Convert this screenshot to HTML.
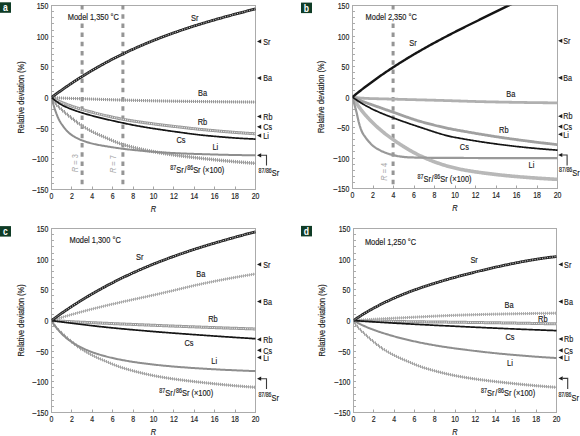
<!DOCTYPE html>
<html><head><meta charset="utf-8"><style>
html,body{margin:0;padding:0;background:#fff;overflow:hidden;width:580px;height:436px;}
svg{display:block;font-family:"Liberation Sans",sans-serif;}
</style></head><body>
<svg width="580" height="436" viewBox="0 0 580 436">
<defs><clipPath id="clipa"><rect x="51.5" y="5.5" width="206.0" height="184.0"/></clipPath><clipPath id="clipb"><rect x="352.5" y="5.5" width="207.0" height="183.0"/></clipPath><clipPath id="clipc"><rect x="51.5" y="228.5" width="206.0" height="184.0"/></clipPath><clipPath id="clipd"><rect x="353.5" y="228.5" width="205.0" height="184.0"/></clipPath></defs><rect x="51.5" y="5.5" width="204.00" height="184.00" fill="none" stroke="#ababab" stroke-width="1"/><line x1="51.5" y1="183.50" x2="54.0" y2="183.50" stroke="#ababab" stroke-width="1"/><line x1="51.5" y1="177.50" x2="54.0" y2="177.50" stroke="#ababab" stroke-width="1"/><line x1="51.5" y1="171.50" x2="54.0" y2="171.50" stroke="#ababab" stroke-width="1"/><line x1="51.5" y1="164.50" x2="54.0" y2="164.50" stroke="#ababab" stroke-width="1"/><line x1="51.5" y1="158.50" x2="54.0" y2="158.50" stroke="#ababab" stroke-width="1"/><line x1="51.5" y1="152.50" x2="54.0" y2="152.50" stroke="#ababab" stroke-width="1"/><line x1="51.5" y1="146.50" x2="54.0" y2="146.50" stroke="#ababab" stroke-width="1"/><line x1="51.5" y1="140.50" x2="54.0" y2="140.50" stroke="#ababab" stroke-width="1"/><line x1="51.5" y1="134.50" x2="54.0" y2="134.50" stroke="#ababab" stroke-width="1"/><line x1="51.5" y1="128.50" x2="54.0" y2="128.50" stroke="#ababab" stroke-width="1"/><line x1="51.5" y1="122.50" x2="54.0" y2="122.50" stroke="#ababab" stroke-width="1"/><line x1="51.5" y1="115.50" x2="54.0" y2="115.50" stroke="#ababab" stroke-width="1"/><line x1="51.5" y1="109.50" x2="54.0" y2="109.50" stroke="#ababab" stroke-width="1"/><line x1="51.5" y1="103.50" x2="54.0" y2="103.50" stroke="#ababab" stroke-width="1"/><line x1="51.5" y1="97.50" x2="54.0" y2="97.50" stroke="#ababab" stroke-width="1"/><line x1="51.5" y1="91.50" x2="54.0" y2="91.50" stroke="#ababab" stroke-width="1"/><line x1="51.5" y1="85.50" x2="54.0" y2="85.50" stroke="#ababab" stroke-width="1"/><line x1="51.5" y1="79.50" x2="54.0" y2="79.50" stroke="#ababab" stroke-width="1"/><line x1="51.5" y1="72.50" x2="54.0" y2="72.50" stroke="#ababab" stroke-width="1"/><line x1="51.5" y1="66.50" x2="54.0" y2="66.50" stroke="#ababab" stroke-width="1"/><line x1="51.5" y1="60.50" x2="54.0" y2="60.50" stroke="#ababab" stroke-width="1"/><line x1="51.5" y1="54.50" x2="54.0" y2="54.50" stroke="#ababab" stroke-width="1"/><line x1="51.5" y1="48.50" x2="54.0" y2="48.50" stroke="#ababab" stroke-width="1"/><line x1="51.5" y1="42.50" x2="54.0" y2="42.50" stroke="#ababab" stroke-width="1"/><line x1="51.5" y1="36.50" x2="54.0" y2="36.50" stroke="#ababab" stroke-width="1"/><line x1="51.5" y1="30.50" x2="54.0" y2="30.50" stroke="#ababab" stroke-width="1"/><line x1="51.5" y1="23.50" x2="54.0" y2="23.50" stroke="#ababab" stroke-width="1"/><line x1="51.5" y1="17.50" x2="54.0" y2="17.50" stroke="#ababab" stroke-width="1"/><line x1="51.5" y1="11.50" x2="54.0" y2="11.50" stroke="#ababab" stroke-width="1"/><line x1="71.50" y1="189.5" x2="71.50" y2="186.5" stroke="#a5a5a5" stroke-width="1"/><line x1="92.50" y1="189.5" x2="92.50" y2="186.5" stroke="#a5a5a5" stroke-width="1"/><line x1="112.50" y1="189.5" x2="112.50" y2="186.5" stroke="#a5a5a5" stroke-width="1"/><line x1="133.50" y1="189.5" x2="133.50" y2="186.5" stroke="#a5a5a5" stroke-width="1"/><line x1="153.50" y1="189.5" x2="153.50" y2="186.5" stroke="#a5a5a5" stroke-width="1"/><line x1="173.50" y1="189.5" x2="173.50" y2="186.5" stroke="#a5a5a5" stroke-width="1"/><line x1="194.50" y1="189.5" x2="194.50" y2="186.5" stroke="#a5a5a5" stroke-width="1"/><line x1="214.50" y1="189.5" x2="214.50" y2="186.5" stroke="#a5a5a5" stroke-width="1"/><line x1="235.50" y1="189.5" x2="235.50" y2="186.5" stroke="#a5a5a5" stroke-width="1"/><text transform="translate(48.30,193.10) scale(0.8,1)" text-anchor="end" font-size="8.7" fill="#1c1c1c" stroke="#1c1c1c" stroke-width="0.16" ><tspan font-size="10.6" dy="0.6" stroke-width="0">&#8722;</tspan><tspan dy="-0.6">150</tspan></text><text transform="translate(48.30,162.43) scale(0.8,1)" text-anchor="end" font-size="8.7" fill="#1c1c1c" stroke="#1c1c1c" stroke-width="0.16" ><tspan font-size="10.6" dy="0.6" stroke-width="0">&#8722;</tspan><tspan dy="-0.6">100</tspan></text><text transform="translate(48.30,131.77) scale(0.8,1)" text-anchor="end" font-size="8.7" fill="#1c1c1c" stroke="#1c1c1c" stroke-width="0.16" ><tspan font-size="10.6" dy="0.6" stroke-width="0">&#8722;</tspan><tspan dy="-0.6">50</tspan></text><text transform="translate(48.30,101.10) scale(0.8,1)" text-anchor="end" font-size="8.7" fill="#1c1c1c" stroke="#1c1c1c" stroke-width="0.16" >0</text><text transform="translate(48.30,70.43) scale(0.8,1)" text-anchor="end" font-size="8.7" fill="#1c1c1c" stroke="#1c1c1c" stroke-width="0.16" >50</text><text transform="translate(48.30,39.77) scale(0.8,1)" text-anchor="end" font-size="8.7" fill="#1c1c1c" stroke="#1c1c1c" stroke-width="0.16" >100</text><text transform="translate(48.30,9.10) scale(0.8,1)" text-anchor="end" font-size="8.7" fill="#1c1c1c" stroke="#1c1c1c" stroke-width="0.16" >150</text><text transform="translate(51.50,199.40) scale(0.8,1)" text-anchor="middle" font-size="8.7" fill="#1c1c1c" stroke="#1c1c1c" stroke-width="0.16" >0</text><text transform="translate(71.90,199.40) scale(0.8,1)" text-anchor="middle" font-size="8.7" fill="#1c1c1c" stroke="#1c1c1c" stroke-width="0.16" >2</text><text transform="translate(92.30,199.40) scale(0.8,1)" text-anchor="middle" font-size="8.7" fill="#1c1c1c" stroke="#1c1c1c" stroke-width="0.16" >4</text><text transform="translate(112.70,199.40) scale(0.8,1)" text-anchor="middle" font-size="8.7" fill="#1c1c1c" stroke="#1c1c1c" stroke-width="0.16" >6</text><text transform="translate(133.10,199.40) scale(0.8,1)" text-anchor="middle" font-size="8.7" fill="#1c1c1c" stroke="#1c1c1c" stroke-width="0.16" >8</text><text transform="translate(153.50,199.40) scale(0.8,1)" text-anchor="middle" font-size="8.7" fill="#1c1c1c" stroke="#1c1c1c" stroke-width="0.16" >10</text><text transform="translate(173.90,199.40) scale(0.8,1)" text-anchor="middle" font-size="8.7" fill="#1c1c1c" stroke="#1c1c1c" stroke-width="0.16" >12</text><text transform="translate(194.30,199.40) scale(0.8,1)" text-anchor="middle" font-size="8.7" fill="#1c1c1c" stroke="#1c1c1c" stroke-width="0.16" >14</text><text transform="translate(214.70,199.40) scale(0.8,1)" text-anchor="middle" font-size="8.7" fill="#1c1c1c" stroke="#1c1c1c" stroke-width="0.16" >16</text><text transform="translate(235.10,199.40) scale(0.8,1)" text-anchor="middle" font-size="8.7" fill="#1c1c1c" stroke="#1c1c1c" stroke-width="0.16" >18</text><text transform="translate(255.50,199.40) scale(0.8,1)" text-anchor="middle" font-size="8.7" fill="#1c1c1c" stroke="#1c1c1c" stroke-width="0.16" >20</text><text transform="translate(153.50,211.50) scale(0.855,1)" text-anchor="middle" font-size="8.7" fill="#1c1c1c" stroke="#1c1c1c" stroke-width="0.16" font-style="italic">R</text><text transform="translate(24.30,97.50) rotate(-90) scale(0.855,1)" text-anchor="middle" font-size="8.7" fill="#1c1c1c" stroke="#1c1c1c" stroke-width="0.16">Relative deviation (%)</text><line x1="82.10" y1="5.0" x2="82.10" y2="189.5" stroke="#959595" stroke-width="3" stroke-dasharray="4.5 4.7"/><line x1="122.90" y1="5.0" x2="122.90" y2="189.5" stroke="#959595" stroke-width="3" stroke-dasharray="4.5 4.7"/><path d="M51.50,97.50 L52.52,98.03 L53.54,98.56 L54.56,99.09 L55.58,99.60 L56.60,100.10 L57.62,100.59 L58.64,101.07 L59.66,101.53 L60.68,101.98 L61.70,102.41 L62.72,102.82 L63.74,103.23 L64.76,103.63 L65.78,104.02 L66.80,104.41 L67.82,104.79 L68.84,105.16 L69.86,105.53 L70.88,105.89 L71.90,106.24 L72.92,106.59 L73.94,106.93 L74.96,107.27 L75.98,107.60 L77.00,107.92 L78.02,108.24 L79.04,108.55 L80.06,108.86 L81.08,109.16 L82.10,109.46 L83.12,109.75 L84.14,110.05 L85.16,110.34 L86.18,110.62 L87.20,110.91 L88.22,111.19 L89.24,111.47 L90.26,111.75 L91.28,112.02 L92.30,112.29 L93.32,112.57 L94.34,112.83 L95.36,113.10 L96.38,113.36 L97.40,113.62 L98.42,113.88 L99.44,114.13 L100.46,114.39 L101.48,114.64 L102.50,114.88 L103.52,115.13 L104.54,115.37 L105.56,115.61 L106.58,115.85 L107.60,116.08 L108.62,116.32 L109.64,116.54 L110.66,116.77 L111.68,116.99 L112.70,117.22 L113.72,117.43 L114.74,117.65 L115.76,117.86 L116.78,118.07 L117.80,118.28 L118.82,118.48 L119.84,118.69 L120.86,118.88 L121.88,119.08 L122.90,119.27 L123.92,119.46 L124.94,119.65 L125.96,119.83 L126.98,120.01 L128.00,120.18 L129.02,120.35 L130.04,120.52 L131.06,120.68 L132.08,120.84 L133.10,121.00 L134.12,121.16 L135.14,121.31 L136.16,121.47 L137.18,121.62 L138.20,121.77 L139.22,121.92 L140.24,122.06 L141.26,122.21 L142.28,122.35 L143.30,122.50 L144.32,122.64 L145.34,122.78 L146.36,122.92 L147.38,123.06 L148.40,123.20 L149.42,123.34 L150.44,123.48 L151.46,123.61 L152.48,123.74 L153.50,123.88 L154.52,124.01 L155.54,124.14 L156.56,124.27 L157.58,124.40 L158.60,124.53 L159.62,124.66 L160.64,124.79 L161.66,124.91 L162.68,125.04 L163.70,125.17 L164.72,125.29 L165.74,125.42 L166.76,125.54 L167.78,125.66 L168.80,125.78 L169.82,125.91 L170.84,126.03 L171.86,126.15 L172.88,126.27 L173.90,126.39 L174.92,126.51 L175.94,126.63 L176.96,126.75 L177.98,126.87 L179.00,126.99 L180.02,127.11 L181.04,127.23 L182.06,127.35 L183.08,127.47 L184.10,127.59 L185.12,127.71 L186.14,127.82 L187.16,127.94 L188.18,128.05 L189.20,128.17 L190.22,128.28 L191.24,128.40 L192.26,128.51 L193.28,128.62 L194.30,128.73 L195.32,128.84 L196.34,128.95 L197.36,129.05 L198.38,129.16 L199.40,129.26 L200.42,129.37 L201.44,129.47 L202.46,129.57 L203.48,129.67 L204.50,129.76 L205.52,129.86 L206.54,129.95 L207.56,130.05 L208.58,130.14 L209.60,130.23 L210.62,130.33 L211.64,130.42 L212.66,130.51 L213.68,130.60 L214.70,130.69 L215.72,130.79 L216.74,130.88 L217.76,130.97 L218.78,131.05 L219.80,131.14 L220.82,131.23 L221.84,131.32 L222.86,131.41 L223.88,131.49 L224.90,131.58 L225.92,131.66 L226.94,131.75 L227.96,131.83 L228.98,131.92 L230.00,132.00 L231.02,132.08 L232.04,132.16 L233.06,132.24 L234.08,132.32 L235.10,132.40 L236.12,132.48 L237.14,132.56 L238.16,132.63 L239.18,132.71 L240.20,132.79 L241.22,132.86 L242.24,132.93 L243.26,133.01 L244.28,133.08 L245.30,133.15 L246.32,133.22 L247.34,133.29 L248.36,133.36 L249.38,133.42 L250.40,133.49 L251.42,133.56 L252.44,133.62 L253.46,133.68 L254.48,133.75 L255.50,133.81" clip-path="url(#clipa)" fill="none" stroke="#9a9a9a" stroke-width="3"/><path d="M51.50,97.50 L52.52,98.03 L53.54,98.56 L54.56,99.09 L55.58,99.60 L56.60,100.10 L57.62,100.59 L58.64,101.07 L59.66,101.53 L60.68,101.98 L61.70,102.41 L62.72,102.82 L63.74,103.23 L64.76,103.63 L65.78,104.02 L66.80,104.41 L67.82,104.79 L68.84,105.16 L69.86,105.53 L70.88,105.89 L71.90,106.24 L72.92,106.59 L73.94,106.93 L74.96,107.27 L75.98,107.60 L77.00,107.92 L78.02,108.24 L79.04,108.55 L80.06,108.86 L81.08,109.16 L82.10,109.46 L83.12,109.75 L84.14,110.05 L85.16,110.34 L86.18,110.62 L87.20,110.91 L88.22,111.19 L89.24,111.47 L90.26,111.75 L91.28,112.02 L92.30,112.29 L93.32,112.57 L94.34,112.83 L95.36,113.10 L96.38,113.36 L97.40,113.62 L98.42,113.88 L99.44,114.13 L100.46,114.39 L101.48,114.64 L102.50,114.88 L103.52,115.13 L104.54,115.37 L105.56,115.61 L106.58,115.85 L107.60,116.08 L108.62,116.32 L109.64,116.54 L110.66,116.77 L111.68,116.99 L112.70,117.22 L113.72,117.43 L114.74,117.65 L115.76,117.86 L116.78,118.07 L117.80,118.28 L118.82,118.48 L119.84,118.69 L120.86,118.88 L121.88,119.08 L122.90,119.27 L123.92,119.46 L124.94,119.65 L125.96,119.83 L126.98,120.01 L128.00,120.18 L129.02,120.35 L130.04,120.52 L131.06,120.68 L132.08,120.84 L133.10,121.00 L134.12,121.16 L135.14,121.31 L136.16,121.47 L137.18,121.62 L138.20,121.77 L139.22,121.92 L140.24,122.06 L141.26,122.21 L142.28,122.35 L143.30,122.50 L144.32,122.64 L145.34,122.78 L146.36,122.92 L147.38,123.06 L148.40,123.20 L149.42,123.34 L150.44,123.48 L151.46,123.61 L152.48,123.74 L153.50,123.88 L154.52,124.01 L155.54,124.14 L156.56,124.27 L157.58,124.40 L158.60,124.53 L159.62,124.66 L160.64,124.79 L161.66,124.91 L162.68,125.04 L163.70,125.17 L164.72,125.29 L165.74,125.42 L166.76,125.54 L167.78,125.66 L168.80,125.78 L169.82,125.91 L170.84,126.03 L171.86,126.15 L172.88,126.27 L173.90,126.39 L174.92,126.51 L175.94,126.63 L176.96,126.75 L177.98,126.87 L179.00,126.99 L180.02,127.11 L181.04,127.23 L182.06,127.35 L183.08,127.47 L184.10,127.59 L185.12,127.71 L186.14,127.82 L187.16,127.94 L188.18,128.05 L189.20,128.17 L190.22,128.28 L191.24,128.40 L192.26,128.51 L193.28,128.62 L194.30,128.73 L195.32,128.84 L196.34,128.95 L197.36,129.05 L198.38,129.16 L199.40,129.26 L200.42,129.37 L201.44,129.47 L202.46,129.57 L203.48,129.67 L204.50,129.76 L205.52,129.86 L206.54,129.95 L207.56,130.05 L208.58,130.14 L209.60,130.23 L210.62,130.33 L211.64,130.42 L212.66,130.51 L213.68,130.60 L214.70,130.69 L215.72,130.79 L216.74,130.88 L217.76,130.97 L218.78,131.05 L219.80,131.14 L220.82,131.23 L221.84,131.32 L222.86,131.41 L223.88,131.49 L224.90,131.58 L225.92,131.66 L226.94,131.75 L227.96,131.83 L228.98,131.92 L230.00,132.00 L231.02,132.08 L232.04,132.16 L233.06,132.24 L234.08,132.32 L235.10,132.40 L236.12,132.48 L237.14,132.56 L238.16,132.63 L239.18,132.71 L240.20,132.79 L241.22,132.86 L242.24,132.93 L243.26,133.01 L244.28,133.08 L245.30,133.15 L246.32,133.22 L247.34,133.29 L248.36,133.36 L249.38,133.42 L250.40,133.49 L251.42,133.56 L252.44,133.62 L253.46,133.68 L254.48,133.75 L255.50,133.81" clip-path="url(#clipa)" fill="none" stroke="#f0f0f0" stroke-width="1.1" stroke-dasharray="1 1.2"/><path d="M51.50,97.50 L52.52,97.57 L53.54,97.64 L54.56,97.71 L55.58,97.77 L56.60,97.84 L57.62,97.90 L58.64,97.96 L59.66,98.01 L60.68,98.07 L61.70,98.11 L62.72,98.16 L63.74,98.20 L64.76,98.24 L65.78,98.28 L66.80,98.31 L67.82,98.35 L68.84,98.38 L69.86,98.42 L70.88,98.45 L71.90,98.48 L72.92,98.51 L73.94,98.54 L74.96,98.57 L75.98,98.60 L77.00,98.63 L78.02,98.66 L79.04,98.69 L80.06,98.72 L81.08,98.76 L82.10,98.79 L83.12,98.82 L84.14,98.85 L85.16,98.89 L86.18,98.92 L87.20,98.96 L88.22,98.99 L89.24,99.02 L90.26,99.06 L91.28,99.09 L92.30,99.13 L93.32,99.16 L94.34,99.19 L95.36,99.23 L96.38,99.26 L97.40,99.30 L98.42,99.33 L99.44,99.36 L100.46,99.40 L101.48,99.43 L102.50,99.47 L103.52,99.50 L104.54,99.53 L105.56,99.56 L106.58,99.60 L107.60,99.63 L108.62,99.66 L109.64,99.69 L110.66,99.73 L111.68,99.76 L112.70,99.79 L113.72,99.82 L114.74,99.85 L115.76,99.88 L116.78,99.91 L117.80,99.94 L118.82,99.97 L119.84,99.99 L120.86,100.02 L121.88,100.05 L122.90,100.08 L123.92,100.10 L124.94,100.13 L125.96,100.15 L126.98,100.18 L128.00,100.21 L129.02,100.23 L130.04,100.26 L131.06,100.28 L132.08,100.31 L133.10,100.34 L134.12,100.36 L135.14,100.39 L136.16,100.41 L137.18,100.44 L138.20,100.46 L139.22,100.49 L140.24,100.51 L141.26,100.54 L142.28,100.56 L143.30,100.58 L144.32,100.61 L145.34,100.63 L146.36,100.65 L147.38,100.68 L148.40,100.70 L149.42,100.72 L150.44,100.75 L151.46,100.77 L152.48,100.79 L153.50,100.81 L154.52,100.83 L155.54,100.85 L156.56,100.87 L157.58,100.90 L158.60,100.92 L159.62,100.94 L160.64,100.96 L161.66,100.97 L162.68,100.99 L163.70,101.01 L164.72,101.03 L165.74,101.05 L166.76,101.07 L167.78,101.08 L168.80,101.10 L169.82,101.12 L170.84,101.13 L171.86,101.15 L172.88,101.16 L173.90,101.18 L174.92,101.19 L175.94,101.21 L176.96,101.22 L177.98,101.24 L179.00,101.25 L180.02,101.27 L181.04,101.28 L182.06,101.30 L183.08,101.31 L184.10,101.33 L185.12,101.34 L186.14,101.36 L187.16,101.37 L188.18,101.38 L189.20,101.40 L190.22,101.41 L191.24,101.43 L192.26,101.44 L193.28,101.45 L194.30,101.47 L195.32,101.48 L196.34,101.49 L197.36,101.51 L198.38,101.52 L199.40,101.53 L200.42,101.55 L201.44,101.56 L202.46,101.57 L203.48,101.59 L204.50,101.60 L205.52,101.61 L206.54,101.62 L207.56,101.64 L208.58,101.65 L209.60,101.66 L210.62,101.67 L211.64,101.69 L212.66,101.70 L213.68,101.71 L214.70,101.72 L215.72,101.73 L216.74,101.74 L217.76,101.75 L218.78,101.76 L219.80,101.78 L220.82,101.79 L221.84,101.80 L222.86,101.81 L223.88,101.82 L224.90,101.83 L225.92,101.84 L226.94,101.85 L227.96,101.86 L228.98,101.87 L230.00,101.87 L231.02,101.88 L232.04,101.89 L233.06,101.90 L234.08,101.91 L235.10,101.92 L236.12,101.93 L237.14,101.93 L238.16,101.94 L239.18,101.95 L240.20,101.96 L241.22,101.96 L242.24,101.97 L243.26,101.98 L244.28,101.98 L245.30,101.99 L246.32,102.00 L247.34,102.00 L248.36,102.01 L249.38,102.01 L250.40,102.02 L251.42,102.02 L252.44,102.03 L253.46,102.03 L254.48,102.03 L255.50,102.04" clip-path="url(#clipa)" fill="none" stroke="#b0b0b0" stroke-width="1"/><path d="M51.50,95.95v3.10M53.50,96.05v3.10M55.50,96.19v3.10M57.50,96.31v3.10M59.50,96.43v3.10M61.50,96.53v3.10M63.50,96.62v3.10M65.50,96.70v3.10M67.50,96.77v3.10M69.50,96.84v3.10M71.50,96.90v3.10M73.50,96.96v3.10M75.50,97.02v3.10M77.50,97.08v3.10M79.50,97.14v3.10M81.50,97.20v3.10M83.50,97.27v3.10M85.50,97.33v3.10M87.50,97.40v3.10M89.50,97.47v3.10M91.50,97.53v3.10M93.50,97.60v3.10M95.50,97.67v3.10M97.50,97.73v3.10M99.50,97.80v3.10M101.50,97.87v3.10M103.50,97.93v3.10M105.50,98.00v3.10M107.50,98.06v3.10M109.50,98.12v3.10M111.50,98.19v3.10M113.50,98.25v3.10M115.50,98.31v3.10M117.50,98.37v3.10M119.50,98.42v3.10M121.50,98.48v3.10M123.50,98.53v3.10M125.50,98.58v3.10M127.50,98.63v3.10M129.50,98.68v3.10M131.50,98.73v3.10M133.50,98.78v3.10M135.50,98.83v3.10M137.50,98.88v3.10M139.50,98.93v3.10M141.50,98.98v3.10M143.50,99.03v3.10M145.50,99.07v3.10M147.50,99.12v3.10M149.50,99.16v3.10M151.50,99.21v3.10M153.50,99.25v3.10M155.50,99.29v3.10M157.50,99.33v3.10M159.50,99.37v3.10M161.50,99.41v3.10M163.50,99.45v3.10M165.50,99.49v3.10M167.50,99.52v3.10M169.50,99.55v3.10M171.50,99.59v3.10M173.50,99.62v3.10M175.50,99.65v3.10M177.50,99.68v3.10M179.50,99.70v3.10M181.50,99.73v3.10M183.50,99.76v3.10M185.50,99.79v3.10M187.50,99.82v3.10M189.50,99.85v3.10M191.50,99.87v3.10M193.50,99.90v3.10M195.50,99.93v3.10M197.50,99.95v3.10M199.50,99.98v3.10M201.50,100.01v3.10M203.50,100.03v3.10M205.50,100.06v3.10M207.50,100.08v3.10M209.50,100.10v3.10M211.50,100.13v3.10M213.50,100.15v3.10M215.50,100.17v3.10M217.50,100.20v3.10M219.50,100.22v3.10M221.50,100.24v3.10M223.50,100.26v3.10M225.50,100.28v3.10M227.50,100.30v3.10M229.50,100.32v3.10M231.50,100.33v3.10M233.50,100.35v3.10M235.50,100.37v3.10M237.50,100.38v3.10M239.50,100.40v3.10M241.50,100.41v3.10M243.50,100.43v3.10M245.50,100.44v3.10M247.50,100.45v3.10M249.50,100.46v3.10M251.50,100.47v3.10M253.50,100.48v3.10M255.50,100.49v3.10" fill="none" stroke="#979797" stroke-width="1"/><path d="M51.50,97.50 L52.52,99.36 L53.54,101.11 L54.56,102.65 L55.58,103.95 L56.60,105.08 L57.62,106.11 L58.64,107.06 L59.66,107.97 L60.68,108.86 L61.70,109.77 L62.72,110.68 L63.74,111.59 L64.76,112.47 L65.78,113.35 L66.80,114.21 L67.82,115.06 L68.84,115.90 L69.86,116.73 L70.88,117.55 L71.90,118.35 L72.92,119.16 L73.94,119.95 L74.96,120.74 L75.98,121.53 L77.00,122.30 L78.02,123.05 L79.04,123.80 L80.06,124.52 L81.08,125.22 L82.10,125.90 L83.12,126.56 L84.14,127.20 L85.16,127.83 L86.18,128.45 L87.20,129.06 L88.22,129.64 L89.24,130.22 L90.26,130.78 L91.28,131.32 L92.30,131.85 L93.32,132.36 L94.34,132.85 L95.36,133.33 L96.38,133.80 L97.40,134.25 L98.42,134.70 L99.44,135.14 L100.46,135.58 L101.48,136.01 L102.50,136.45 L103.52,136.88 L104.54,137.33 L105.56,137.77 L106.58,138.22 L107.60,138.66 L108.62,139.11 L109.64,139.55 L110.66,139.99 L111.68,140.43 L112.70,140.86 L113.72,141.29 L114.74,141.70 L115.76,142.11 L116.78,142.51 L117.80,142.89 L118.82,143.26 L119.84,143.62 L120.86,143.97 L121.88,144.29 L122.90,144.60 L123.92,144.90 L124.94,145.20 L125.96,145.49 L126.98,145.77 L128.00,146.05 L129.02,146.32 L130.04,146.60 L131.06,146.86 L132.08,147.12 L133.10,147.38 L134.12,147.64 L135.14,147.89 L136.16,148.13 L137.18,148.37 L138.20,148.61 L139.22,148.84 L140.24,149.07 L141.26,149.30 L142.28,149.52 L143.30,149.74 L144.32,149.96 L145.34,150.17 L146.36,150.38 L147.38,150.59 L148.40,150.79 L149.42,150.99 L150.44,151.18 L151.46,151.38 L152.48,151.57 L153.50,151.76 L154.52,151.94 L155.54,152.12 L156.56,152.30 L157.58,152.48 L158.60,152.65 L159.62,152.82 L160.64,152.99 L161.66,153.16 L162.68,153.32 L163.70,153.49 L164.72,153.65 L165.74,153.81 L166.76,153.96 L167.78,154.12 L168.80,154.27 L169.82,154.42 L170.84,154.57 L171.86,154.72 L172.88,154.86 L173.90,155.01 L174.92,155.15 L175.94,155.29 L176.96,155.43 L177.98,155.57 L179.00,155.70 L180.02,155.84 L181.04,155.97 L182.06,156.10 L183.08,156.23 L184.10,156.36 L185.12,156.49 L186.14,156.61 L187.16,156.74 L188.18,156.86 L189.20,156.98 L190.22,157.11 L191.24,157.23 L192.26,157.35 L193.28,157.46 L194.30,157.58 L195.32,157.70 L196.34,157.81 L197.36,157.93 L198.38,158.04 L199.40,158.16 L200.42,158.27 L201.44,158.38 L202.46,158.49 L203.48,158.60 L204.50,158.71 L205.52,158.82 L206.54,158.93 L207.56,159.04 L208.58,159.14 L209.60,159.25 L210.62,159.36 L211.64,159.46 L212.66,159.57 L213.68,159.67 L214.70,159.78 L215.72,159.88 L216.74,159.98 L217.76,160.09 L218.78,160.19 L219.80,160.29 L220.82,160.39 L221.84,160.49 L222.86,160.59 L223.88,160.69 L224.90,160.78 L225.92,160.88 L226.94,160.98 L227.96,161.07 L228.98,161.17 L230.00,161.26 L231.02,161.35 L232.04,161.44 L233.06,161.53 L234.08,161.63 L235.10,161.71 L236.12,161.80 L237.14,161.89 L238.16,161.98 L239.18,162.06 L240.20,162.15 L241.22,162.23 L242.24,162.32 L243.26,162.40 L244.28,162.48 L245.30,162.56 L246.32,162.64 L247.34,162.72 L248.36,162.80 L249.38,162.87 L250.40,162.95 L251.42,163.02 L252.44,163.10 L253.46,163.17 L254.48,163.24 L255.50,163.31" clip-path="url(#clipa)" fill="none" stroke="#b4b4b4" stroke-width="1.5"/><path d="M51.50,95.70v3.60M52.50,97.84v3.60M53.50,99.91v3.60M55.50,101.46v3.60M56.50,103.28v3.60M58.50,104.68v3.60M59.50,106.28v3.60M61.50,107.35v3.60M62.50,108.97v3.60M64.50,110.03v3.60M65.50,111.61v3.60M67.50,112.58v3.60M68.50,114.12v3.60M70.50,115.05v3.60M71.50,116.55v3.60M73.50,117.44v3.60M74.50,118.92v3.60M76.50,119.75v3.60M77.50,121.20v3.60M79.50,121.98v3.60M81.50,123.37v3.60M83.50,124.69v3.60M85.50,125.94v3.60M87.50,127.15v3.60M89.50,128.29v3.60M91.50,129.39v3.60M93.50,130.41v3.60M95.50,131.36v3.60M97.50,132.28v3.60M99.50,133.15v3.60M101.50,134.02v3.60M103.50,134.86v3.60M105.50,135.74v3.60M107.50,136.61v3.60M109.50,137.48v3.60M111.50,138.35v3.60M113.50,139.19v3.60M115.50,140.01v3.60M117.50,140.79v3.60M119.50,141.54v3.60M121.50,142.22v3.60M123.50,142.83v3.60M125.50,143.42v3.60M127.50,143.98v3.60M129.50,144.52v3.60M131.50,145.05v3.60M133.50,145.56v3.60M135.50,146.05v3.60M137.50,146.53v3.60M139.50,147.00v3.60M141.50,147.44v3.60M143.50,147.88v3.60M145.50,148.30v3.60M147.50,148.71v3.60M149.50,149.11v3.60M151.50,149.49v3.60M153.50,149.87v3.60M155.50,150.23v3.60M157.50,150.58v3.60M159.50,150.92v3.60M161.50,151.25v3.60M163.50,151.58v3.60M165.50,151.89v3.60M167.50,152.20v3.60M169.50,152.50v3.60M171.50,152.80v3.60M173.50,153.08v3.60M175.50,153.36v3.60M177.50,153.64v3.60M179.50,153.90v3.60M181.50,154.17v3.60M183.50,154.42v3.60M185.50,154.67v3.60M187.50,154.92v3.60M189.50,155.16v3.60M191.50,155.40v3.60M193.50,155.63v3.60M195.50,155.86v3.60M197.50,156.09v3.60M199.50,156.31v3.60M201.50,156.53v3.60M203.50,156.75v3.60M205.50,156.97v3.60M207.50,157.18v3.60M209.50,157.39v3.60M211.50,157.60v3.60M213.50,157.81v3.60M215.50,158.01v3.60M217.50,158.21v3.60M219.50,158.41v3.60M221.50,158.61v3.60M223.50,158.80v3.60M225.50,158.99v3.60M227.50,159.18v3.60M229.50,159.37v3.60M231.50,159.55v3.60M233.50,159.73v3.60M235.50,159.91v3.60M237.50,160.08v3.60M239.50,160.25v3.60M241.50,160.42v3.60M243.50,160.58v3.60M245.50,160.74v3.60M247.50,160.89v3.60M249.50,161.05v3.60M251.50,161.19v3.60M253.50,161.34v3.60M255.50,161.48v3.60" fill="none" stroke="#9c9c9c" stroke-width="1"/><path d="M51.50,97.50 L52.52,101.49 L53.54,105.07 L54.56,108.33 L55.58,111.35 L56.60,114.20 L57.62,116.74 L58.64,118.97 L59.66,120.95 L60.68,122.68 L61.70,124.24 L62.72,125.67 L63.74,127.06 L64.76,128.40 L65.78,129.67 L66.80,130.82 L67.82,131.84 L68.84,132.77 L69.86,133.63 L70.88,134.42 L71.90,135.15 L72.92,135.82 L73.94,136.45 L74.96,137.03 L75.98,137.59 L77.00,138.11 L78.02,138.62 L79.04,139.11 L80.06,139.58 L81.08,140.01 L82.10,140.41 L83.12,140.79 L84.14,141.16 L85.16,141.51 L86.18,141.86 L87.20,142.19 L88.22,142.50 L89.24,142.81 L90.26,143.10 L91.28,143.37 L92.30,143.62 L93.32,143.86 L94.34,144.10 L95.36,144.32 L96.38,144.53 L97.40,144.73 L98.42,144.93 L99.44,145.12 L100.46,145.31 L101.48,145.49 L102.50,145.66 L103.52,145.84 L104.54,146.01 L105.56,146.18 L106.58,146.35 L107.60,146.51 L108.62,146.68 L109.64,146.84 L110.66,147.00 L111.68,147.16 L112.70,147.32 L113.72,147.48 L114.74,147.63 L115.76,147.78 L116.78,147.93 L117.80,148.08 L118.82,148.23 L119.84,148.37 L120.86,148.51 L121.88,148.64 L122.90,148.78 L123.92,148.91 L124.94,149.04 L125.96,149.16 L126.98,149.29 L128.00,149.41 L129.02,149.52 L130.04,149.63 L131.06,149.74 L132.08,149.85 L133.10,149.96 L134.12,150.07 L135.14,150.17 L136.16,150.27 L137.18,150.37 L138.20,150.47 L139.22,150.57 L140.24,150.67 L141.26,150.77 L142.28,150.86 L143.30,150.95 L144.32,151.04 L145.34,151.13 L146.36,151.22 L147.38,151.31 L148.40,151.39 L149.42,151.47 L150.44,151.55 L151.46,151.63 L152.48,151.71 L153.50,151.79 L154.52,151.86 L155.54,151.94 L156.56,152.01 L157.58,152.08 L158.60,152.14 L159.62,152.21 L160.64,152.27 L161.66,152.34 L162.68,152.40 L163.70,152.46 L164.72,152.52 L165.74,152.59 L166.76,152.65 L167.78,152.70 L168.80,152.76 L169.82,152.82 L170.84,152.88 L171.86,152.93 L172.88,152.99 L173.90,153.04 L174.92,153.09 L175.94,153.14 L176.96,153.19 L177.98,153.24 L179.00,153.29 L180.02,153.34 L181.04,153.38 L182.06,153.43 L183.08,153.47 L184.10,153.51 L185.12,153.56 L186.14,153.60 L187.16,153.63 L188.18,153.67 L189.20,153.71 L190.22,153.74 L191.24,153.78 L192.26,153.81 L193.28,153.84 L194.30,153.88 L195.32,153.91 L196.34,153.95 L197.36,153.98 L198.38,154.01 L199.40,154.05 L200.42,154.08 L201.44,154.11 L202.46,154.14 L203.48,154.18 L204.50,154.21 L205.52,154.24 L206.54,154.27 L207.56,154.30 L208.58,154.34 L209.60,154.37 L210.62,154.40 L211.64,154.43 L212.66,154.46 L213.68,154.49 L214.70,154.52 L215.72,154.55 L216.74,154.57 L217.76,154.60 L218.78,154.63 L219.80,154.66 L220.82,154.69 L221.84,154.71 L222.86,154.74 L223.88,154.76 L224.90,154.79 L225.92,154.81 L226.94,154.84 L227.96,154.86 L228.98,154.89 L230.00,154.91 L231.02,154.93 L232.04,154.95 L233.06,154.97 L234.08,155.00 L235.10,155.02 L236.12,155.03 L237.14,155.05 L238.16,155.07 L239.18,155.09 L240.20,155.11 L241.22,155.12 L242.24,155.14 L243.26,155.15 L244.28,155.17 L245.30,155.18 L246.32,155.19 L247.34,155.21 L248.36,155.22 L249.38,155.23 L250.40,155.24 L251.42,155.25 L252.44,155.26 L253.46,155.26 L254.48,155.27 L255.50,155.28" clip-path="url(#clipa)" fill="none" stroke="#8e8e8e" stroke-width="2"/><path d="M51.50,97.50 L52.52,98.35 L53.54,99.18 L54.56,100.00 L55.58,100.80 L56.60,101.57 L57.62,102.31 L58.64,103.02 L59.66,103.68 L60.68,104.30 L61.70,104.86 L62.72,105.39 L63.74,105.89 L64.76,106.38 L65.78,106.86 L66.80,107.31 L67.82,107.75 L68.84,108.18 L69.86,108.60 L70.88,109.00 L71.90,109.39 L72.92,109.77 L73.94,110.14 L74.96,110.50 L75.98,110.85 L77.00,111.20 L78.02,111.53 L79.04,111.87 L80.06,112.19 L81.08,112.51 L82.10,112.83 L83.12,113.15 L84.14,113.46 L85.16,113.76 L86.18,114.07 L87.20,114.36 L88.22,114.66 L89.24,114.94 L90.26,115.23 L91.28,115.51 L92.30,115.79 L93.32,116.06 L94.34,116.33 L95.36,116.60 L96.38,116.86 L97.40,117.12 L98.42,117.38 L99.44,117.63 L100.46,117.88 L101.48,118.13 L102.50,118.38 L103.52,118.62 L104.54,118.86 L105.56,119.10 L106.58,119.34 L107.60,119.58 L108.62,119.81 L109.64,120.04 L110.66,120.27 L111.68,120.50 L112.70,120.73 L113.72,120.95 L114.74,121.18 L115.76,121.40 L116.78,121.63 L117.80,121.85 L118.82,122.07 L119.84,122.29 L120.86,122.51 L121.88,122.73 L122.90,122.95 L123.92,123.17 L124.94,123.39 L125.96,123.61 L126.98,123.82 L128.00,124.03 L129.02,124.24 L130.04,124.44 L131.06,124.65 L132.08,124.85 L133.10,125.05 L134.12,125.25 L135.14,125.44 L136.16,125.63 L137.18,125.82 L138.20,126.00 L139.22,126.18 L140.24,126.36 L141.26,126.54 L142.28,126.71 L143.30,126.89 L144.32,127.06 L145.34,127.23 L146.36,127.40 L147.38,127.56 L148.40,127.73 L149.42,127.89 L150.44,128.06 L151.46,128.22 L152.48,128.38 L153.50,128.54 L154.52,128.69 L155.54,128.85 L156.56,129.00 L157.58,129.16 L158.60,129.31 L159.62,129.46 L160.64,129.61 L161.66,129.76 L162.68,129.91 L163.70,130.06 L164.72,130.21 L165.74,130.36 L166.76,130.50 L167.78,130.65 L168.80,130.79 L169.82,130.93 L170.84,131.08 L171.86,131.22 L172.88,131.36 L173.90,131.50 L174.92,131.64 L175.94,131.79 L176.96,131.93 L177.98,132.07 L179.00,132.21 L180.02,132.35 L181.04,132.49 L182.06,132.64 L183.08,132.78 L184.10,132.92 L185.12,133.06 L186.14,133.20 L187.16,133.34 L188.18,133.48 L189.20,133.61 L190.22,133.75 L191.24,133.88 L192.26,134.02 L193.28,134.15 L194.30,134.27 L195.32,134.40 L196.34,134.52 L197.36,134.64 L198.38,134.76 L199.40,134.88 L200.42,134.99 L201.44,135.10 L202.46,135.20 L203.48,135.31 L204.50,135.40 L205.52,135.50 L206.54,135.60 L207.56,135.69 L208.58,135.79 L209.60,135.88 L210.62,135.97 L211.64,136.07 L212.66,136.16 L213.68,136.25 L214.70,136.34 L215.72,136.43 L216.74,136.52 L217.76,136.61 L218.78,136.70 L219.80,136.79 L220.82,136.87 L221.84,136.96 L222.86,137.04 L223.88,137.13 L224.90,137.21 L225.92,137.29 L226.94,137.37 L227.96,137.45 L228.98,137.53 L230.00,137.61 L231.02,137.68 L232.04,137.76 L233.06,137.83 L234.08,137.91 L235.10,137.98 L236.12,138.05 L237.14,138.12 L238.16,138.18 L239.18,138.25 L240.20,138.31 L241.22,138.38 L242.24,138.44 L243.26,138.50 L244.28,138.56 L245.30,138.61 L246.32,138.67 L247.34,138.72 L248.36,138.77 L249.38,138.82 L250.40,138.87 L251.42,138.92 L252.44,138.96 L253.46,139.00 L254.48,139.05 L255.50,139.08" clip-path="url(#clipa)" fill="none" stroke="#151515" stroke-width="1.7"/><path d="M51.50,97.50 L52.52,96.73 L53.54,95.97 L54.56,95.22 L55.58,94.47 L56.60,93.72 L57.62,92.98 L58.64,92.24 L59.66,91.51 L60.68,90.78 L61.70,90.05 L62.72,89.33 L63.74,88.62 L64.76,87.91 L65.78,87.20 L66.80,86.50 L67.82,85.80 L68.84,85.10 L69.86,84.42 L70.88,83.73 L71.90,83.05 L72.92,82.37 L73.94,81.70 L74.96,81.03 L75.98,80.37 L77.00,79.71 L78.02,79.05 L79.04,78.40 L80.06,77.75 L81.08,77.11 L82.10,76.47 L83.12,75.83 L84.14,75.20 L85.16,74.57 L86.18,73.95 L87.20,73.33 L88.22,72.71 L89.24,72.10 L90.26,71.49 L91.28,70.89 L92.30,70.29 L93.32,69.69 L94.34,69.10 L95.36,68.51 L96.38,67.92 L97.40,67.34 L98.42,66.76 L99.44,66.19 L100.46,65.62 L101.48,65.05 L102.50,64.49 L103.52,63.93 L104.54,63.37 L105.56,62.82 L106.58,62.27 L107.60,61.72 L108.62,61.18 L109.64,60.64 L110.66,60.11 L111.68,59.58 L112.70,59.05 L113.72,58.52 L114.74,58.00 L115.76,57.48 L116.78,56.97 L117.80,56.46 L118.82,55.95 L119.84,55.44 L120.86,54.94 L121.88,54.44 L122.90,53.95 L123.92,53.45 L124.94,52.96 L125.96,52.48 L126.98,52.00 L128.00,51.52 L129.02,51.04 L130.04,50.57 L131.06,50.09 L132.08,49.63 L133.10,49.16 L134.12,48.70 L135.14,48.24 L136.16,47.79 L137.18,47.33 L138.20,46.88 L139.22,46.44 L140.24,45.99 L141.26,45.55 L142.28,45.11 L143.30,44.67 L144.32,44.24 L145.34,43.81 L146.36,43.38 L147.38,42.96 L148.40,42.54 L149.42,42.12 L150.44,41.70 L151.46,41.28 L152.48,40.87 L153.50,40.46 L154.52,40.06 L155.54,39.65 L156.56,39.25 L157.58,38.85 L158.60,38.45 L159.62,38.06 L160.64,37.67 L161.66,37.28 L162.68,36.89 L163.70,36.51 L164.72,36.12 L165.74,35.74 L166.76,35.37 L167.78,34.99 L168.80,34.62 L169.82,34.25 L170.84,33.88 L171.86,33.51 L172.88,33.14 L173.90,32.78 L174.92,32.42 L175.94,32.06 L176.96,31.71 L177.98,31.35 L179.00,31.00 L180.02,30.65 L181.04,30.30 L182.06,29.96 L183.08,29.61 L184.10,29.27 L185.12,28.93 L186.14,28.59 L187.16,28.26 L188.18,27.92 L189.20,27.59 L190.22,27.26 L191.24,26.93 L192.26,26.60 L193.28,26.28 L194.30,25.95 L195.32,25.63 L196.34,25.31 L197.36,24.99 L198.38,24.67 L199.40,24.36 L200.42,24.04 L201.44,23.73 L202.46,23.42 L203.48,23.11 L204.50,22.80 L205.52,22.50 L206.54,22.19 L207.56,21.89 L208.58,21.59 L209.60,21.29 L210.62,20.99 L211.64,20.69 L212.66,20.40 L213.68,20.10 L214.70,19.81 L215.72,19.51 L216.74,19.22 L217.76,18.93 L218.78,18.64 L219.80,18.36 L220.82,18.07 L221.84,17.79 L222.86,17.50 L223.88,17.22 L224.90,16.94 L225.92,16.66 L226.94,16.38 L227.96,16.10 L228.98,15.82 L230.00,15.54 L231.02,15.27 L232.04,14.99 L233.06,14.72 L234.08,14.45 L235.10,14.18 L236.12,13.90 L237.14,13.63 L238.16,13.37 L239.18,13.10 L240.20,12.83 L241.22,12.56 L242.24,12.30 L243.26,12.03 L244.28,11.77 L245.30,11.50 L246.32,11.24 L247.34,10.97 L248.36,10.71 L249.38,10.45 L250.40,10.19 L251.42,9.93 L252.44,9.67 L253.46,9.41 L254.48,9.15 L255.50,8.89" clip-path="url(#clipa)" fill="none" stroke="#262626" stroke-width="2.8"/><path d="M51.50,97.50 L52.52,96.73 L53.54,95.97 L54.56,95.22 L55.58,94.47 L56.60,93.72 L57.62,92.98 L58.64,92.24 L59.66,91.51 L60.68,90.78 L61.70,90.05 L62.72,89.33 L63.74,88.62 L64.76,87.91 L65.78,87.20 L66.80,86.50 L67.82,85.80 L68.84,85.10 L69.86,84.42 L70.88,83.73 L71.90,83.05 L72.92,82.37 L73.94,81.70 L74.96,81.03 L75.98,80.37 L77.00,79.71 L78.02,79.05 L79.04,78.40 L80.06,77.75 L81.08,77.11 L82.10,76.47 L83.12,75.83 L84.14,75.20 L85.16,74.57 L86.18,73.95 L87.20,73.33 L88.22,72.71 L89.24,72.10 L90.26,71.49 L91.28,70.89 L92.30,70.29 L93.32,69.69 L94.34,69.10 L95.36,68.51 L96.38,67.92 L97.40,67.34 L98.42,66.76 L99.44,66.19 L100.46,65.62 L101.48,65.05 L102.50,64.49 L103.52,63.93 L104.54,63.37 L105.56,62.82 L106.58,62.27 L107.60,61.72 L108.62,61.18 L109.64,60.64 L110.66,60.11 L111.68,59.58 L112.70,59.05 L113.72,58.52 L114.74,58.00 L115.76,57.48 L116.78,56.97 L117.80,56.46 L118.82,55.95 L119.84,55.44 L120.86,54.94 L121.88,54.44 L122.90,53.95 L123.92,53.45 L124.94,52.96 L125.96,52.48 L126.98,52.00 L128.00,51.52 L129.02,51.04 L130.04,50.57 L131.06,50.09 L132.08,49.63 L133.10,49.16 L134.12,48.70 L135.14,48.24 L136.16,47.79 L137.18,47.33 L138.20,46.88 L139.22,46.44 L140.24,45.99 L141.26,45.55 L142.28,45.11 L143.30,44.67 L144.32,44.24 L145.34,43.81 L146.36,43.38 L147.38,42.96 L148.40,42.54 L149.42,42.12 L150.44,41.70 L151.46,41.28 L152.48,40.87 L153.50,40.46 L154.52,40.06 L155.54,39.65 L156.56,39.25 L157.58,38.85 L158.60,38.45 L159.62,38.06 L160.64,37.67 L161.66,37.28 L162.68,36.89 L163.70,36.51 L164.72,36.12 L165.74,35.74 L166.76,35.37 L167.78,34.99 L168.80,34.62 L169.82,34.25 L170.84,33.88 L171.86,33.51 L172.88,33.14 L173.90,32.78 L174.92,32.42 L175.94,32.06 L176.96,31.71 L177.98,31.35 L179.00,31.00 L180.02,30.65 L181.04,30.30 L182.06,29.96 L183.08,29.61 L184.10,29.27 L185.12,28.93 L186.14,28.59 L187.16,28.26 L188.18,27.92 L189.20,27.59 L190.22,27.26 L191.24,26.93 L192.26,26.60 L193.28,26.28 L194.30,25.95 L195.32,25.63 L196.34,25.31 L197.36,24.99 L198.38,24.67 L199.40,24.36 L200.42,24.04 L201.44,23.73 L202.46,23.42 L203.48,23.11 L204.50,22.80 L205.52,22.50 L206.54,22.19 L207.56,21.89 L208.58,21.59 L209.60,21.29 L210.62,20.99 L211.64,20.69 L212.66,20.40 L213.68,20.10 L214.70,19.81 L215.72,19.51 L216.74,19.22 L217.76,18.93 L218.78,18.64 L219.80,18.36 L220.82,18.07 L221.84,17.79 L222.86,17.50 L223.88,17.22 L224.90,16.94 L225.92,16.66 L226.94,16.38 L227.96,16.10 L228.98,15.82 L230.00,15.54 L231.02,15.27 L232.04,14.99 L233.06,14.72 L234.08,14.45 L235.10,14.18 L236.12,13.90 L237.14,13.63 L238.16,13.37 L239.18,13.10 L240.20,12.83 L241.22,12.56 L242.24,12.30 L243.26,12.03 L244.28,11.77 L245.30,11.50 L246.32,11.24 L247.34,10.97 L248.36,10.71 L249.38,10.45 L250.40,10.19 L251.42,9.93 L252.44,9.67 L253.46,9.41 L254.48,9.15 L255.50,8.89" clip-path="url(#clipa)" fill="none" stroke="#e8e8e8" stroke-width="1.0" stroke-dasharray="1.0 1.5"/><rect x="66.70" y="13.40" width="52.50" height="9" fill="#fff"/><text transform="translate(67.70,20.40) scale(0.855,1)" text-anchor="start" font-size="8.7" fill="#1c1c1c" stroke="#1c1c1c" stroke-width="0.16" >Model 1,350 °C</text><text transform="translate(194.70,21.10) scale(0.855,1)" text-anchor="middle" font-size="8.7" fill="#1c1c1c" stroke="#1c1c1c" stroke-width="0.16" >Sr</text><text transform="translate(202.50,96.40) scale(0.855,1)" text-anchor="middle" font-size="8.7" fill="#1c1c1c" stroke="#1c1c1c" stroke-width="0.16" >Ba</text><text transform="translate(202.50,124.90) scale(0.855,1)" text-anchor="middle" font-size="8.7" fill="#1c1c1c" stroke="#1c1c1c" stroke-width="0.16" >Rb</text><text transform="translate(181.00,143.30) scale(0.855,1)" text-anchor="middle" font-size="8.7" fill="#1c1c1c" stroke="#1c1c1c" stroke-width="0.16" >Cs</text><text transform="translate(215.30,150.20) scale(0.855,1)" text-anchor="middle" font-size="8.7" fill="#1c1c1c" stroke="#1c1c1c" stroke-width="0.16" >Li</text><text transform="translate(170.30,173.40) scale(0.855,1)" font-size="8.7" fill="#1c1c1c" stroke="#1c1c1c" stroke-width="0.16"><tspan font-size="6.3" dy="-3">87</tspan><tspan dy="3">Sr</tspan><tspan dx="0.8">/</tspan><tspan dx="0.8" font-size="6.3" dy="-3">86</tspan><tspan dy="3">Sr (×100)</tspan></text><text transform="translate(77.80,163.20) rotate(-90) scale(0.855,1)" text-anchor="middle" font-size="8.7" fill="#a8a8a8"><tspan font-style="italic">R</tspan> = 3</text><text transform="translate(116.20,164.10) rotate(-90) scale(0.855,1)" text-anchor="middle" font-size="8.7" fill="#a8a8a8"><tspan font-style="italic">R</tspan> = 7</text><path d="M257.00,41.40 L261.20,39.30 L261.20,43.50 Z" fill="#1c1c1c"/><text transform="translate(263.20,44.60) scale(0.8,1)" text-anchor="start" font-size="9" fill="#1c1c1c" stroke="#1c1c1c" stroke-width="0.16" >Sr</text><path d="M257.00,78.10 L261.20,76.00 L261.20,80.20 Z" fill="#1c1c1c"/><text transform="translate(263.20,81.30) scale(0.8,1)" text-anchor="start" font-size="9" fill="#1c1c1c" stroke="#1c1c1c" stroke-width="0.16" >Ba</text><path d="M257.00,116.50 L261.20,114.40 L261.20,118.60 Z" fill="#1c1c1c"/><text transform="translate(263.20,119.70) scale(0.8,1)" text-anchor="start" font-size="9" fill="#1c1c1c" stroke="#1c1c1c" stroke-width="0.16" >Rb</text><path d="M257.00,126.80 L261.20,124.70 L261.20,128.90 Z" fill="#1c1c1c"/><text transform="translate(263.20,130.00) scale(0.8,1)" text-anchor="start" font-size="9" fill="#1c1c1c" stroke="#1c1c1c" stroke-width="0.16" >Cs</text><path d="M257.00,135.60 L261.20,133.50 L261.20,137.70 Z" fill="#1c1c1c"/><text transform="translate(263.20,138.80) scale(0.8,1)" text-anchor="start" font-size="9" fill="#1c1c1c" stroke="#1c1c1c" stroke-width="0.16" >Li</text><path d="M257.00,155.30 L261.20,153.20 L261.20,157.40 Z" fill="#1c1c1c"/><path d="M261.00,155.30 H266.50 V165.60" fill="none" stroke="#3a3a3a" stroke-width="1.1"/><text transform="translate(258.60,176.10) scale(0.82,1)" font-size="9" fill="#1c1c1c" stroke="#1c1c1c" stroke-width="0.16"><tspan font-size="6.4" dy="-3.3">87/86</tspan><tspan dy="3.3">Sr</tspan></text><rect x="0" y="2.3" width="11" height="10.5" fill="#0f3c26"/><text transform="translate(5.5,11.2) scale(0.82,1)" text-anchor="middle" font-size="10.5" font-weight="bold" fill="#fff">a</text><rect x="352.5" y="5.5" width="205.00" height="183.00" fill="none" stroke="#ababab" stroke-width="1"/><line x1="352.5" y1="182.50" x2="355.0" y2="182.50" stroke="#ababab" stroke-width="1"/><line x1="352.5" y1="176.50" x2="355.0" y2="176.50" stroke="#ababab" stroke-width="1"/><line x1="352.5" y1="170.50" x2="355.0" y2="170.50" stroke="#ababab" stroke-width="1"/><line x1="352.5" y1="164.50" x2="355.0" y2="164.50" stroke="#ababab" stroke-width="1"/><line x1="352.5" y1="158.50" x2="355.0" y2="158.50" stroke="#ababab" stroke-width="1"/><line x1="352.5" y1="151.50" x2="355.0" y2="151.50" stroke="#ababab" stroke-width="1"/><line x1="352.5" y1="145.50" x2="355.0" y2="145.50" stroke="#ababab" stroke-width="1"/><line x1="352.5" y1="139.50" x2="355.0" y2="139.50" stroke="#ababab" stroke-width="1"/><line x1="352.5" y1="133.50" x2="355.0" y2="133.50" stroke="#ababab" stroke-width="1"/><line x1="352.5" y1="127.50" x2="355.0" y2="127.50" stroke="#ababab" stroke-width="1"/><line x1="352.5" y1="121.50" x2="355.0" y2="121.50" stroke="#ababab" stroke-width="1"/><line x1="352.5" y1="115.50" x2="355.0" y2="115.50" stroke="#ababab" stroke-width="1"/><line x1="352.5" y1="109.50" x2="355.0" y2="109.50" stroke="#ababab" stroke-width="1"/><line x1="352.5" y1="103.50" x2="355.0" y2="103.50" stroke="#ababab" stroke-width="1"/><line x1="352.5" y1="97.50" x2="355.0" y2="97.50" stroke="#ababab" stroke-width="1"/><line x1="352.5" y1="90.50" x2="355.0" y2="90.50" stroke="#ababab" stroke-width="1"/><line x1="352.5" y1="84.50" x2="355.0" y2="84.50" stroke="#ababab" stroke-width="1"/><line x1="352.5" y1="78.50" x2="355.0" y2="78.50" stroke="#ababab" stroke-width="1"/><line x1="352.5" y1="72.50" x2="355.0" y2="72.50" stroke="#ababab" stroke-width="1"/><line x1="352.5" y1="66.50" x2="355.0" y2="66.50" stroke="#ababab" stroke-width="1"/><line x1="352.5" y1="60.50" x2="355.0" y2="60.50" stroke="#ababab" stroke-width="1"/><line x1="352.5" y1="54.50" x2="355.0" y2="54.50" stroke="#ababab" stroke-width="1"/><line x1="352.5" y1="48.50" x2="355.0" y2="48.50" stroke="#ababab" stroke-width="1"/><line x1="352.5" y1="42.50" x2="355.0" y2="42.50" stroke="#ababab" stroke-width="1"/><line x1="352.5" y1="36.50" x2="355.0" y2="36.50" stroke="#ababab" stroke-width="1"/><line x1="352.5" y1="29.50" x2="355.0" y2="29.50" stroke="#ababab" stroke-width="1"/><line x1="352.5" y1="23.50" x2="355.0" y2="23.50" stroke="#ababab" stroke-width="1"/><line x1="352.5" y1="17.50" x2="355.0" y2="17.50" stroke="#ababab" stroke-width="1"/><line x1="352.5" y1="11.50" x2="355.0" y2="11.50" stroke="#ababab" stroke-width="1"/><line x1="373.50" y1="188.5" x2="373.50" y2="185.5" stroke="#a5a5a5" stroke-width="1"/><line x1="393.50" y1="188.5" x2="393.50" y2="185.5" stroke="#a5a5a5" stroke-width="1"/><line x1="414.50" y1="188.5" x2="414.50" y2="185.5" stroke="#a5a5a5" stroke-width="1"/><line x1="434.50" y1="188.5" x2="434.50" y2="185.5" stroke="#a5a5a5" stroke-width="1"/><line x1="455.50" y1="188.5" x2="455.50" y2="185.5" stroke="#a5a5a5" stroke-width="1"/><line x1="475.50" y1="188.5" x2="475.50" y2="185.5" stroke="#a5a5a5" stroke-width="1"/><line x1="496.50" y1="188.5" x2="496.50" y2="185.5" stroke="#a5a5a5" stroke-width="1"/><line x1="516.50" y1="188.5" x2="516.50" y2="185.5" stroke="#a5a5a5" stroke-width="1"/><line x1="537.50" y1="188.5" x2="537.50" y2="185.5" stroke="#a5a5a5" stroke-width="1"/><text transform="translate(349.30,192.10) scale(0.8,1)" text-anchor="end" font-size="8.7" fill="#1c1c1c" stroke="#1c1c1c" stroke-width="0.16" ><tspan font-size="10.6" dy="0.6" stroke-width="0">&#8722;</tspan><tspan dy="-0.6">150</tspan></text><text transform="translate(349.30,161.60) scale(0.8,1)" text-anchor="end" font-size="8.7" fill="#1c1c1c" stroke="#1c1c1c" stroke-width="0.16" ><tspan font-size="10.6" dy="0.6" stroke-width="0">&#8722;</tspan><tspan dy="-0.6">100</tspan></text><text transform="translate(349.30,131.10) scale(0.8,1)" text-anchor="end" font-size="8.7" fill="#1c1c1c" stroke="#1c1c1c" stroke-width="0.16" ><tspan font-size="10.6" dy="0.6" stroke-width="0">&#8722;</tspan><tspan dy="-0.6">50</tspan></text><text transform="translate(349.30,100.60) scale(0.8,1)" text-anchor="end" font-size="8.7" fill="#1c1c1c" stroke="#1c1c1c" stroke-width="0.16" >0</text><text transform="translate(349.30,70.10) scale(0.8,1)" text-anchor="end" font-size="8.7" fill="#1c1c1c" stroke="#1c1c1c" stroke-width="0.16" >50</text><text transform="translate(349.30,39.60) scale(0.8,1)" text-anchor="end" font-size="8.7" fill="#1c1c1c" stroke="#1c1c1c" stroke-width="0.16" >100</text><text transform="translate(349.30,9.10) scale(0.8,1)" text-anchor="end" font-size="8.7" fill="#1c1c1c" stroke="#1c1c1c" stroke-width="0.16" >150</text><text transform="translate(352.50,198.40) scale(0.8,1)" text-anchor="middle" font-size="8.7" fill="#1c1c1c" stroke="#1c1c1c" stroke-width="0.16" >0</text><text transform="translate(373.00,198.40) scale(0.8,1)" text-anchor="middle" font-size="8.7" fill="#1c1c1c" stroke="#1c1c1c" stroke-width="0.16" >2</text><text transform="translate(393.50,198.40) scale(0.8,1)" text-anchor="middle" font-size="8.7" fill="#1c1c1c" stroke="#1c1c1c" stroke-width="0.16" >4</text><text transform="translate(414.00,198.40) scale(0.8,1)" text-anchor="middle" font-size="8.7" fill="#1c1c1c" stroke="#1c1c1c" stroke-width="0.16" >6</text><text transform="translate(434.50,198.40) scale(0.8,1)" text-anchor="middle" font-size="8.7" fill="#1c1c1c" stroke="#1c1c1c" stroke-width="0.16" >8</text><text transform="translate(455.00,198.40) scale(0.8,1)" text-anchor="middle" font-size="8.7" fill="#1c1c1c" stroke="#1c1c1c" stroke-width="0.16" >10</text><text transform="translate(475.50,198.40) scale(0.8,1)" text-anchor="middle" font-size="8.7" fill="#1c1c1c" stroke="#1c1c1c" stroke-width="0.16" >12</text><text transform="translate(496.00,198.40) scale(0.8,1)" text-anchor="middle" font-size="8.7" fill="#1c1c1c" stroke="#1c1c1c" stroke-width="0.16" >14</text><text transform="translate(516.50,198.40) scale(0.8,1)" text-anchor="middle" font-size="8.7" fill="#1c1c1c" stroke="#1c1c1c" stroke-width="0.16" >16</text><text transform="translate(537.00,198.40) scale(0.8,1)" text-anchor="middle" font-size="8.7" fill="#1c1c1c" stroke="#1c1c1c" stroke-width="0.16" >18</text><text transform="translate(557.50,198.40) scale(0.8,1)" text-anchor="middle" font-size="8.7" fill="#1c1c1c" stroke="#1c1c1c" stroke-width="0.16" >20</text><text transform="translate(455.00,210.50) scale(0.855,1)" text-anchor="middle" font-size="8.7" fill="#1c1c1c" stroke="#1c1c1c" stroke-width="0.16" font-style="italic">R</text><text transform="translate(324.10,97.00) rotate(-90) scale(0.855,1)" text-anchor="middle" font-size="8.7" fill="#1c1c1c" stroke="#1c1c1c" stroke-width="0.16">Relative deviation (%)</text><line x1="393.09" y1="5.0" x2="393.09" y2="188.5" stroke="#959595" stroke-width="3" stroke-dasharray="4.5 4.7"/><path d="M352.50,97.00 L353.52,97.15 L354.55,97.29 L355.57,97.44 L356.60,97.59 L357.62,97.72 L358.65,97.85 L359.68,97.97 L360.70,98.07 L361.73,98.15 L362.75,98.22 L363.77,98.27 L364.80,98.32 L365.82,98.37 L366.85,98.41 L367.88,98.46 L368.90,98.50 L369.93,98.53 L370.95,98.57 L371.98,98.60 L373.00,98.63 L374.02,98.66 L375.05,98.69 L376.07,98.72 L377.10,98.75 L378.12,98.77 L379.15,98.80 L380.18,98.82 L381.20,98.84 L382.23,98.87 L383.25,98.89 L384.27,98.91 L385.30,98.93 L386.32,98.96 L387.35,98.98 L388.38,99.00 L389.40,99.03 L390.43,99.05 L391.45,99.08 L392.48,99.11 L393.50,99.14 L394.52,99.16 L395.55,99.19 L396.57,99.22 L397.60,99.25 L398.62,99.28 L399.65,99.31 L400.68,99.34 L401.70,99.36 L402.73,99.39 L403.75,99.42 L404.77,99.45 L405.80,99.48 L406.82,99.50 L407.85,99.53 L408.88,99.56 L409.90,99.59 L410.93,99.61 L411.95,99.64 L412.98,99.67 L414.00,99.70 L415.02,99.72 L416.05,99.75 L417.08,99.78 L418.10,99.81 L419.12,99.83 L420.15,99.86 L421.18,99.89 L422.20,99.91 L423.23,99.94 L424.25,99.97 L425.27,100.00 L426.30,100.02 L427.33,100.05 L428.35,100.08 L429.38,100.11 L430.40,100.13 L431.43,100.16 L432.45,100.19 L433.48,100.22 L434.50,100.25 L435.52,100.27 L436.55,100.30 L437.58,100.33 L438.60,100.36 L439.62,100.39 L440.65,100.42 L441.68,100.45 L442.70,100.47 L443.73,100.50 L444.75,100.53 L445.77,100.57 L446.80,100.60 L447.83,100.63 L448.85,100.66 L449.88,100.69 L450.90,100.72 L451.93,100.76 L452.95,100.79 L453.98,100.82 L455.00,100.85 L456.03,100.89 L457.05,100.92 L458.07,100.95 L459.10,100.99 L460.12,101.02 L461.15,101.05 L462.18,101.09 L463.20,101.12 L464.23,101.15 L465.25,101.18 L466.28,101.22 L467.30,101.25 L468.32,101.28 L469.35,101.31 L470.38,101.34 L471.40,101.38 L472.43,101.41 L473.45,101.44 L474.48,101.47 L475.50,101.50 L476.53,101.53 L477.55,101.56 L478.57,101.58 L479.60,101.61 L480.62,101.64 L481.65,101.67 L482.68,101.69 L483.70,101.72 L484.73,101.74 L485.75,101.77 L486.78,101.79 L487.80,101.82 L488.82,101.84 L489.85,101.86 L490.88,101.88 L491.90,101.90 L492.93,101.92 L493.95,101.94 L494.98,101.96 L496.00,101.98 L497.03,102.00 L498.05,102.02 L499.07,102.04 L500.10,102.06 L501.12,102.08 L502.15,102.10 L503.18,102.12 L504.20,102.14 L505.23,102.16 L506.25,102.17 L507.28,102.19 L508.30,102.21 L509.32,102.23 L510.35,102.25 L511.38,102.27 L512.40,102.29 L513.42,102.30 L514.45,102.32 L515.48,102.34 L516.50,102.36 L517.53,102.37 L518.55,102.39 L519.58,102.41 L520.60,102.42 L521.62,102.44 L522.65,102.46 L523.67,102.47 L524.70,102.49 L525.73,102.50 L526.75,102.52 L527.78,102.53 L528.80,102.55 L529.83,102.56 L530.85,102.58 L531.88,102.59 L532.90,102.61 L533.92,102.62 L534.95,102.63 L535.98,102.65 L537.00,102.66 L538.03,102.67 L539.05,102.68 L540.08,102.70 L541.10,102.71 L542.12,102.72 L543.15,102.73 L544.17,102.74 L545.20,102.75 L546.23,102.76 L547.25,102.77 L548.28,102.78 L549.30,102.79 L550.33,102.80 L551.35,102.81 L552.38,102.82 L553.40,102.83 L554.42,102.83 L555.45,102.84 L556.48,102.85 L557.50,102.86" clip-path="url(#clipb)" fill="none" stroke="#b0b0b0" stroke-width="2.8"/><path d="M352.50,97.00 L353.52,98.71 L354.55,100.36 L355.57,101.93 L356.60,103.49 L357.62,105.01 L358.65,106.49 L359.68,107.91 L360.70,109.28 L361.73,110.59 L362.75,111.86 L363.77,113.10 L364.80,114.31 L365.82,115.48 L366.85,116.63 L367.88,117.76 L368.90,118.86 L369.93,119.94 L370.95,120.99 L371.98,122.03 L373.00,123.05 L374.02,124.04 L375.05,125.01 L376.07,125.97 L377.10,126.91 L378.12,127.82 L379.15,128.72 L380.18,129.61 L381.20,130.48 L382.23,131.34 L383.25,132.18 L384.27,133.01 L385.30,133.82 L386.32,134.61 L387.35,135.39 L388.38,136.15 L389.40,136.91 L390.43,137.65 L391.45,138.38 L392.48,139.11 L393.50,139.83 L394.52,140.54 L395.55,141.25 L396.57,141.95 L397.60,142.64 L398.62,143.33 L399.65,144.00 L400.68,144.67 L401.70,145.33 L402.73,145.98 L403.75,146.63 L404.77,147.26 L405.80,147.89 L406.82,148.51 L407.85,149.13 L408.88,149.73 L409.90,150.33 L410.93,150.92 L411.95,151.50 L412.98,152.07 L414.00,152.63 L415.02,153.18 L416.05,153.71 L417.08,154.24 L418.10,154.76 L419.12,155.26 L420.15,155.76 L421.18,156.25 L422.20,156.74 L423.23,157.21 L424.25,157.67 L425.27,158.13 L426.30,158.57 L427.33,159.01 L428.35,159.44 L429.38,159.86 L430.40,160.28 L431.43,160.69 L432.45,161.09 L433.48,161.48 L434.50,161.87 L435.52,162.24 L436.55,162.61 L437.58,162.97 L438.60,163.32 L439.62,163.66 L440.65,164.01 L441.68,164.34 L442.70,164.67 L443.73,165.00 L444.75,165.31 L445.77,165.62 L446.80,165.93 L447.83,166.22 L448.85,166.50 L449.88,166.78 L450.90,167.05 L451.93,167.31 L452.95,167.56 L453.98,167.82 L455.00,168.06 L456.03,168.30 L457.05,168.54 L458.07,168.77 L459.10,169.00 L460.12,169.21 L461.15,169.43 L462.18,169.63 L463.20,169.83 L464.23,170.02 L465.25,170.20 L466.28,170.38 L467.30,170.55 L468.32,170.72 L469.35,170.89 L470.38,171.06 L471.40,171.22 L472.43,171.38 L473.45,171.54 L474.48,171.70 L475.50,171.85 L476.53,172.00 L477.55,172.15 L478.57,172.30 L479.60,172.45 L480.62,172.59 L481.65,172.73 L482.68,172.87 L483.70,173.01 L484.73,173.14 L485.75,173.28 L486.78,173.41 L487.80,173.54 L488.82,173.66 L489.85,173.79 L490.88,173.91 L491.90,174.04 L492.93,174.16 L493.95,174.28 L494.98,174.40 L496.00,174.51 L497.03,174.63 L498.05,174.74 L499.07,174.86 L500.10,174.97 L501.12,175.08 L502.15,175.19 L503.18,175.30 L504.20,175.40 L505.23,175.51 L506.25,175.61 L507.28,175.71 L508.30,175.81 L509.32,175.91 L510.35,176.01 L511.38,176.11 L512.40,176.20 L513.42,176.30 L514.45,176.39 L515.48,176.48 L516.50,176.57 L517.53,176.66 L518.55,176.75 L519.58,176.83 L520.60,176.92 L521.62,177.00 L522.65,177.08 L523.67,177.16 L524.70,177.24 L525.73,177.32 L526.75,177.40 L527.78,177.47 L528.80,177.55 L529.83,177.63 L530.85,177.70 L531.88,177.77 L532.90,177.85 L533.92,177.92 L534.95,177.99 L535.98,178.06 L537.00,178.13 L538.03,178.20 L539.05,178.27 L540.08,178.34 L541.10,178.41 L542.12,178.47 L543.15,178.54 L544.17,178.60 L545.20,178.67 L546.23,178.73 L547.25,178.79 L548.28,178.85 L549.30,178.91 L550.33,178.97 L551.35,179.03 L552.38,179.09 L553.40,179.14 L554.42,179.19 L555.45,179.25 L556.48,179.30 L557.50,179.35" clip-path="url(#clipb)" fill="none" stroke="#b8b8b8" stroke-width="3.6"/><path d="M352.50,97.00 L353.52,97.48 L354.55,97.94 L355.57,98.40 L356.60,98.85 L357.62,99.30 L358.65,99.75 L359.68,100.18 L360.70,100.61 L361.73,101.02 L362.75,101.43 L363.77,101.82 L364.80,102.21 L365.82,102.59 L366.85,102.97 L367.88,103.34 L368.90,103.70 L369.93,104.06 L370.95,104.42 L371.98,104.78 L373.00,105.14 L374.02,105.50 L375.05,105.86 L376.07,106.21 L377.10,106.58 L378.12,106.94 L379.15,107.30 L380.18,107.66 L381.20,108.03 L382.23,108.39 L383.25,108.75 L384.27,109.10 L385.30,109.46 L386.32,109.82 L387.35,110.18 L388.38,110.53 L389.40,110.89 L390.43,111.25 L391.45,111.60 L392.48,111.95 L393.50,112.31 L394.52,112.67 L395.55,113.03 L396.57,113.40 L397.60,113.76 L398.62,114.13 L399.65,114.50 L400.68,114.87 L401.70,115.24 L402.73,115.61 L403.75,115.97 L404.77,116.34 L405.80,116.70 L406.82,117.07 L407.85,117.43 L408.88,117.78 L409.90,118.14 L410.93,118.49 L411.95,118.83 L412.98,119.17 L414.00,119.51 L415.02,119.84 L416.05,120.17 L417.08,120.48 L418.10,120.80 L419.12,121.10 L420.15,121.40 L421.18,121.69 L422.20,121.98 L423.23,122.27 L424.25,122.55 L425.27,122.83 L426.30,123.11 L427.33,123.39 L428.35,123.66 L429.38,123.93 L430.40,124.20 L431.43,124.46 L432.45,124.72 L433.48,124.98 L434.50,125.24 L435.52,125.49 L436.55,125.74 L437.58,125.99 L438.60,126.23 L439.62,126.47 L440.65,126.71 L441.68,126.95 L442.70,127.18 L443.73,127.41 L444.75,127.64 L445.77,127.87 L446.80,128.09 L447.83,128.31 L448.85,128.52 L449.88,128.74 L450.90,128.95 L451.93,129.15 L452.95,129.35 L453.98,129.54 L455.00,129.73 L456.03,129.91 L457.05,130.09 L458.07,130.27 L459.10,130.45 L460.12,130.64 L461.15,130.82 L462.18,131.00 L463.20,131.18 L464.23,131.37 L465.25,131.55 L466.28,131.73 L467.30,131.91 L468.32,132.09 L469.35,132.27 L470.38,132.45 L471.40,132.63 L472.43,132.81 L473.45,132.99 L474.48,133.17 L475.50,133.34 L476.53,133.52 L477.55,133.69 L478.57,133.87 L479.60,134.04 L480.62,134.21 L481.65,134.39 L482.68,134.56 L483.70,134.72 L484.73,134.89 L485.75,135.06 L486.78,135.23 L487.80,135.39 L488.82,135.55 L489.85,135.72 L490.88,135.88 L491.90,136.04 L492.93,136.19 L493.95,136.35 L494.98,136.51 L496.00,136.67 L497.03,136.82 L498.05,136.98 L499.07,137.13 L500.10,137.28 L501.12,137.44 L502.15,137.59 L503.18,137.74 L504.20,137.89 L505.23,138.04 L506.25,138.19 L507.28,138.33 L508.30,138.48 L509.32,138.63 L510.35,138.77 L511.38,138.92 L512.40,139.06 L513.42,139.20 L514.45,139.34 L515.48,139.48 L516.50,139.62 L517.53,139.76 L518.55,139.90 L519.58,140.04 L520.60,140.17 L521.62,140.31 L522.65,140.44 L523.67,140.58 L524.70,140.71 L525.73,140.85 L526.75,140.98 L527.78,141.11 L528.80,141.24 L529.83,141.37 L530.85,141.50 L531.88,141.63 L532.90,141.76 L533.92,141.89 L534.95,142.02 L535.98,142.14 L537.00,142.27 L538.03,142.39 L539.05,142.52 L540.08,142.64 L541.10,142.77 L542.12,142.89 L543.15,143.01 L544.17,143.13 L545.20,143.25 L546.23,143.37 L547.25,143.49 L548.28,143.61 L549.30,143.73 L550.33,143.85 L551.35,143.96 L552.38,144.08 L553.40,144.19 L554.42,144.30 L555.45,144.42 L556.48,144.53 L557.50,144.64" clip-path="url(#clipb)" fill="none" stroke="#a0a0a0" stroke-width="2.8"/><path d="M352.50,97.00 L353.52,101.00 L354.55,104.93 L355.57,108.66 L356.60,112.56 L357.62,117.29 L358.65,121.76 L359.68,125.49 L360.70,128.62 L361.73,131.31 L362.75,133.38 L363.77,135.01 L364.80,136.49 L365.82,137.92 L366.85,139.25 L367.88,140.49 L368.90,141.68 L369.93,142.83 L370.95,143.93 L371.98,144.96 L373.00,145.89 L374.02,146.70 L375.05,147.43 L376.07,148.10 L377.10,148.72 L378.12,149.29 L379.15,149.85 L380.18,150.38 L381.20,150.90 L382.23,151.39 L383.25,151.85 L384.27,152.29 L385.30,152.69 L386.32,153.07 L387.35,153.43 L388.38,153.77 L389.40,154.09 L390.43,154.38 L391.45,154.66 L392.48,154.92 L393.50,155.19 L394.52,155.44 L395.55,155.68 L396.57,155.90 L397.60,156.11 L398.62,156.29 L399.65,156.45 L400.68,156.59 L401.70,156.71 L402.73,156.83 L403.75,156.95 L404.77,157.05 L405.80,157.14 L406.82,157.22 L407.85,157.28 L408.88,157.33 L409.90,157.37 L410.93,157.41 L411.95,157.44 L412.98,157.47 L414.00,157.50 L415.02,157.53 L416.05,157.55 L417.08,157.58 L418.10,157.60 L419.12,157.62 L420.15,157.64 L421.18,157.65 L422.20,157.67 L423.23,157.68 L424.25,157.69 L425.27,157.71 L426.30,157.72 L427.33,157.73 L428.35,157.74 L429.38,157.76 L430.40,157.77 L431.43,157.78 L432.45,157.79 L433.48,157.80 L434.50,157.81 L435.52,157.82 L436.55,157.82 L437.58,157.83 L438.60,157.84 L439.62,157.85 L440.65,157.86 L441.68,157.87 L442.70,157.87 L443.73,157.88 L444.75,157.89 L445.77,157.89 L446.80,157.90 L447.83,157.90 L448.85,157.91 L449.88,157.92 L450.90,157.92 L451.93,157.93 L452.95,157.93 L453.98,157.93 L455.00,157.94 L456.03,157.94 L457.05,157.95 L458.07,157.95 L459.10,157.96 L460.12,157.96 L461.15,157.96 L462.18,157.97 L463.20,157.97 L464.23,157.98 L465.25,157.98 L466.28,157.98 L467.30,157.99 L468.32,157.99 L469.35,158.00 L470.38,158.00 L471.40,158.00 L472.43,158.01 L473.45,158.01 L474.48,158.01 L475.50,158.02 L476.53,158.02 L477.55,158.02 L478.57,158.03 L479.60,158.03 L480.62,158.04 L481.65,158.04 L482.68,158.04 L483.70,158.05 L484.73,158.05 L485.75,158.05 L486.78,158.06 L487.80,158.06 L488.82,158.06 L489.85,158.07 L490.88,158.07 L491.90,158.07 L492.93,158.08 L493.95,158.08 L494.98,158.08 L496.00,158.08 L497.03,158.09 L498.05,158.09 L499.07,158.09 L500.10,158.10 L501.12,158.10 L502.15,158.10 L503.18,158.10 L504.20,158.11 L505.23,158.11 L506.25,158.11 L507.28,158.12 L508.30,158.12 L509.32,158.12 L510.35,158.12 L511.38,158.13 L512.40,158.13 L513.42,158.13 L514.45,158.13 L515.48,158.13 L516.50,158.14 L517.53,158.14 L518.55,158.14 L519.58,158.14 L520.60,158.15 L521.62,158.15 L522.65,158.15 L523.67,158.15 L524.70,158.15 L525.73,158.15 L526.75,158.16 L527.78,158.16 L528.80,158.16 L529.83,158.16 L530.85,158.16 L531.88,158.16 L532.90,158.17 L533.92,158.17 L534.95,158.17 L535.98,158.17 L537.00,158.17 L538.03,158.17 L539.05,158.17 L540.08,158.17 L541.10,158.18 L542.12,158.18 L543.15,158.18 L544.17,158.18 L545.20,158.18 L546.23,158.18 L547.25,158.18 L548.28,158.18 L549.30,158.18 L550.33,158.18 L551.35,158.18 L552.38,158.18 L553.40,158.18 L554.42,158.18 L555.45,158.18 L556.48,158.18 L557.50,158.18" clip-path="url(#clipb)" fill="none" stroke="#999999" stroke-width="2.2"/><path d="M352.50,97.00 L353.52,97.80 L354.55,98.58 L355.57,99.32 L356.60,100.03 L357.62,100.73 L358.65,101.42 L359.68,102.08 L360.70,102.72 L361.73,103.35 L362.75,103.95 L363.77,104.54 L364.80,105.12 L365.82,105.68 L366.85,106.24 L367.88,106.79 L368.90,107.33 L369.93,107.86 L370.95,108.39 L371.98,108.90 L373.00,109.40 L374.02,109.90 L375.05,110.39 L376.07,110.86 L377.10,111.33 L378.12,111.80 L379.15,112.25 L380.18,112.69 L381.20,113.13 L382.23,113.56 L383.25,113.98 L384.27,114.40 L385.30,114.81 L386.32,115.21 L387.35,115.61 L388.38,116.01 L389.40,116.40 L390.43,116.80 L391.45,117.19 L392.48,117.57 L393.50,117.96 L394.52,118.34 L395.55,118.73 L396.57,119.10 L397.60,119.48 L398.62,119.86 L399.65,120.23 L400.68,120.60 L401.70,120.97 L402.73,121.33 L403.75,121.70 L404.77,122.06 L405.80,122.42 L406.82,122.77 L407.85,123.13 L408.88,123.48 L409.90,123.83 L410.93,124.18 L411.95,124.53 L412.98,124.88 L414.00,125.22 L415.02,125.57 L416.05,125.91 L417.08,126.25 L418.10,126.58 L419.12,126.92 L420.15,127.26 L421.18,127.59 L422.20,127.93 L423.23,128.27 L424.25,128.61 L425.27,128.95 L426.30,129.29 L427.33,129.63 L428.35,129.98 L429.38,130.32 L430.40,130.66 L431.43,130.99 L432.45,131.33 L433.48,131.66 L434.50,132.00 L435.52,132.32 L436.55,132.65 L437.58,132.97 L438.60,133.28 L439.62,133.60 L440.65,133.90 L441.68,134.20 L442.70,134.50 L443.73,134.78 L444.75,135.06 L445.77,135.34 L446.80,135.60 L447.83,135.86 L448.85,136.11 L449.88,136.35 L450.90,136.58 L451.93,136.80 L452.95,137.01 L453.98,137.21 L455.00,137.41 L456.03,137.60 L457.05,137.78 L458.07,137.96 L459.10,138.14 L460.12,138.32 L461.15,138.50 L462.18,138.68 L463.20,138.86 L464.23,139.04 L465.25,139.22 L466.28,139.39 L467.30,139.57 L468.32,139.74 L469.35,139.92 L470.38,140.09 L471.40,140.26 L472.43,140.43 L473.45,140.60 L474.48,140.77 L475.50,140.93 L476.53,141.10 L477.55,141.26 L478.57,141.42 L479.60,141.58 L480.62,141.74 L481.65,141.90 L482.68,142.06 L483.70,142.21 L484.73,142.36 L485.75,142.52 L486.78,142.67 L487.80,142.81 L488.82,142.96 L489.85,143.11 L490.88,143.25 L491.90,143.39 L492.93,143.53 L493.95,143.67 L494.98,143.81 L496.00,143.95 L497.03,144.09 L498.05,144.22 L499.07,144.36 L500.10,144.49 L501.12,144.63 L502.15,144.76 L503.18,144.89 L504.20,145.02 L505.23,145.15 L506.25,145.28 L507.28,145.40 L508.30,145.53 L509.32,145.65 L510.35,145.77 L511.38,145.89 L512.40,146.01 L513.42,146.13 L514.45,146.25 L515.48,146.36 L516.50,146.48 L517.53,146.59 L518.55,146.70 L519.58,146.81 L520.60,146.91 L521.62,147.02 L522.65,147.12 L523.67,147.23 L524.70,147.33 L525.73,147.43 L526.75,147.53 L527.78,147.64 L528.80,147.74 L529.83,147.83 L530.85,147.93 L531.88,148.03 L532.90,148.13 L533.92,148.22 L534.95,148.32 L535.98,148.41 L537.00,148.50 L538.03,148.60 L539.05,148.69 L540.08,148.78 L541.10,148.86 L542.12,148.95 L543.15,149.04 L544.17,149.13 L545.20,149.21 L546.23,149.29 L547.25,149.38 L548.28,149.46 L549.30,149.54 L550.33,149.62 L551.35,149.69 L552.38,149.77 L553.40,149.84 L554.42,149.92 L555.45,149.99 L556.48,150.06 L557.50,150.13" clip-path="url(#clipb)" fill="none" stroke="#151515" stroke-width="1.7"/><path d="M352.50,97.00 L353.52,96.16 L354.55,95.33 L355.57,94.51 L356.60,93.68 L357.62,92.87 L358.65,92.05 L359.68,91.25 L360.70,90.44 L361.73,89.65 L362.75,88.85 L363.77,88.07 L364.80,87.28 L365.82,86.50 L366.85,85.73 L367.88,84.96 L368.90,84.19 L369.93,83.43 L370.95,82.67 L371.98,81.92 L373.00,81.17 L374.02,80.43 L375.05,79.69 L376.07,78.95 L377.10,78.22 L378.12,77.49 L379.15,76.77 L380.18,76.05 L381.20,75.33 L382.23,74.62 L383.25,73.92 L384.27,73.21 L385.30,72.51 L386.32,71.82 L387.35,71.12 L388.38,70.44 L389.40,69.75 L390.43,69.07 L391.45,68.39 L392.48,67.72 L393.50,67.05 L394.52,66.38 L395.55,65.72 L396.57,65.06 L397.60,64.40 L398.62,63.75 L399.65,63.10 L400.68,62.46 L401.70,61.81 L402.73,61.17 L403.75,60.54 L404.77,59.90 L405.80,59.27 L406.82,58.65 L407.85,58.02 L408.88,57.40 L409.90,56.78 L410.93,56.17 L411.95,55.55 L412.98,54.95 L414.00,54.34 L415.02,53.73 L416.05,53.13 L417.08,52.54 L418.10,51.94 L419.12,51.35 L420.15,50.76 L421.18,50.17 L422.20,49.58 L423.23,49.00 L424.25,48.42 L425.27,47.84 L426.30,47.27 L427.33,46.69 L428.35,46.12 L429.38,45.55 L430.40,44.99 L431.43,44.42 L432.45,43.86 L433.48,43.30 L434.50,42.74 L435.52,42.19 L436.55,41.63 L437.58,41.08 L438.60,40.53 L439.62,39.98 L440.65,39.44 L441.68,38.89 L442.70,38.35 L443.73,37.81 L444.75,37.27 L445.77,36.73 L446.80,36.20 L447.83,35.66 L448.85,35.13 L449.88,34.60 L450.90,34.07 L451.93,33.54 L452.95,33.02 L453.98,32.49 L455.00,31.97 L456.03,31.44 L457.05,30.92 L458.07,30.40 L459.10,29.88 L460.12,29.37 L461.15,28.85 L462.18,28.33 L463.20,27.82 L464.23,27.31 L465.25,26.79 L466.28,26.28 L467.30,25.77 L468.32,25.26 L469.35,24.75 L470.38,24.24 L471.40,23.74 L472.43,23.23 L473.45,22.72 L474.48,22.22 L475.50,21.71 L476.53,21.21 L477.55,20.71 L478.57,20.20 L479.60,19.70 L480.62,19.20 L481.65,18.70 L482.68,18.20 L483.70,17.69 L484.73,17.19 L485.75,16.69 L486.78,16.19 L487.80,15.69 L488.82,15.19 L489.85,14.69 L490.88,14.19 L491.90,13.69 L492.93,13.19 L493.95,12.69 L494.98,12.19 L496.00,11.69 L497.03,11.19 L498.05,10.69 L499.07,10.19 L500.10,9.69 L501.12,9.18 L502.15,8.68 L503.18,8.18 L504.20,7.68 L505.23,7.17 L506.25,6.67 L507.28,6.17 L508.30,5.66 L509.32,5.16 L510.35,4.65 L511.38,4.14 L512.40,3.64 L513.42,3.13 L514.45,2.62 L515.48,2.11 L516.50,1.60 L517.53,1.09 L518.55,0.57 L519.58,0.06 L520.60,-0.46 L521.62,-0.97 L522.65,-1.49 L523.67,-2.01 L524.70,-2.53 L525.73,-3.05 L526.75,-3.57 L527.78,-4.09 L528.80,-4.61 L529.83,-5.14 L530.85,-5.67 L531.88,-6.19 L532.90,-6.72 L533.92,-7.26 L534.95,-7.79 L535.98,-8.32 L537.00,-8.86 L538.03,-9.40 L539.05,-9.94 L540.08,-10.48 L541.10,-11.02 L542.12,-11.56 L543.15,-12.11 L544.17,-12.66 L545.20,-13.21 L546.23,-13.76 L547.25,-14.32 L548.28,-14.87 L549.30,-15.43 L550.33,-15.99 L551.35,-16.55 L552.38,-17.12 L553.40,-17.69 L554.42,-18.25 L555.45,-18.83 L556.48,-19.40 L557.50,-19.98" clip-path="url(#clipb)" fill="none" stroke="#151515" stroke-width="2.4"/><rect x="364.60" y="13.00" width="52.50" height="9" fill="#fff"/><text transform="translate(365.60,20.00) scale(0.855,1)" text-anchor="start" font-size="8.7" fill="#1c1c1c" stroke="#1c1c1c" stroke-width="0.16" >Model 2,350 °C</text><text transform="translate(413.00,45.90) scale(0.855,1)" text-anchor="middle" font-size="8.7" fill="#1c1c1c" stroke="#1c1c1c" stroke-width="0.16" >Sr</text><text transform="translate(510.80,96.50) scale(0.855,1)" text-anchor="middle" font-size="8.7" fill="#1c1c1c" stroke="#1c1c1c" stroke-width="0.16" >Ba</text><text transform="translate(503.80,132.90) scale(0.855,1)" text-anchor="middle" font-size="8.7" fill="#1c1c1c" stroke="#1c1c1c" stroke-width="0.16" >Rb</text><text transform="translate(464.40,149.90) scale(0.855,1)" text-anchor="middle" font-size="8.7" fill="#1c1c1c" stroke="#1c1c1c" stroke-width="0.16" >Cs</text><text transform="translate(531.50,168.00) scale(0.855,1)" text-anchor="middle" font-size="8.7" fill="#1c1c1c" stroke="#1c1c1c" stroke-width="0.16" >Li</text><text transform="translate(417.50,182.00) scale(0.855,1)" font-size="8.7" fill="#1c1c1c" stroke="#1c1c1c" stroke-width="0.16"><tspan font-size="6.3" dy="-3">87</tspan><tspan dy="3">Sr</tspan><tspan dx="0.8">/</tspan><tspan dx="0.8" font-size="6.3" dy="-3">86</tspan><tspan dy="3">Sr (×100)</tspan></text><text transform="translate(386.60,171.80) rotate(-90) scale(0.855,1)" text-anchor="middle" font-size="8.7" fill="#a8a8a8"><tspan font-style="italic">R</tspan> = 4</text><path d="M558.10,40.80 L562.30,38.70 L562.30,42.90 Z" fill="#1c1c1c"/><text transform="translate(563.20,44.00) scale(0.8,1)" text-anchor="start" font-size="9" fill="#1c1c1c" stroke="#1c1c1c" stroke-width="0.16" >Sr</text><path d="M558.10,77.80 L562.30,75.70 L562.30,79.90 Z" fill="#1c1c1c"/><text transform="translate(563.20,81.00) scale(0.8,1)" text-anchor="start" font-size="9" fill="#1c1c1c" stroke="#1c1c1c" stroke-width="0.16" >Ba</text><path d="M558.10,116.20 L562.30,114.10 L562.30,118.30 Z" fill="#1c1c1c"/><text transform="translate(563.20,119.40) scale(0.8,1)" text-anchor="start" font-size="9" fill="#1c1c1c" stroke="#1c1c1c" stroke-width="0.16" >Rb</text><path d="M558.10,126.60 L562.30,124.50 L562.30,128.70 Z" fill="#1c1c1c"/><text transform="translate(563.20,129.80) scale(0.8,1)" text-anchor="start" font-size="9" fill="#1c1c1c" stroke="#1c1c1c" stroke-width="0.16" >Cs</text><path d="M558.10,134.30 L562.30,132.20 L562.30,136.40 Z" fill="#1c1c1c"/><text transform="translate(563.20,137.50) scale(0.8,1)" text-anchor="start" font-size="9" fill="#1c1c1c" stroke="#1c1c1c" stroke-width="0.16" >Li</text><path d="M558.10,155.00 L562.30,152.90 L562.30,157.10 Z" fill="#1c1c1c"/><path d="M562.10,155.00 H567.10 V165.50" fill="none" stroke="#3a3a3a" stroke-width="1.1"/><text transform="translate(559.10,175.50) scale(0.82,1)" font-size="9" fill="#1c1c1c" stroke="#1c1c1c" stroke-width="0.16"><tspan font-size="6.4" dy="-3.3">87/86</tspan><tspan dy="3.3">Sr</tspan></text><rect x="301" y="2.6" width="11" height="10.5" fill="#0f3c26"/><text transform="translate(306.5,11.5) scale(0.82,1)" text-anchor="middle" font-size="10.5" font-weight="bold" fill="#fff">b</text><rect x="51.5" y="228.5" width="204.00" height="184.00" fill="none" stroke="#ababab" stroke-width="1"/><line x1="51.5" y1="406.50" x2="54.0" y2="406.50" stroke="#ababab" stroke-width="1"/><line x1="51.5" y1="400.50" x2="54.0" y2="400.50" stroke="#ababab" stroke-width="1"/><line x1="51.5" y1="394.50" x2="54.0" y2="394.50" stroke="#ababab" stroke-width="1"/><line x1="51.5" y1="387.50" x2="54.0" y2="387.50" stroke="#ababab" stroke-width="1"/><line x1="51.5" y1="381.50" x2="54.0" y2="381.50" stroke="#ababab" stroke-width="1"/><line x1="51.5" y1="375.50" x2="54.0" y2="375.50" stroke="#ababab" stroke-width="1"/><line x1="51.5" y1="369.50" x2="54.0" y2="369.50" stroke="#ababab" stroke-width="1"/><line x1="51.5" y1="363.50" x2="54.0" y2="363.50" stroke="#ababab" stroke-width="1"/><line x1="51.5" y1="357.50" x2="54.0" y2="357.50" stroke="#ababab" stroke-width="1"/><line x1="51.5" y1="351.50" x2="54.0" y2="351.50" stroke="#ababab" stroke-width="1"/><line x1="51.5" y1="345.50" x2="54.0" y2="345.50" stroke="#ababab" stroke-width="1"/><line x1="51.5" y1="338.50" x2="54.0" y2="338.50" stroke="#ababab" stroke-width="1"/><line x1="51.5" y1="332.50" x2="54.0" y2="332.50" stroke="#ababab" stroke-width="1"/><line x1="51.5" y1="326.50" x2="54.0" y2="326.50" stroke="#ababab" stroke-width="1"/><line x1="51.5" y1="320.50" x2="54.0" y2="320.50" stroke="#ababab" stroke-width="1"/><line x1="51.5" y1="314.50" x2="54.0" y2="314.50" stroke="#ababab" stroke-width="1"/><line x1="51.5" y1="308.50" x2="54.0" y2="308.50" stroke="#ababab" stroke-width="1"/><line x1="51.5" y1="302.50" x2="54.0" y2="302.50" stroke="#ababab" stroke-width="1"/><line x1="51.5" y1="295.50" x2="54.0" y2="295.50" stroke="#ababab" stroke-width="1"/><line x1="51.5" y1="289.50" x2="54.0" y2="289.50" stroke="#ababab" stroke-width="1"/><line x1="51.5" y1="283.50" x2="54.0" y2="283.50" stroke="#ababab" stroke-width="1"/><line x1="51.5" y1="277.50" x2="54.0" y2="277.50" stroke="#ababab" stroke-width="1"/><line x1="51.5" y1="271.50" x2="54.0" y2="271.50" stroke="#ababab" stroke-width="1"/><line x1="51.5" y1="265.50" x2="54.0" y2="265.50" stroke="#ababab" stroke-width="1"/><line x1="51.5" y1="259.50" x2="54.0" y2="259.50" stroke="#ababab" stroke-width="1"/><line x1="51.5" y1="253.50" x2="54.0" y2="253.50" stroke="#ababab" stroke-width="1"/><line x1="51.5" y1="246.50" x2="54.0" y2="246.50" stroke="#ababab" stroke-width="1"/><line x1="51.5" y1="240.50" x2="54.0" y2="240.50" stroke="#ababab" stroke-width="1"/><line x1="51.5" y1="234.50" x2="54.0" y2="234.50" stroke="#ababab" stroke-width="1"/><line x1="71.50" y1="412.5" x2="71.50" y2="409.5" stroke="#a5a5a5" stroke-width="1"/><line x1="92.50" y1="412.5" x2="92.50" y2="409.5" stroke="#a5a5a5" stroke-width="1"/><line x1="112.50" y1="412.5" x2="112.50" y2="409.5" stroke="#a5a5a5" stroke-width="1"/><line x1="133.50" y1="412.5" x2="133.50" y2="409.5" stroke="#a5a5a5" stroke-width="1"/><line x1="153.50" y1="412.5" x2="153.50" y2="409.5" stroke="#a5a5a5" stroke-width="1"/><line x1="173.50" y1="412.5" x2="173.50" y2="409.5" stroke="#a5a5a5" stroke-width="1"/><line x1="194.50" y1="412.5" x2="194.50" y2="409.5" stroke="#a5a5a5" stroke-width="1"/><line x1="214.50" y1="412.5" x2="214.50" y2="409.5" stroke="#a5a5a5" stroke-width="1"/><line x1="235.50" y1="412.5" x2="235.50" y2="409.5" stroke="#a5a5a5" stroke-width="1"/><text transform="translate(48.30,416.10) scale(0.8,1)" text-anchor="end" font-size="8.7" fill="#1c1c1c" stroke="#1c1c1c" stroke-width="0.16" ><tspan font-size="10.6" dy="0.6" stroke-width="0">&#8722;</tspan><tspan dy="-0.6">150</tspan></text><text transform="translate(48.30,385.43) scale(0.8,1)" text-anchor="end" font-size="8.7" fill="#1c1c1c" stroke="#1c1c1c" stroke-width="0.16" ><tspan font-size="10.6" dy="0.6" stroke-width="0">&#8722;</tspan><tspan dy="-0.6">100</tspan></text><text transform="translate(48.30,354.77) scale(0.8,1)" text-anchor="end" font-size="8.7" fill="#1c1c1c" stroke="#1c1c1c" stroke-width="0.16" ><tspan font-size="10.6" dy="0.6" stroke-width="0">&#8722;</tspan><tspan dy="-0.6">50</tspan></text><text transform="translate(48.30,324.10) scale(0.8,1)" text-anchor="end" font-size="8.7" fill="#1c1c1c" stroke="#1c1c1c" stroke-width="0.16" >0</text><text transform="translate(48.30,293.43) scale(0.8,1)" text-anchor="end" font-size="8.7" fill="#1c1c1c" stroke="#1c1c1c" stroke-width="0.16" >50</text><text transform="translate(48.30,262.77) scale(0.8,1)" text-anchor="end" font-size="8.7" fill="#1c1c1c" stroke="#1c1c1c" stroke-width="0.16" >100</text><text transform="translate(48.30,232.10) scale(0.8,1)" text-anchor="end" font-size="8.7" fill="#1c1c1c" stroke="#1c1c1c" stroke-width="0.16" >150</text><text transform="translate(51.50,422.40) scale(0.8,1)" text-anchor="middle" font-size="8.7" fill="#1c1c1c" stroke="#1c1c1c" stroke-width="0.16" >0</text><text transform="translate(71.90,422.40) scale(0.8,1)" text-anchor="middle" font-size="8.7" fill="#1c1c1c" stroke="#1c1c1c" stroke-width="0.16" >2</text><text transform="translate(92.30,422.40) scale(0.8,1)" text-anchor="middle" font-size="8.7" fill="#1c1c1c" stroke="#1c1c1c" stroke-width="0.16" >4</text><text transform="translate(112.70,422.40) scale(0.8,1)" text-anchor="middle" font-size="8.7" fill="#1c1c1c" stroke="#1c1c1c" stroke-width="0.16" >6</text><text transform="translate(133.10,422.40) scale(0.8,1)" text-anchor="middle" font-size="8.7" fill="#1c1c1c" stroke="#1c1c1c" stroke-width="0.16" >8</text><text transform="translate(153.50,422.40) scale(0.8,1)" text-anchor="middle" font-size="8.7" fill="#1c1c1c" stroke="#1c1c1c" stroke-width="0.16" >10</text><text transform="translate(173.90,422.40) scale(0.8,1)" text-anchor="middle" font-size="8.7" fill="#1c1c1c" stroke="#1c1c1c" stroke-width="0.16" >12</text><text transform="translate(194.30,422.40) scale(0.8,1)" text-anchor="middle" font-size="8.7" fill="#1c1c1c" stroke="#1c1c1c" stroke-width="0.16" >14</text><text transform="translate(214.70,422.40) scale(0.8,1)" text-anchor="middle" font-size="8.7" fill="#1c1c1c" stroke="#1c1c1c" stroke-width="0.16" >16</text><text transform="translate(235.10,422.40) scale(0.8,1)" text-anchor="middle" font-size="8.7" fill="#1c1c1c" stroke="#1c1c1c" stroke-width="0.16" >18</text><text transform="translate(255.50,422.40) scale(0.8,1)" text-anchor="middle" font-size="8.7" fill="#1c1c1c" stroke="#1c1c1c" stroke-width="0.16" >20</text><text transform="translate(153.50,434.50) scale(0.855,1)" text-anchor="middle" font-size="8.7" fill="#1c1c1c" stroke="#1c1c1c" stroke-width="0.16" font-style="italic">R</text><text transform="translate(24.10,320.50) rotate(-90) scale(0.855,1)" text-anchor="middle" font-size="8.7" fill="#1c1c1c" stroke="#1c1c1c" stroke-width="0.16">Relative deviation (%)</text><path d="M51.50,320.50 L52.52,320.57 L53.54,320.63 L54.56,320.70 L55.58,320.76 L56.60,320.83 L57.62,320.89 L58.64,320.96 L59.66,321.02 L60.68,321.08 L61.70,321.15 L62.72,321.21 L63.74,321.27 L64.76,321.33 L65.78,321.39 L66.80,321.45 L67.82,321.50 L68.84,321.56 L69.86,321.62 L70.88,321.67 L71.90,321.73 L72.92,321.78 L73.94,321.83 L74.96,321.88 L75.98,321.94 L77.00,321.99 L78.02,322.04 L79.04,322.09 L80.06,322.13 L81.08,322.18 L82.10,322.23 L83.12,322.28 L84.14,322.33 L85.16,322.37 L86.18,322.42 L87.20,322.46 L88.22,322.51 L89.24,322.56 L90.26,322.60 L91.28,322.65 L92.30,322.69 L93.32,322.74 L94.34,322.78 L95.36,322.82 L96.38,322.87 L97.40,322.91 L98.42,322.96 L99.44,323.00 L100.46,323.05 L101.48,323.09 L102.50,323.14 L103.52,323.18 L104.54,323.23 L105.56,323.27 L106.58,323.32 L107.60,323.36 L108.62,323.41 L109.64,323.45 L110.66,323.49 L111.68,323.54 L112.70,323.58 L113.72,323.63 L114.74,323.67 L115.76,323.72 L116.78,323.76 L117.80,323.80 L118.82,323.85 L119.84,323.89 L120.86,323.93 L121.88,323.98 L122.90,324.02 L123.92,324.06 L124.94,324.11 L125.96,324.15 L126.98,324.19 L128.00,324.24 L129.02,324.28 L130.04,324.32 L131.06,324.36 L132.08,324.41 L133.10,324.45 L134.12,324.49 L135.14,324.53 L136.16,324.58 L137.18,324.62 L138.20,324.66 L139.22,324.70 L140.24,324.74 L141.26,324.79 L142.28,324.83 L143.30,324.87 L144.32,324.91 L145.34,324.95 L146.36,325.00 L147.38,325.04 L148.40,325.08 L149.42,325.12 L150.44,325.16 L151.46,325.20 L152.48,325.24 L153.50,325.28 L154.52,325.32 L155.54,325.37 L156.56,325.41 L157.58,325.45 L158.60,325.49 L159.62,325.53 L160.64,325.57 L161.66,325.61 L162.68,325.65 L163.70,325.69 L164.72,325.73 L165.74,325.77 L166.76,325.81 L167.78,325.85 L168.80,325.89 L169.82,325.93 L170.84,325.97 L171.86,326.01 L172.88,326.05 L173.90,326.09 L174.92,326.13 L175.94,326.17 L176.96,326.21 L177.98,326.25 L179.00,326.29 L180.02,326.33 L181.04,326.37 L182.06,326.41 L183.08,326.45 L184.10,326.49 L185.12,326.53 L186.14,326.57 L187.16,326.61 L188.18,326.64 L189.20,326.68 L190.22,326.72 L191.24,326.76 L192.26,326.80 L193.28,326.84 L194.30,326.87 L195.32,326.91 L196.34,326.95 L197.36,326.99 L198.38,327.02 L199.40,327.06 L200.42,327.10 L201.44,327.14 L202.46,327.17 L203.48,327.21 L204.50,327.25 L205.52,327.28 L206.54,327.32 L207.56,327.36 L208.58,327.39 L209.60,327.43 L210.62,327.46 L211.64,327.50 L212.66,327.54 L213.68,327.57 L214.70,327.61 L215.72,327.64 L216.74,327.68 L217.76,327.72 L218.78,327.75 L219.80,327.79 L220.82,327.82 L221.84,327.86 L222.86,327.89 L223.88,327.93 L224.90,327.96 L225.92,328.00 L226.94,328.03 L227.96,328.07 L228.98,328.10 L230.00,328.13 L231.02,328.17 L232.04,328.20 L233.06,328.24 L234.08,328.27 L235.10,328.31 L236.12,328.34 L237.14,328.37 L238.16,328.41 L239.18,328.44 L240.20,328.47 L241.22,328.51 L242.24,328.54 L243.26,328.57 L244.28,328.61 L245.30,328.64 L246.32,328.67 L247.34,328.71 L248.36,328.74 L249.38,328.77 L250.40,328.80 L251.42,328.84 L252.44,328.87 L253.46,328.90 L254.48,328.93 L255.50,328.96" clip-path="url(#clipc)" fill="none" stroke="#9a9a9a" stroke-width="3"/><path d="M51.50,320.50 L52.52,320.57 L53.54,320.63 L54.56,320.70 L55.58,320.76 L56.60,320.83 L57.62,320.89 L58.64,320.96 L59.66,321.02 L60.68,321.08 L61.70,321.15 L62.72,321.21 L63.74,321.27 L64.76,321.33 L65.78,321.39 L66.80,321.45 L67.82,321.50 L68.84,321.56 L69.86,321.62 L70.88,321.67 L71.90,321.73 L72.92,321.78 L73.94,321.83 L74.96,321.88 L75.98,321.94 L77.00,321.99 L78.02,322.04 L79.04,322.09 L80.06,322.13 L81.08,322.18 L82.10,322.23 L83.12,322.28 L84.14,322.33 L85.16,322.37 L86.18,322.42 L87.20,322.46 L88.22,322.51 L89.24,322.56 L90.26,322.60 L91.28,322.65 L92.30,322.69 L93.32,322.74 L94.34,322.78 L95.36,322.82 L96.38,322.87 L97.40,322.91 L98.42,322.96 L99.44,323.00 L100.46,323.05 L101.48,323.09 L102.50,323.14 L103.52,323.18 L104.54,323.23 L105.56,323.27 L106.58,323.32 L107.60,323.36 L108.62,323.41 L109.64,323.45 L110.66,323.49 L111.68,323.54 L112.70,323.58 L113.72,323.63 L114.74,323.67 L115.76,323.72 L116.78,323.76 L117.80,323.80 L118.82,323.85 L119.84,323.89 L120.86,323.93 L121.88,323.98 L122.90,324.02 L123.92,324.06 L124.94,324.11 L125.96,324.15 L126.98,324.19 L128.00,324.24 L129.02,324.28 L130.04,324.32 L131.06,324.36 L132.08,324.41 L133.10,324.45 L134.12,324.49 L135.14,324.53 L136.16,324.58 L137.18,324.62 L138.20,324.66 L139.22,324.70 L140.24,324.74 L141.26,324.79 L142.28,324.83 L143.30,324.87 L144.32,324.91 L145.34,324.95 L146.36,325.00 L147.38,325.04 L148.40,325.08 L149.42,325.12 L150.44,325.16 L151.46,325.20 L152.48,325.24 L153.50,325.28 L154.52,325.32 L155.54,325.37 L156.56,325.41 L157.58,325.45 L158.60,325.49 L159.62,325.53 L160.64,325.57 L161.66,325.61 L162.68,325.65 L163.70,325.69 L164.72,325.73 L165.74,325.77 L166.76,325.81 L167.78,325.85 L168.80,325.89 L169.82,325.93 L170.84,325.97 L171.86,326.01 L172.88,326.05 L173.90,326.09 L174.92,326.13 L175.94,326.17 L176.96,326.21 L177.98,326.25 L179.00,326.29 L180.02,326.33 L181.04,326.37 L182.06,326.41 L183.08,326.45 L184.10,326.49 L185.12,326.53 L186.14,326.57 L187.16,326.61 L188.18,326.64 L189.20,326.68 L190.22,326.72 L191.24,326.76 L192.26,326.80 L193.28,326.84 L194.30,326.87 L195.32,326.91 L196.34,326.95 L197.36,326.99 L198.38,327.02 L199.40,327.06 L200.42,327.10 L201.44,327.14 L202.46,327.17 L203.48,327.21 L204.50,327.25 L205.52,327.28 L206.54,327.32 L207.56,327.36 L208.58,327.39 L209.60,327.43 L210.62,327.46 L211.64,327.50 L212.66,327.54 L213.68,327.57 L214.70,327.61 L215.72,327.64 L216.74,327.68 L217.76,327.72 L218.78,327.75 L219.80,327.79 L220.82,327.82 L221.84,327.86 L222.86,327.89 L223.88,327.93 L224.90,327.96 L225.92,328.00 L226.94,328.03 L227.96,328.07 L228.98,328.10 L230.00,328.13 L231.02,328.17 L232.04,328.20 L233.06,328.24 L234.08,328.27 L235.10,328.31 L236.12,328.34 L237.14,328.37 L238.16,328.41 L239.18,328.44 L240.20,328.47 L241.22,328.51 L242.24,328.54 L243.26,328.57 L244.28,328.61 L245.30,328.64 L246.32,328.67 L247.34,328.71 L248.36,328.74 L249.38,328.77 L250.40,328.80 L251.42,328.84 L252.44,328.87 L253.46,328.90 L254.48,328.93 L255.50,328.96" clip-path="url(#clipc)" fill="none" stroke="#f0f0f0" stroke-width="1.1" stroke-dasharray="1 1.2"/><path d="M51.50,320.50 L52.52,320.18 L53.54,319.86 L54.56,319.54 L55.58,319.23 L56.60,318.91 L57.62,318.60 L58.64,318.29 L59.66,317.98 L60.68,317.67 L61.70,317.36 L62.72,317.06 L63.74,316.75 L64.76,316.45 L65.78,316.15 L66.80,315.85 L67.82,315.55 L68.84,315.26 L69.86,314.96 L70.88,314.67 L71.90,314.38 L72.92,314.09 L73.94,313.81 L74.96,313.52 L75.98,313.24 L77.00,312.96 L78.02,312.68 L79.04,312.40 L80.06,312.12 L81.08,311.85 L82.10,311.57 L83.12,311.30 L84.14,311.03 L85.16,310.76 L86.18,310.50 L87.20,310.23 L88.22,309.97 L89.24,309.70 L90.26,309.44 L91.28,309.18 L92.30,308.92 L93.32,308.66 L94.34,308.41 L95.36,308.15 L96.38,307.90 L97.40,307.64 L98.42,307.39 L99.44,307.14 L100.46,306.89 L101.48,306.64 L102.50,306.39 L103.52,306.15 L104.54,305.90 L105.56,305.66 L106.58,305.41 L107.60,305.17 L108.62,304.93 L109.64,304.69 L110.66,304.46 L111.68,304.22 L112.70,303.98 L113.72,303.75 L114.74,303.52 L115.76,303.28 L116.78,303.05 L117.80,302.82 L118.82,302.59 L119.84,302.36 L120.86,302.14 L121.88,301.91 L122.90,301.68 L123.92,301.46 L124.94,301.23 L125.96,301.01 L126.98,300.78 L128.00,300.56 L129.02,300.34 L130.04,300.11 L131.06,299.89 L132.08,299.67 L133.10,299.45 L134.12,299.23 L135.14,299.01 L136.16,298.79 L137.18,298.56 L138.20,298.34 L139.22,298.12 L140.24,297.90 L141.26,297.68 L142.28,297.46 L143.30,297.24 L144.32,297.02 L145.34,296.79 L146.36,296.57 L147.38,296.35 L148.40,296.13 L149.42,295.90 L150.44,295.68 L151.46,295.45 L152.48,295.23 L153.50,295.00 L154.52,294.77 L155.54,294.55 L156.56,294.32 L157.58,294.09 L158.60,293.86 L159.62,293.63 L160.64,293.40 L161.66,293.16 L162.68,292.93 L163.70,292.69 L164.72,292.45 L165.74,292.22 L166.76,291.98 L167.78,291.73 L168.80,291.49 L169.82,291.25 L170.84,291.01 L171.86,290.76 L172.88,290.52 L173.90,290.27 L174.92,290.03 L175.94,289.78 L176.96,289.54 L177.98,289.29 L179.00,289.04 L180.02,288.80 L181.04,288.55 L182.06,288.31 L183.08,288.06 L184.10,287.82 L185.12,287.58 L186.14,287.33 L187.16,287.09 L188.18,286.85 L189.20,286.61 L190.22,286.37 L191.24,286.14 L192.26,285.90 L193.28,285.67 L194.30,285.43 L195.32,285.20 L196.34,284.97 L197.36,284.74 L198.38,284.52 L199.40,284.30 L200.42,284.07 L201.44,283.86 L202.46,283.64 L203.48,283.42 L204.50,283.21 L205.52,283.00 L206.54,282.80 L207.56,282.59 L208.58,282.38 L209.60,282.18 L210.62,281.97 L211.64,281.77 L212.66,281.56 L213.68,281.36 L214.70,281.16 L215.72,280.96 L216.74,280.76 L217.76,280.56 L218.78,280.36 L219.80,280.16 L220.82,279.97 L221.84,279.77 L222.86,279.58 L223.88,279.38 L224.90,279.19 L225.92,279.00 L226.94,278.81 L227.96,278.62 L228.98,278.43 L230.00,278.24 L231.02,278.05 L232.04,277.87 L233.06,277.68 L234.08,277.50 L235.10,277.31 L236.12,277.13 L237.14,276.95 L238.16,276.77 L239.18,276.59 L240.20,276.42 L241.22,276.24 L242.24,276.06 L243.26,275.89 L244.28,275.72 L245.30,275.54 L246.32,275.37 L247.34,275.20 L248.36,275.03 L249.38,274.87 L250.40,274.70 L251.42,274.54 L252.44,274.37 L253.46,274.21 L254.48,274.05 L255.50,273.89" clip-path="url(#clipc)" fill="none" stroke="#bcbcbc" stroke-width="1.3"/><path d="M51.50,319.00v3.00M53.50,318.53v3.00M55.50,317.90v3.00M57.50,317.29v3.00M59.50,316.67v3.00M61.50,316.07v3.00M63.50,315.47v3.00M65.50,314.87v3.00M67.50,314.29v3.00M69.50,313.70v3.00M71.50,313.13v3.00M73.50,312.56v3.00M75.50,312.01v3.00M77.50,311.46v3.00M79.50,310.91v3.00M81.50,310.37v3.00M83.50,309.83v3.00M85.50,309.30v3.00M87.50,308.78v3.00M89.50,308.26v3.00M91.50,307.75v3.00M93.50,307.24v3.00M95.50,306.74v3.00M97.50,306.24v3.00M99.50,305.75v3.00M101.50,305.25v3.00M103.50,304.77v3.00M105.50,304.29v3.00M107.50,303.81v3.00M109.50,303.34v3.00M111.50,302.87v3.00M113.50,302.41v3.00M115.50,301.95v3.00M117.50,301.50v3.00M119.50,301.05v3.00M121.50,300.60v3.00M123.50,300.16v3.00M125.50,299.71v3.00M127.50,299.28v3.00M129.50,298.84v3.00M131.50,298.40v3.00M133.50,297.97v3.00M135.50,297.53v3.00M137.50,297.10v3.00M139.50,296.67v3.00M141.50,296.24v3.00M143.50,295.80v3.00M145.50,295.37v3.00M147.50,294.93v3.00M149.50,294.49v3.00M151.50,294.05v3.00M153.50,293.61v3.00M155.50,293.17v3.00M157.50,292.72v3.00M159.50,292.27v3.00M161.50,291.81v3.00M163.50,291.35v3.00M165.50,290.89v3.00M167.50,290.42v3.00M169.50,289.94v3.00M171.50,289.46v3.00M173.50,288.99v3.00M175.50,288.50v3.00M177.50,288.02v3.00M179.50,287.54v3.00M181.50,287.06v3.00M183.50,286.58v3.00M185.50,286.10v3.00M187.50,285.63v3.00M189.50,285.15v3.00M191.50,284.69v3.00M193.50,284.22v3.00M195.50,283.77v3.00M197.50,283.32v3.00M199.50,282.88v3.00M201.50,282.45v3.00M203.50,282.02v3.00M205.50,281.61v3.00M207.50,281.20v3.00M209.50,280.79v3.00M211.50,280.39v3.00M213.50,279.99v3.00M215.50,279.60v3.00M217.50,279.20v3.00M219.50,278.82v3.00M221.50,278.43v3.00M223.50,278.05v3.00M225.50,277.67v3.00M227.50,277.29v3.00M229.50,276.92v3.00M231.50,276.55v3.00M233.50,276.19v3.00M235.50,275.83v3.00M237.50,275.47v3.00M239.50,275.12v3.00M241.50,274.77v3.00M243.50,274.43v3.00M245.50,274.09v3.00M247.50,273.76v3.00M249.50,273.43v3.00M251.50,273.10v3.00M253.50,272.78v3.00M255.50,272.46v3.00" fill="none" stroke="#a9a9a9" stroke-width="1"/><path d="M51.50,320.50 L52.52,322.35 L53.54,324.08 L54.56,325.64 L55.58,326.96 L56.60,328.14 L57.62,329.22 L58.64,330.23 L59.66,331.18 L60.68,332.12 L61.70,333.07 L62.72,334.03 L63.74,334.97 L64.76,335.89 L65.78,336.80 L66.80,337.69 L67.82,338.58 L68.84,339.44 L69.86,340.30 L70.88,341.14 L71.90,341.97 L72.92,342.79 L73.94,343.61 L74.96,344.42 L75.98,345.22 L77.00,346.00 L78.02,346.77 L79.04,347.52 L80.06,348.25 L81.08,348.96 L82.10,349.63 L83.12,350.29 L84.14,350.92 L85.16,351.54 L86.18,352.14 L87.20,352.73 L88.22,353.30 L89.24,353.86 L90.26,354.41 L91.28,354.94 L92.30,355.46 L93.32,355.97 L94.34,356.46 L95.36,356.94 L96.38,357.41 L97.40,357.86 L98.42,358.31 L99.44,358.76 L100.46,359.20 L101.48,359.63 L102.50,360.06 L103.52,360.49 L104.54,360.93 L105.56,361.36 L106.58,361.79 L107.60,362.23 L108.62,362.66 L109.64,363.09 L110.66,363.51 L111.68,363.93 L112.70,364.35 L113.72,364.76 L114.74,365.16 L115.76,365.56 L116.78,365.94 L117.80,366.32 L118.82,366.69 L119.84,367.04 L120.86,367.39 L121.88,367.72 L122.90,368.03 L123.92,368.34 L124.94,368.65 L125.96,368.95 L126.98,369.24 L128.00,369.54 L129.02,369.83 L130.04,370.11 L131.06,370.40 L132.08,370.67 L133.10,370.95 L134.12,371.22 L135.14,371.49 L136.16,371.75 L137.18,372.02 L138.20,372.27 L139.22,372.53 L140.24,372.78 L141.26,373.02 L142.28,373.26 L143.30,373.50 L144.32,373.74 L145.34,373.97 L146.36,374.20 L147.38,374.42 L148.40,374.64 L149.42,374.85 L150.44,375.07 L151.46,375.28 L152.48,375.48 L153.50,375.68 L154.52,375.88 L155.54,376.07 L156.56,376.26 L157.58,376.45 L158.60,376.63 L159.62,376.80 L160.64,376.98 L161.66,377.15 L162.68,377.32 L163.70,377.49 L164.72,377.65 L165.74,377.81 L166.76,377.97 L167.78,378.13 L168.80,378.29 L169.82,378.44 L170.84,378.59 L171.86,378.74 L172.88,378.89 L173.90,379.04 L174.92,379.18 L175.94,379.32 L176.96,379.46 L177.98,379.60 L179.00,379.74 L180.02,379.87 L181.04,380.01 L182.06,380.14 L183.08,380.27 L184.10,380.40 L185.12,380.53 L186.14,380.65 L187.16,380.78 L188.18,380.90 L189.20,381.03 L190.22,381.15 L191.24,381.27 L192.26,381.39 L193.28,381.51 L194.30,381.62 L195.32,381.74 L196.34,381.86 L197.36,381.97 L198.38,382.08 L199.40,382.20 L200.42,382.31 L201.44,382.42 L202.46,382.53 L203.48,382.64 L204.50,382.75 L205.52,382.86 L206.54,382.97 L207.56,383.08 L208.58,383.19 L209.60,383.30 L210.62,383.40 L211.64,383.51 L212.66,383.62 L213.68,383.72 L214.70,383.82 L215.72,383.93 L216.74,384.03 L217.76,384.13 L218.78,384.24 L219.80,384.34 L220.82,384.44 L221.84,384.54 L222.86,384.64 L223.88,384.74 L224.90,384.83 L225.92,384.93 L226.94,385.03 L227.96,385.12 L228.98,385.22 L230.00,385.31 L231.02,385.40 L232.04,385.49 L233.06,385.59 L234.08,385.68 L235.10,385.76 L236.12,385.85 L237.14,385.94 L238.16,386.03 L239.18,386.11 L240.20,386.20 L241.22,386.28 L242.24,386.37 L243.26,386.45 L244.28,386.53 L245.30,386.61 L246.32,386.69 L247.34,386.77 L248.36,386.84 L249.38,386.92 L250.40,386.99 L251.42,387.07 L252.44,387.14 L253.46,387.21 L254.48,387.28 L255.50,387.35" clip-path="url(#clipc)" fill="none" stroke="#b6b6b6" stroke-width="1.4"/><path d="M51.50,318.95v3.10M52.50,321.07v3.10M53.50,323.14v3.10M55.50,324.71v3.10M56.50,326.57v3.10M58.50,328.06v3.10M59.50,329.73v3.10M61.50,330.88v3.10M62.50,332.53v3.10M64.50,333.67v3.10M65.50,335.30v3.10M67.50,336.32v3.10M68.50,337.89v3.10M70.50,338.87v3.10M71.50,340.40v3.10M73.50,341.32v3.10M74.50,342.83v3.10M76.50,343.69v3.10M77.50,345.15v3.10M79.50,345.95v3.10M80.50,347.34v3.10M82.50,348.03v3.10M84.50,349.29v3.10M86.50,350.49v3.10M88.50,351.64v3.10M90.50,352.72v3.10M92.50,353.77v3.10M94.50,354.75v3.10M96.50,355.69v3.10M98.50,356.59v3.10M100.50,357.45v3.10M102.50,358.31v3.10M104.50,359.15v3.10M106.50,360.00v3.10M108.50,360.85v3.10M110.50,361.70v3.10M112.50,362.52v3.10M114.50,363.32v3.10M116.50,364.10v3.10M118.50,364.84v3.10M120.50,365.55v3.10M122.50,366.21v3.10M124.50,366.82v3.10M126.50,367.41v3.10M128.50,367.99v3.10M130.50,368.56v3.10M132.50,369.10v3.10M134.50,369.64v3.10M136.50,370.16v3.10M138.50,370.68v3.10M140.50,371.17v3.10M142.50,371.65v3.10M144.50,372.12v3.10M146.50,372.57v3.10M148.50,373.01v3.10M150.50,373.43v3.10M152.50,373.84v3.10M154.50,374.23v3.10M156.50,374.61v3.10M158.50,374.97v3.10M160.50,375.32v3.10M162.50,375.66v3.10M164.50,375.99v3.10M166.50,376.31v3.10M168.50,376.62v3.10M170.50,376.92v3.10M172.50,377.22v3.10M174.50,377.50v3.10M176.50,377.78v3.10M178.50,378.05v3.10M180.50,378.32v3.10M182.50,378.58v3.10M184.50,378.84v3.10M186.50,379.09v3.10M188.50,379.33v3.10M190.50,379.57v3.10M192.50,379.81v3.10M194.50,380.04v3.10M196.50,380.27v3.10M198.50,380.49v3.10M200.50,380.71v3.10M202.50,380.93v3.10M204.50,381.15v3.10M206.50,381.36v3.10M208.50,381.58v3.10M210.50,381.79v3.10M212.50,382.00v3.10M214.50,382.20v3.10M216.50,382.41v3.10M218.50,382.61v3.10M220.50,382.81v3.10M222.50,383.01v3.10M224.50,383.20v3.10M226.50,383.39v3.10M228.50,383.58v3.10M230.50,383.76v3.10M232.50,383.94v3.10M234.50,384.12v3.10M236.50,384.29v3.10M238.50,384.47v3.10M240.50,384.63v3.10M242.50,384.80v3.10M244.50,384.96v3.10M246.50,385.11v3.10M248.50,385.27v3.10M250.50,385.42v3.10M252.50,385.56v3.10M254.50,385.70v3.10" fill="none" stroke="#a2a2a2" stroke-width="1"/><path d="M51.50,320.50 L52.52,322.15 L53.54,323.72 L54.56,325.20 L55.58,326.60 L56.60,327.94 L57.62,329.21 L58.64,330.42 L59.66,331.57 L60.68,332.67 L61.70,333.72 L62.72,334.73 L63.74,335.69 L64.76,336.61 L65.78,337.50 L66.80,338.35 L67.82,339.16 L68.84,339.95 L69.86,340.71 L70.88,341.43 L71.90,342.13 L72.92,342.81 L73.94,343.46 L74.96,344.09 L75.98,344.70 L77.00,345.29 L78.02,345.86 L79.04,346.41 L80.06,346.94 L81.08,347.46 L82.10,347.96 L83.12,348.44 L84.14,348.91 L85.16,349.37 L86.18,349.82 L87.20,350.25 L88.22,350.67 L89.24,351.07 L90.26,351.47 L91.28,351.85 L92.30,352.23 L93.32,352.60 L94.34,352.95 L95.36,353.30 L96.38,353.64 L97.40,353.97 L98.42,354.29 L99.44,354.60 L100.46,354.91 L101.48,355.20 L102.50,355.50 L103.52,355.78 L104.54,356.06 L105.56,356.33 L106.58,356.60 L107.60,356.86 L108.62,357.11 L109.64,357.36 L110.66,357.60 L111.68,357.84 L112.70,358.07 L113.72,358.30 L114.74,358.53 L115.76,358.75 L116.78,358.96 L117.80,359.17 L118.82,359.38 L119.84,359.58 L120.86,359.78 L121.88,359.97 L122.90,360.16 L123.92,360.35 L124.94,360.53 L125.96,360.71 L126.98,360.89 L128.00,361.06 L129.02,361.23 L130.04,361.40 L131.06,361.57 L132.08,361.73 L133.10,361.89 L134.12,362.04 L135.14,362.20 L136.16,362.35 L137.18,362.50 L138.20,362.64 L139.22,362.78 L140.24,362.93 L141.26,363.06 L142.28,363.20 L143.30,363.34 L144.32,363.47 L145.34,363.60 L146.36,363.73 L147.38,363.85 L148.40,363.98 L149.42,364.10 L150.44,364.22 L151.46,364.34 L152.48,364.45 L153.50,364.57 L154.52,364.68 L155.54,364.79 L156.56,364.90 L157.58,365.01 L158.60,365.12 L159.62,365.23 L160.64,365.33 L161.66,365.43 L162.68,365.53 L163.70,365.63 L164.72,365.73 L165.74,365.83 L166.76,365.92 L167.78,366.02 L168.80,366.11 L169.82,366.20 L170.84,366.29 L171.86,366.38 L172.88,366.47 L173.90,366.56 L174.92,366.65 L175.94,366.73 L176.96,366.81 L177.98,366.90 L179.00,366.98 L180.02,367.06 L181.04,367.14 L182.06,367.22 L183.08,367.30 L184.10,367.37 L185.12,367.45 L186.14,367.52 L187.16,367.60 L188.18,367.67 L189.20,367.74 L190.22,367.82 L191.24,367.89 L192.26,367.96 L193.28,368.03 L194.30,368.09 L195.32,368.16 L196.34,368.23 L197.36,368.30 L198.38,368.36 L199.40,368.43 L200.42,368.49 L201.44,368.55 L202.46,368.61 L203.48,368.68 L204.50,368.74 L205.52,368.80 L206.54,368.86 L207.56,368.92 L208.58,368.98 L209.60,369.03 L210.62,369.09 L211.64,369.15 L212.66,369.20 L213.68,369.26 L214.70,369.32 L215.72,369.37 L216.74,369.42 L217.76,369.48 L218.78,369.53 L219.80,369.58 L220.82,369.63 L221.84,369.69 L222.86,369.74 L223.88,369.79 L224.90,369.84 L225.92,369.89 L226.94,369.93 L227.96,369.98 L228.98,370.03 L230.00,370.08 L231.02,370.12 L232.04,370.17 L233.06,370.22 L234.08,370.26 L235.10,370.31 L236.12,370.35 L237.14,370.40 L238.16,370.44 L239.18,370.49 L240.20,370.53 L241.22,370.57 L242.24,370.61 L243.26,370.66 L244.28,370.70 L245.30,370.74 L246.32,370.78 L247.34,370.82 L248.36,370.86 L249.38,370.90 L250.40,370.94 L251.42,370.98 L252.44,371.02 L253.46,371.06 L254.48,371.09 L255.50,371.13" clip-path="url(#clipc)" fill="none" stroke="#8e8e8e" stroke-width="2"/><path d="M51.50,320.50 L52.52,320.65 L53.54,320.79 L54.56,320.93 L55.58,321.08 L56.60,321.22 L57.62,321.36 L58.64,321.50 L59.66,321.64 L60.68,321.78 L61.70,321.92 L62.72,322.06 L63.74,322.20 L64.76,322.33 L65.78,322.47 L66.80,322.60 L67.82,322.74 L68.84,322.87 L69.86,323.00 L70.88,323.13 L71.90,323.26 L72.92,323.39 L73.94,323.52 L74.96,323.64 L75.98,323.77 L77.00,323.90 L78.02,324.02 L79.04,324.15 L80.06,324.28 L81.08,324.40 L82.10,324.52 L83.12,324.65 L84.14,324.77 L85.16,324.89 L86.18,325.02 L87.20,325.14 L88.22,325.26 L89.24,325.38 L90.26,325.50 L91.28,325.61 L92.30,325.73 L93.32,325.85 L94.34,325.96 L95.36,326.08 L96.38,326.19 L97.40,326.31 L98.42,326.42 L99.44,326.53 L100.46,326.64 L101.48,326.75 L102.50,326.86 L103.52,326.97 L104.54,327.07 L105.56,327.18 L106.58,327.28 L107.60,327.38 L108.62,327.49 L109.64,327.59 L110.66,327.69 L111.68,327.79 L112.70,327.90 L113.72,328.00 L114.74,328.10 L115.76,328.19 L116.78,328.29 L117.80,328.39 L118.82,328.49 L119.84,328.59 L120.86,328.68 L121.88,328.78 L122.90,328.87 L123.92,328.97 L124.94,329.06 L125.96,329.16 L126.98,329.25 L128.00,329.34 L129.02,329.44 L130.04,329.53 L131.06,329.62 L132.08,329.71 L133.10,329.80 L134.12,329.89 L135.14,329.98 L136.16,330.07 L137.18,330.16 L138.20,330.25 L139.22,330.34 L140.24,330.43 L141.26,330.51 L142.28,330.60 L143.30,330.69 L144.32,330.77 L145.34,330.86 L146.36,330.95 L147.38,331.03 L148.40,331.12 L149.42,331.20 L150.44,331.29 L151.46,331.37 L152.48,331.46 L153.50,331.54 L154.52,331.62 L155.54,331.71 L156.56,331.79 L157.58,331.87 L158.60,331.95 L159.62,332.03 L160.64,332.12 L161.66,332.20 L162.68,332.28 L163.70,332.36 L164.72,332.44 L165.74,332.52 L166.76,332.59 L167.78,332.67 L168.80,332.75 L169.82,332.83 L170.84,332.91 L171.86,332.98 L172.88,333.06 L173.90,333.14 L174.92,333.21 L175.94,333.29 L176.96,333.37 L177.98,333.44 L179.00,333.52 L180.02,333.59 L181.04,333.67 L182.06,333.74 L183.08,333.82 L184.10,333.89 L185.12,333.97 L186.14,334.04 L187.16,334.11 L188.18,334.19 L189.20,334.26 L190.22,334.33 L191.24,334.41 L192.26,334.48 L193.28,334.55 L194.30,334.62 L195.32,334.70 L196.34,334.77 L197.36,334.84 L198.38,334.91 L199.40,334.98 L200.42,335.06 L201.44,335.13 L202.46,335.20 L203.48,335.27 L204.50,335.34 L205.52,335.41 L206.54,335.49 L207.56,335.56 L208.58,335.63 L209.60,335.70 L210.62,335.77 L211.64,335.84 L212.66,335.91 L213.68,335.98 L214.70,336.05 L215.72,336.12 L216.74,336.19 L217.76,336.26 L218.78,336.33 L219.80,336.40 L220.82,336.47 L221.84,336.54 L222.86,336.60 L223.88,336.67 L224.90,336.74 L225.92,336.81 L226.94,336.88 L227.96,336.95 L228.98,337.01 L230.00,337.08 L231.02,337.15 L232.04,337.22 L233.06,337.28 L234.08,337.35 L235.10,337.42 L236.12,337.48 L237.14,337.55 L238.16,337.62 L239.18,337.68 L240.20,337.75 L241.22,337.81 L242.24,337.88 L243.26,337.94 L244.28,338.01 L245.30,338.08 L246.32,338.14 L247.34,338.20 L248.36,338.27 L249.38,338.33 L250.40,338.40 L251.42,338.46 L252.44,338.53 L253.46,338.59 L254.48,338.65 L255.50,338.72" clip-path="url(#clipc)" fill="none" stroke="#151515" stroke-width="1.7"/><path d="M51.50,320.50 L52.52,319.75 L53.54,319.01 L54.56,318.27 L55.58,317.54 L56.60,316.80 L57.62,316.08 L58.64,315.36 L59.66,314.64 L60.68,313.93 L61.70,313.22 L62.72,312.51 L63.74,311.81 L64.76,311.11 L65.78,310.42 L66.80,309.73 L67.82,309.05 L68.84,308.37 L69.86,307.69 L70.88,307.02 L71.90,306.35 L72.92,305.68 L73.94,305.02 L74.96,304.37 L75.98,303.71 L77.00,303.07 L78.02,302.42 L79.04,301.78 L80.06,301.14 L81.08,300.51 L82.10,299.88 L83.12,299.25 L84.14,298.63 L85.16,298.01 L86.18,297.40 L87.20,296.79 L88.22,296.18 L89.24,295.58 L90.26,294.98 L91.28,294.38 L92.30,293.79 L93.32,293.20 L94.34,292.61 L95.36,292.03 L96.38,291.45 L97.40,290.88 L98.42,290.31 L99.44,289.74 L100.46,289.17 L101.48,288.61 L102.50,288.06 L103.52,287.50 L104.54,286.95 L105.56,286.40 L106.58,285.86 L107.60,285.32 L108.62,284.78 L109.64,284.25 L110.66,283.71 L111.68,283.19 L112.70,282.66 L113.72,282.14 L114.74,281.62 L115.76,281.11 L116.78,280.59 L117.80,280.09 L118.82,279.58 L119.84,279.08 L120.86,278.58 L121.88,278.08 L122.90,277.59 L123.92,277.10 L124.94,276.61 L125.96,276.12 L126.98,275.64 L128.00,275.16 L129.02,274.69 L130.04,274.21 L131.06,273.74 L132.08,273.28 L133.10,272.81 L134.12,272.35 L135.14,271.89 L136.16,271.44 L137.18,270.98 L138.20,270.53 L139.22,270.08 L140.24,269.64 L141.26,269.19 L142.28,268.75 L143.30,268.32 L144.32,267.88 L145.34,267.45 L146.36,267.02 L147.38,266.59 L148.40,266.17 L149.42,265.75 L150.44,265.33 L151.46,264.91 L152.48,264.50 L153.50,264.08 L154.52,263.67 L155.54,263.27 L156.56,262.86 L157.58,262.46 L158.60,262.06 L159.62,261.66 L160.64,261.26 L161.66,260.87 L162.68,260.48 L163.70,260.09 L164.72,259.70 L165.74,259.32 L166.76,258.94 L167.78,258.56 L168.80,258.18 L169.82,257.80 L170.84,257.43 L171.86,257.06 L172.88,256.69 L173.90,256.32 L174.92,255.95 L175.94,255.59 L176.96,255.23 L177.98,254.87 L179.00,254.51 L180.02,254.15 L181.04,253.80 L182.06,253.45 L183.08,253.10 L184.10,252.75 L185.12,252.40 L186.14,252.06 L187.16,251.71 L188.18,251.37 L189.20,251.03 L190.22,250.69 L191.24,250.36 L192.26,250.02 L193.28,249.69 L194.30,249.36 L195.32,249.03 L196.34,248.70 L197.36,248.38 L198.38,248.05 L199.40,247.73 L200.42,247.41 L201.44,247.09 L202.46,246.77 L203.48,246.45 L204.50,246.14 L205.52,245.82 L206.54,245.51 L207.56,245.20 L208.58,244.89 L209.60,244.58 L210.62,244.27 L211.64,243.96 L212.66,243.66 L213.68,243.36 L214.70,243.05 L215.72,242.75 L216.74,242.45 L217.76,242.15 L218.78,241.86 L219.80,241.56 L220.82,241.27 L221.84,240.97 L222.86,240.68 L223.88,240.39 L224.90,240.10 L225.92,239.81 L226.94,239.52 L227.96,239.23 L228.98,238.94 L230.00,238.66 L231.02,238.37 L232.04,238.09 L233.06,237.80 L234.08,237.52 L235.10,237.24 L236.12,236.96 L237.14,236.68 L238.16,236.40 L239.18,236.12 L240.20,235.85 L241.22,235.57 L242.24,235.29 L243.26,235.02 L244.28,234.74 L245.30,234.47 L246.32,234.20 L247.34,233.93 L248.36,233.65 L249.38,233.38 L250.40,233.11 L251.42,232.84 L252.44,232.57 L253.46,232.30 L254.48,232.03 L255.50,231.77" clip-path="url(#clipc)" fill="none" stroke="#262626" stroke-width="2.8"/><path d="M51.50,320.50 L52.52,319.75 L53.54,319.01 L54.56,318.27 L55.58,317.54 L56.60,316.80 L57.62,316.08 L58.64,315.36 L59.66,314.64 L60.68,313.93 L61.70,313.22 L62.72,312.51 L63.74,311.81 L64.76,311.11 L65.78,310.42 L66.80,309.73 L67.82,309.05 L68.84,308.37 L69.86,307.69 L70.88,307.02 L71.90,306.35 L72.92,305.68 L73.94,305.02 L74.96,304.37 L75.98,303.71 L77.00,303.07 L78.02,302.42 L79.04,301.78 L80.06,301.14 L81.08,300.51 L82.10,299.88 L83.12,299.25 L84.14,298.63 L85.16,298.01 L86.18,297.40 L87.20,296.79 L88.22,296.18 L89.24,295.58 L90.26,294.98 L91.28,294.38 L92.30,293.79 L93.32,293.20 L94.34,292.61 L95.36,292.03 L96.38,291.45 L97.40,290.88 L98.42,290.31 L99.44,289.74 L100.46,289.17 L101.48,288.61 L102.50,288.06 L103.52,287.50 L104.54,286.95 L105.56,286.40 L106.58,285.86 L107.60,285.32 L108.62,284.78 L109.64,284.25 L110.66,283.71 L111.68,283.19 L112.70,282.66 L113.72,282.14 L114.74,281.62 L115.76,281.11 L116.78,280.59 L117.80,280.09 L118.82,279.58 L119.84,279.08 L120.86,278.58 L121.88,278.08 L122.90,277.59 L123.92,277.10 L124.94,276.61 L125.96,276.12 L126.98,275.64 L128.00,275.16 L129.02,274.69 L130.04,274.21 L131.06,273.74 L132.08,273.28 L133.10,272.81 L134.12,272.35 L135.14,271.89 L136.16,271.44 L137.18,270.98 L138.20,270.53 L139.22,270.08 L140.24,269.64 L141.26,269.19 L142.28,268.75 L143.30,268.32 L144.32,267.88 L145.34,267.45 L146.36,267.02 L147.38,266.59 L148.40,266.17 L149.42,265.75 L150.44,265.33 L151.46,264.91 L152.48,264.50 L153.50,264.08 L154.52,263.67 L155.54,263.27 L156.56,262.86 L157.58,262.46 L158.60,262.06 L159.62,261.66 L160.64,261.26 L161.66,260.87 L162.68,260.48 L163.70,260.09 L164.72,259.70 L165.74,259.32 L166.76,258.94 L167.78,258.56 L168.80,258.18 L169.82,257.80 L170.84,257.43 L171.86,257.06 L172.88,256.69 L173.90,256.32 L174.92,255.95 L175.94,255.59 L176.96,255.23 L177.98,254.87 L179.00,254.51 L180.02,254.15 L181.04,253.80 L182.06,253.45 L183.08,253.10 L184.10,252.75 L185.12,252.40 L186.14,252.06 L187.16,251.71 L188.18,251.37 L189.20,251.03 L190.22,250.69 L191.24,250.36 L192.26,250.02 L193.28,249.69 L194.30,249.36 L195.32,249.03 L196.34,248.70 L197.36,248.38 L198.38,248.05 L199.40,247.73 L200.42,247.41 L201.44,247.09 L202.46,246.77 L203.48,246.45 L204.50,246.14 L205.52,245.82 L206.54,245.51 L207.56,245.20 L208.58,244.89 L209.60,244.58 L210.62,244.27 L211.64,243.96 L212.66,243.66 L213.68,243.36 L214.70,243.05 L215.72,242.75 L216.74,242.45 L217.76,242.15 L218.78,241.86 L219.80,241.56 L220.82,241.27 L221.84,240.97 L222.86,240.68 L223.88,240.39 L224.90,240.10 L225.92,239.81 L226.94,239.52 L227.96,239.23 L228.98,238.94 L230.00,238.66 L231.02,238.37 L232.04,238.09 L233.06,237.80 L234.08,237.52 L235.10,237.24 L236.12,236.96 L237.14,236.68 L238.16,236.40 L239.18,236.12 L240.20,235.85 L241.22,235.57 L242.24,235.29 L243.26,235.02 L244.28,234.74 L245.30,234.47 L246.32,234.20 L247.34,233.93 L248.36,233.65 L249.38,233.38 L250.40,233.11 L251.42,232.84 L252.44,232.57 L253.46,232.30 L254.48,232.03 L255.50,231.77" clip-path="url(#clipc)" fill="none" stroke="#e8e8e8" stroke-width="1.0" stroke-dasharray="1.0 1.5"/><rect x="68.50" y="236.40" width="52.50" height="9" fill="#fff"/><text transform="translate(69.50,243.40) scale(0.855,1)" text-anchor="start" font-size="8.7" fill="#1c1c1c" stroke="#1c1c1c" stroke-width="0.16" >Model 1,300 °C</text><text transform="translate(139.80,259.90) scale(0.855,1)" text-anchor="middle" font-size="8.7" fill="#1c1c1c" stroke="#1c1c1c" stroke-width="0.16" >Sr</text><text transform="translate(200.90,277.10) scale(0.855,1)" text-anchor="middle" font-size="8.7" fill="#1c1c1c" stroke="#1c1c1c" stroke-width="0.16" >Ba</text><text transform="translate(213.00,321.80) scale(0.855,1)" text-anchor="middle" font-size="8.7" fill="#1c1c1c" stroke="#1c1c1c" stroke-width="0.16" >Rb</text><text transform="translate(189.00,346.00) scale(0.855,1)" text-anchor="middle" font-size="8.7" fill="#1c1c1c" stroke="#1c1c1c" stroke-width="0.16" >Cs</text><text transform="translate(214.20,363.70) scale(0.855,1)" text-anchor="middle" font-size="8.7" fill="#1c1c1c" stroke="#1c1c1c" stroke-width="0.16" >Li</text><text transform="translate(159.20,395.80) scale(0.855,1)" font-size="8.7" fill="#1c1c1c" stroke="#1c1c1c" stroke-width="0.16"><tspan font-size="6.3" dy="-3">87</tspan><tspan dy="3">Sr</tspan><tspan dx="0.8">/</tspan><tspan dx="0.8" font-size="6.3" dy="-3">86</tspan><tspan dy="3">Sr (×100)</tspan></text><path d="M257.00,264.40 L261.20,262.30 L261.20,266.50 Z" fill="#1c1c1c"/><text transform="translate(263.20,267.60) scale(0.8,1)" text-anchor="start" font-size="9" fill="#1c1c1c" stroke="#1c1c1c" stroke-width="0.16" >Sr</text><path d="M257.00,301.50 L261.20,299.40 L261.20,303.60 Z" fill="#1c1c1c"/><text transform="translate(263.20,304.70) scale(0.8,1)" text-anchor="start" font-size="9" fill="#1c1c1c" stroke="#1c1c1c" stroke-width="0.16" >Ba</text><path d="M257.00,339.40 L261.20,337.30 L261.20,341.50 Z" fill="#1c1c1c"/><text transform="translate(263.20,342.60) scale(0.8,1)" text-anchor="start" font-size="9" fill="#1c1c1c" stroke="#1c1c1c" stroke-width="0.16" >Rb</text><path d="M257.00,350.30 L261.20,348.20 L261.20,352.40 Z" fill="#1c1c1c"/><text transform="translate(263.20,353.50) scale(0.8,1)" text-anchor="start" font-size="9" fill="#1c1c1c" stroke="#1c1c1c" stroke-width="0.16" >Cs</text><path d="M257.00,357.50 L261.20,355.40 L261.20,359.60 Z" fill="#1c1c1c"/><text transform="translate(263.20,360.70) scale(0.8,1)" text-anchor="start" font-size="9" fill="#1c1c1c" stroke="#1c1c1c" stroke-width="0.16" >Li</text><path d="M257.00,378.70 L261.20,376.60 L261.20,380.80 Z" fill="#1c1c1c"/><path d="M261.00,378.70 H266.50 V389.00" fill="none" stroke="#3a3a3a" stroke-width="1.1"/><text transform="translate(258.40,400.60) scale(0.82,1)" font-size="9" fill="#1c1c1c" stroke="#1c1c1c" stroke-width="0.16"><tspan font-size="6.4" dy="-3.3">87/86</tspan><tspan dy="3.3">Sr</tspan></text><rect x="0" y="226.1" width="11" height="10.5" fill="#0f3c26"/><text transform="translate(5.5,235.0) scale(0.82,1)" text-anchor="middle" font-size="10.5" font-weight="bold" fill="#fff">c</text><rect x="353.5" y="228.5" width="203.00" height="184.00" fill="none" stroke="#ababab" stroke-width="1"/><line x1="353.5" y1="406.50" x2="356.0" y2="406.50" stroke="#ababab" stroke-width="1"/><line x1="353.5" y1="400.50" x2="356.0" y2="400.50" stroke="#ababab" stroke-width="1"/><line x1="353.5" y1="394.50" x2="356.0" y2="394.50" stroke="#ababab" stroke-width="1"/><line x1="353.5" y1="387.50" x2="356.0" y2="387.50" stroke="#ababab" stroke-width="1"/><line x1="353.5" y1="381.50" x2="356.0" y2="381.50" stroke="#ababab" stroke-width="1"/><line x1="353.5" y1="375.50" x2="356.0" y2="375.50" stroke="#ababab" stroke-width="1"/><line x1="353.5" y1="369.50" x2="356.0" y2="369.50" stroke="#ababab" stroke-width="1"/><line x1="353.5" y1="363.50" x2="356.0" y2="363.50" stroke="#ababab" stroke-width="1"/><line x1="353.5" y1="357.50" x2="356.0" y2="357.50" stroke="#ababab" stroke-width="1"/><line x1="353.5" y1="351.50" x2="356.0" y2="351.50" stroke="#ababab" stroke-width="1"/><line x1="353.5" y1="345.50" x2="356.0" y2="345.50" stroke="#ababab" stroke-width="1"/><line x1="353.5" y1="338.50" x2="356.0" y2="338.50" stroke="#ababab" stroke-width="1"/><line x1="353.5" y1="332.50" x2="356.0" y2="332.50" stroke="#ababab" stroke-width="1"/><line x1="353.5" y1="326.50" x2="356.0" y2="326.50" stroke="#ababab" stroke-width="1"/><line x1="353.5" y1="320.50" x2="356.0" y2="320.50" stroke="#ababab" stroke-width="1"/><line x1="353.5" y1="314.50" x2="356.0" y2="314.50" stroke="#ababab" stroke-width="1"/><line x1="353.5" y1="308.50" x2="356.0" y2="308.50" stroke="#ababab" stroke-width="1"/><line x1="353.5" y1="302.50" x2="356.0" y2="302.50" stroke="#ababab" stroke-width="1"/><line x1="353.5" y1="295.50" x2="356.0" y2="295.50" stroke="#ababab" stroke-width="1"/><line x1="353.5" y1="289.50" x2="356.0" y2="289.50" stroke="#ababab" stroke-width="1"/><line x1="353.5" y1="283.50" x2="356.0" y2="283.50" stroke="#ababab" stroke-width="1"/><line x1="353.5" y1="277.50" x2="356.0" y2="277.50" stroke="#ababab" stroke-width="1"/><line x1="353.5" y1="271.50" x2="356.0" y2="271.50" stroke="#ababab" stroke-width="1"/><line x1="353.5" y1="265.50" x2="356.0" y2="265.50" stroke="#ababab" stroke-width="1"/><line x1="353.5" y1="259.50" x2="356.0" y2="259.50" stroke="#ababab" stroke-width="1"/><line x1="353.5" y1="253.50" x2="356.0" y2="253.50" stroke="#ababab" stroke-width="1"/><line x1="353.5" y1="246.50" x2="356.0" y2="246.50" stroke="#ababab" stroke-width="1"/><line x1="353.5" y1="240.50" x2="356.0" y2="240.50" stroke="#ababab" stroke-width="1"/><line x1="353.5" y1="234.50" x2="356.0" y2="234.50" stroke="#ababab" stroke-width="1"/><line x1="373.50" y1="412.5" x2="373.50" y2="409.5" stroke="#a5a5a5" stroke-width="1"/><line x1="394.50" y1="412.5" x2="394.50" y2="409.5" stroke="#a5a5a5" stroke-width="1"/><line x1="414.50" y1="412.5" x2="414.50" y2="409.5" stroke="#a5a5a5" stroke-width="1"/><line x1="434.50" y1="412.5" x2="434.50" y2="409.5" stroke="#a5a5a5" stroke-width="1"/><line x1="455.50" y1="412.5" x2="455.50" y2="409.5" stroke="#a5a5a5" stroke-width="1"/><line x1="475.50" y1="412.5" x2="475.50" y2="409.5" stroke="#a5a5a5" stroke-width="1"/><line x1="495.50" y1="412.5" x2="495.50" y2="409.5" stroke="#a5a5a5" stroke-width="1"/><line x1="515.50" y1="412.5" x2="515.50" y2="409.5" stroke="#a5a5a5" stroke-width="1"/><line x1="536.50" y1="412.5" x2="536.50" y2="409.5" stroke="#a5a5a5" stroke-width="1"/><text transform="translate(350.30,416.10) scale(0.8,1)" text-anchor="end" font-size="8.7" fill="#1c1c1c" stroke="#1c1c1c" stroke-width="0.16" ><tspan font-size="10.6" dy="0.6" stroke-width="0">&#8722;</tspan><tspan dy="-0.6">150</tspan></text><text transform="translate(350.30,385.43) scale(0.8,1)" text-anchor="end" font-size="8.7" fill="#1c1c1c" stroke="#1c1c1c" stroke-width="0.16" ><tspan font-size="10.6" dy="0.6" stroke-width="0">&#8722;</tspan><tspan dy="-0.6">100</tspan></text><text transform="translate(350.30,354.77) scale(0.8,1)" text-anchor="end" font-size="8.7" fill="#1c1c1c" stroke="#1c1c1c" stroke-width="0.16" ><tspan font-size="10.6" dy="0.6" stroke-width="0">&#8722;</tspan><tspan dy="-0.6">50</tspan></text><text transform="translate(350.30,324.10) scale(0.8,1)" text-anchor="end" font-size="8.7" fill="#1c1c1c" stroke="#1c1c1c" stroke-width="0.16" >0</text><text transform="translate(350.30,293.43) scale(0.8,1)" text-anchor="end" font-size="8.7" fill="#1c1c1c" stroke="#1c1c1c" stroke-width="0.16" >50</text><text transform="translate(350.30,262.77) scale(0.8,1)" text-anchor="end" font-size="8.7" fill="#1c1c1c" stroke="#1c1c1c" stroke-width="0.16" >100</text><text transform="translate(350.30,232.10) scale(0.8,1)" text-anchor="end" font-size="8.7" fill="#1c1c1c" stroke="#1c1c1c" stroke-width="0.16" >150</text><text transform="translate(353.50,422.40) scale(0.8,1)" text-anchor="middle" font-size="8.7" fill="#1c1c1c" stroke="#1c1c1c" stroke-width="0.16" >0</text><text transform="translate(373.80,422.40) scale(0.8,1)" text-anchor="middle" font-size="8.7" fill="#1c1c1c" stroke="#1c1c1c" stroke-width="0.16" >2</text><text transform="translate(394.10,422.40) scale(0.8,1)" text-anchor="middle" font-size="8.7" fill="#1c1c1c" stroke="#1c1c1c" stroke-width="0.16" >4</text><text transform="translate(414.40,422.40) scale(0.8,1)" text-anchor="middle" font-size="8.7" fill="#1c1c1c" stroke="#1c1c1c" stroke-width="0.16" >6</text><text transform="translate(434.70,422.40) scale(0.8,1)" text-anchor="middle" font-size="8.7" fill="#1c1c1c" stroke="#1c1c1c" stroke-width="0.16" >8</text><text transform="translate(455.00,422.40) scale(0.8,1)" text-anchor="middle" font-size="8.7" fill="#1c1c1c" stroke="#1c1c1c" stroke-width="0.16" >10</text><text transform="translate(475.30,422.40) scale(0.8,1)" text-anchor="middle" font-size="8.7" fill="#1c1c1c" stroke="#1c1c1c" stroke-width="0.16" >12</text><text transform="translate(495.60,422.40) scale(0.8,1)" text-anchor="middle" font-size="8.7" fill="#1c1c1c" stroke="#1c1c1c" stroke-width="0.16" >14</text><text transform="translate(515.90,422.40) scale(0.8,1)" text-anchor="middle" font-size="8.7" fill="#1c1c1c" stroke="#1c1c1c" stroke-width="0.16" >16</text><text transform="translate(536.20,422.40) scale(0.8,1)" text-anchor="middle" font-size="8.7" fill="#1c1c1c" stroke="#1c1c1c" stroke-width="0.16" >18</text><text transform="translate(556.50,422.40) scale(0.8,1)" text-anchor="middle" font-size="8.7" fill="#1c1c1c" stroke="#1c1c1c" stroke-width="0.16" >20</text><text transform="translate(455.00,434.50) scale(0.855,1)" text-anchor="middle" font-size="8.7" fill="#1c1c1c" stroke="#1c1c1c" stroke-width="0.16" font-style="italic">R</text><text transform="translate(325.20,320.50) rotate(-90) scale(0.855,1)" text-anchor="middle" font-size="8.7" fill="#1c1c1c" stroke="#1c1c1c" stroke-width="0.16">Relative deviation (%)</text><path d="M353.50,320.50 L354.51,320.53 L355.53,320.55 L356.55,320.58 L357.56,320.60 L358.57,320.63 L359.59,320.65 L360.61,320.68 L361.62,320.70 L362.63,320.73 L363.65,320.75 L364.67,320.78 L365.68,320.80 L366.69,320.83 L367.71,320.85 L368.73,320.88 L369.74,320.90 L370.75,320.92 L371.77,320.95 L372.79,320.97 L373.80,320.99 L374.81,321.01 L375.83,321.04 L376.85,321.06 L377.86,321.08 L378.88,321.10 L379.89,321.13 L380.90,321.15 L381.92,321.17 L382.94,321.19 L383.95,321.21 L384.97,321.24 L385.98,321.26 L387.00,321.28 L388.01,321.30 L389.02,321.32 L390.04,321.34 L391.06,321.36 L392.07,321.39 L393.08,321.41 L394.10,321.43 L395.12,321.44 L396.13,321.46 L397.14,321.48 L398.16,321.50 L399.18,321.52 L400.19,321.54 L401.20,321.55 L402.22,321.57 L403.24,321.59 L404.25,321.60 L405.26,321.62 L406.28,321.63 L407.30,321.65 L408.31,321.66 L409.32,321.68 L410.34,321.69 L411.36,321.71 L412.37,321.72 L413.38,321.73 L414.40,321.75 L415.42,321.76 L416.43,321.77 L417.44,321.78 L418.46,321.80 L419.48,321.81 L420.49,321.82 L421.50,321.83 L422.52,321.85 L423.53,321.86 L424.55,321.87 L425.56,321.88 L426.58,321.89 L427.60,321.90 L428.61,321.91 L429.62,321.92 L430.64,321.94 L431.65,321.95 L432.67,321.96 L433.69,321.97 L434.70,321.98 L435.72,321.99 L436.73,322.00 L437.75,322.01 L438.76,322.02 L439.77,322.04 L440.79,322.05 L441.81,322.06 L442.82,322.07 L443.84,322.08 L444.85,322.09 L445.87,322.10 L446.88,322.12 L447.89,322.13 L448.91,322.14 L449.93,322.15 L450.94,322.17 L451.96,322.18 L452.97,322.19 L453.99,322.20 L455.00,322.22 L456.01,322.23 L457.03,322.24 L458.05,322.26 L459.06,322.27 L460.07,322.28 L461.09,322.30 L462.11,322.31 L463.12,322.33 L464.13,322.34 L465.15,322.35 L466.17,322.37 L467.18,322.38 L468.19,322.40 L469.21,322.41 L470.23,322.42 L471.24,322.44 L472.25,322.45 L473.27,322.47 L474.29,322.48 L475.30,322.49 L476.31,322.51 L477.33,322.52 L478.35,322.54 L479.36,322.55 L480.38,322.57 L481.39,322.58 L482.41,322.60 L483.42,322.61 L484.44,322.63 L485.45,322.64 L486.47,322.66 L487.48,322.67 L488.50,322.69 L489.51,322.70 L490.52,322.72 L491.54,322.73 L492.56,322.75 L493.57,322.76 L494.59,322.78 L495.60,322.79 L496.62,322.81 L497.63,322.82 L498.64,322.84 L499.66,322.86 L500.68,322.87 L501.69,322.89 L502.71,322.90 L503.72,322.92 L504.74,322.94 L505.75,322.95 L506.76,322.97 L507.78,322.99 L508.80,323.00 L509.81,323.02 L510.82,323.04 L511.84,323.05 L512.86,323.07 L513.87,323.09 L514.88,323.10 L515.90,323.12 L516.91,323.14 L517.93,323.16 L518.94,323.17 L519.96,323.19 L520.98,323.21 L521.99,323.23 L523.00,323.24 L524.02,323.26 L525.04,323.28 L526.05,323.30 L527.07,323.32 L528.08,323.33 L529.10,323.35 L530.11,323.37 L531.12,323.39 L532.14,323.41 L533.15,323.43 L534.17,323.44 L535.18,323.46 L536.20,323.48 L537.22,323.50 L538.23,323.52 L539.25,323.54 L540.26,323.56 L541.27,323.58 L542.29,323.60 L543.31,323.62 L544.32,323.64 L545.34,323.65 L546.35,323.67 L547.37,323.69 L548.38,323.71 L549.39,323.73 L550.41,323.75 L551.42,323.77 L552.44,323.79 L553.46,323.81 L554.47,323.83 L555.49,323.85 L556.50,323.87" clip-path="url(#clipd)" fill="none" stroke="#9a9a9a" stroke-width="3"/><path d="M353.50,320.50 L354.51,320.53 L355.53,320.55 L356.55,320.58 L357.56,320.60 L358.57,320.63 L359.59,320.65 L360.61,320.68 L361.62,320.70 L362.63,320.73 L363.65,320.75 L364.67,320.78 L365.68,320.80 L366.69,320.83 L367.71,320.85 L368.73,320.88 L369.74,320.90 L370.75,320.92 L371.77,320.95 L372.79,320.97 L373.80,320.99 L374.81,321.01 L375.83,321.04 L376.85,321.06 L377.86,321.08 L378.88,321.10 L379.89,321.13 L380.90,321.15 L381.92,321.17 L382.94,321.19 L383.95,321.21 L384.97,321.24 L385.98,321.26 L387.00,321.28 L388.01,321.30 L389.02,321.32 L390.04,321.34 L391.06,321.36 L392.07,321.39 L393.08,321.41 L394.10,321.43 L395.12,321.44 L396.13,321.46 L397.14,321.48 L398.16,321.50 L399.18,321.52 L400.19,321.54 L401.20,321.55 L402.22,321.57 L403.24,321.59 L404.25,321.60 L405.26,321.62 L406.28,321.63 L407.30,321.65 L408.31,321.66 L409.32,321.68 L410.34,321.69 L411.36,321.71 L412.37,321.72 L413.38,321.73 L414.40,321.75 L415.42,321.76 L416.43,321.77 L417.44,321.78 L418.46,321.80 L419.48,321.81 L420.49,321.82 L421.50,321.83 L422.52,321.85 L423.53,321.86 L424.55,321.87 L425.56,321.88 L426.58,321.89 L427.60,321.90 L428.61,321.91 L429.62,321.92 L430.64,321.94 L431.65,321.95 L432.67,321.96 L433.69,321.97 L434.70,321.98 L435.72,321.99 L436.73,322.00 L437.75,322.01 L438.76,322.02 L439.77,322.04 L440.79,322.05 L441.81,322.06 L442.82,322.07 L443.84,322.08 L444.85,322.09 L445.87,322.10 L446.88,322.12 L447.89,322.13 L448.91,322.14 L449.93,322.15 L450.94,322.17 L451.96,322.18 L452.97,322.19 L453.99,322.20 L455.00,322.22 L456.01,322.23 L457.03,322.24 L458.05,322.26 L459.06,322.27 L460.07,322.28 L461.09,322.30 L462.11,322.31 L463.12,322.33 L464.13,322.34 L465.15,322.35 L466.17,322.37 L467.18,322.38 L468.19,322.40 L469.21,322.41 L470.23,322.42 L471.24,322.44 L472.25,322.45 L473.27,322.47 L474.29,322.48 L475.30,322.49 L476.31,322.51 L477.33,322.52 L478.35,322.54 L479.36,322.55 L480.38,322.57 L481.39,322.58 L482.41,322.60 L483.42,322.61 L484.44,322.63 L485.45,322.64 L486.47,322.66 L487.48,322.67 L488.50,322.69 L489.51,322.70 L490.52,322.72 L491.54,322.73 L492.56,322.75 L493.57,322.76 L494.59,322.78 L495.60,322.79 L496.62,322.81 L497.63,322.82 L498.64,322.84 L499.66,322.86 L500.68,322.87 L501.69,322.89 L502.71,322.90 L503.72,322.92 L504.74,322.94 L505.75,322.95 L506.76,322.97 L507.78,322.99 L508.80,323.00 L509.81,323.02 L510.82,323.04 L511.84,323.05 L512.86,323.07 L513.87,323.09 L514.88,323.10 L515.90,323.12 L516.91,323.14 L517.93,323.16 L518.94,323.17 L519.96,323.19 L520.98,323.21 L521.99,323.23 L523.00,323.24 L524.02,323.26 L525.04,323.28 L526.05,323.30 L527.07,323.32 L528.08,323.33 L529.10,323.35 L530.11,323.37 L531.12,323.39 L532.14,323.41 L533.15,323.43 L534.17,323.44 L535.18,323.46 L536.20,323.48 L537.22,323.50 L538.23,323.52 L539.25,323.54 L540.26,323.56 L541.27,323.58 L542.29,323.60 L543.31,323.62 L544.32,323.64 L545.34,323.65 L546.35,323.67 L547.37,323.69 L548.38,323.71 L549.39,323.73 L550.41,323.75 L551.42,323.77 L552.44,323.79 L553.46,323.81 L554.47,323.83 L555.49,323.85 L556.50,323.87" clip-path="url(#clipd)" fill="none" stroke="#f0f0f0" stroke-width="1.1" stroke-dasharray="1 1.2"/><path d="M353.50,320.50 L354.51,320.44 L355.53,320.37 L356.55,320.31 L357.56,320.24 L358.57,320.18 L359.59,320.12 L360.61,320.05 L361.62,319.99 L362.63,319.93 L363.65,319.87 L364.67,319.81 L365.68,319.75 L366.69,319.69 L367.71,319.63 L368.73,319.57 L369.74,319.51 L370.75,319.45 L371.77,319.39 L372.79,319.33 L373.80,319.27 L374.81,319.22 L375.83,319.16 L376.85,319.10 L377.86,319.05 L378.88,318.99 L379.89,318.94 L380.90,318.88 L381.92,318.83 L382.94,318.77 L383.95,318.72 L384.97,318.66 L385.98,318.61 L387.00,318.56 L388.01,318.50 L389.02,318.45 L390.04,318.40 L391.06,318.35 L392.07,318.29 L393.08,318.24 L394.10,318.19 L395.12,318.14 L396.13,318.09 L397.14,318.04 L398.16,317.98 L399.18,317.93 L400.19,317.88 L401.20,317.83 L402.22,317.78 L403.24,317.73 L404.25,317.68 L405.26,317.63 L406.28,317.58 L407.30,317.53 L408.31,317.47 L409.32,317.42 L410.34,317.37 L411.36,317.32 L412.37,317.27 L413.38,317.21 L414.40,317.16 L415.42,317.11 L416.43,317.06 L417.44,317.00 L418.46,316.95 L419.48,316.90 L420.49,316.85 L421.50,316.79 L422.52,316.74 L423.53,316.69 L424.55,316.64 L425.56,316.59 L426.58,316.54 L427.60,316.48 L428.61,316.43 L429.62,316.38 L430.64,316.33 L431.65,316.28 L432.67,316.23 L433.69,316.18 L434.70,316.13 L435.72,316.09 L436.73,316.04 L437.75,315.99 L438.76,315.94 L439.77,315.90 L440.79,315.85 L441.81,315.81 L442.82,315.76 L443.84,315.72 L444.85,315.68 L445.87,315.63 L446.88,315.59 L447.89,315.55 L448.91,315.51 L449.93,315.47 L450.94,315.43 L451.96,315.39 L452.97,315.36 L453.99,315.32 L455.00,315.29 L456.01,315.25 L457.03,315.22 L458.05,315.18 L459.06,315.15 L460.07,315.12 L461.09,315.08 L462.11,315.05 L463.12,315.02 L464.13,314.99 L465.15,314.96 L466.17,314.92 L467.18,314.89 L468.19,314.86 L469.21,314.83 L470.23,314.80 L471.24,314.77 L472.25,314.74 L473.27,314.71 L474.29,314.68 L475.30,314.65 L476.31,314.63 L477.33,314.60 L478.35,314.57 L479.36,314.54 L480.38,314.52 L481.39,314.49 L482.41,314.46 L483.42,314.44 L484.44,314.41 L485.45,314.38 L486.47,314.36 L487.48,314.33 L488.50,314.31 L489.51,314.28 L490.52,314.26 L491.54,314.24 L492.56,314.21 L493.57,314.19 L494.59,314.17 L495.60,314.14 L496.62,314.12 L497.63,314.10 L498.64,314.08 L499.66,314.06 L500.68,314.04 L501.69,314.02 L502.71,314.00 L503.72,313.98 L504.74,313.96 L505.75,313.94 L506.76,313.92 L507.78,313.90 L508.80,313.88 L509.81,313.86 L510.82,313.84 L511.84,313.83 L512.86,313.81 L513.87,313.79 L514.88,313.77 L515.90,313.75 L516.91,313.73 L517.93,313.72 L518.94,313.70 L519.96,313.68 L520.98,313.67 L521.99,313.65 L523.00,313.63 L524.02,313.62 L525.04,313.60 L526.05,313.58 L527.07,313.57 L528.08,313.55 L529.10,313.53 L530.11,313.52 L531.12,313.50 L532.14,313.49 L533.15,313.47 L534.17,313.46 L535.18,313.44 L536.20,313.43 L537.22,313.42 L538.23,313.40 L539.25,313.39 L540.26,313.38 L541.27,313.36 L542.29,313.35 L543.31,313.34 L544.32,313.33 L545.34,313.31 L546.35,313.30 L547.37,313.29 L548.38,313.28 L549.39,313.27 L550.41,313.26 L551.42,313.25 L552.44,313.24 L553.46,313.23 L554.47,313.22 L555.49,313.21 L556.50,313.20" clip-path="url(#clipd)" fill="none" stroke="#bcbcbc" stroke-width="1.3"/><path d="M353.50,319.00v3.00M355.50,318.90v3.00M357.50,318.78v3.00M359.50,318.65v3.00M361.50,318.53v3.00M363.50,318.41v3.00M365.50,318.29v3.00M367.50,318.17v3.00M369.50,318.05v3.00M371.50,317.93v3.00M373.50,317.82v3.00M375.50,317.70v3.00M377.50,317.59v3.00M379.50,317.48v3.00M381.50,317.38v3.00M383.50,317.27v3.00M385.50,317.16v3.00M387.50,317.06v3.00M389.50,316.95v3.00M391.50,316.85v3.00M393.50,316.75v3.00M395.50,316.64v3.00M397.50,316.54v3.00M399.50,316.44v3.00M401.50,316.34v3.00M403.50,316.24v3.00M405.50,316.14v3.00M407.50,316.04v3.00M409.50,315.94v3.00M411.50,315.84v3.00M413.50,315.73v3.00M415.50,315.63v3.00M417.50,315.53v3.00M419.50,315.42v3.00M421.50,315.32v3.00M423.50,315.22v3.00M425.50,315.11v3.00M427.50,315.01v3.00M429.50,314.91v3.00M431.50,314.81v3.00M433.50,314.72v3.00M435.50,314.62v3.00M437.50,314.53v3.00M439.50,314.43v3.00M441.50,314.34v3.00M443.50,314.25v3.00M445.50,314.17v3.00M447.50,314.09v3.00M449.50,314.01v3.00M451.50,313.93v3.00M453.50,313.86v3.00M455.50,313.79v3.00M457.50,313.72v3.00M459.50,313.65v3.00M461.50,313.59v3.00M463.50,313.52v3.00M465.50,313.46v3.00M467.50,313.40v3.00M469.50,313.34v3.00M471.50,313.28v3.00M473.50,313.22v3.00M475.50,313.16v3.00M477.50,313.11v3.00M479.50,313.05v3.00M481.50,313.00v3.00M483.50,312.95v3.00M485.50,312.89v3.00M487.50,312.84v3.00M489.50,312.80v3.00M491.50,312.75v3.00M493.50,312.70v3.00M495.50,312.66v3.00M497.50,312.61v3.00M499.50,312.57v3.00M501.50,312.53v3.00M503.50,312.49v3.00M505.50,312.45v3.00M507.50,312.41v3.00M509.50,312.38v3.00M511.50,312.34v3.00M513.50,312.30v3.00M515.50,312.27v3.00M517.50,312.23v3.00M519.50,312.20v3.00M521.50,312.16v3.00M523.50,312.13v3.00M525.50,312.10v3.00M527.50,312.07v3.00M529.50,312.04v3.00M531.50,312.01v3.00M533.50,311.98v3.00M535.50,311.95v3.00M537.50,311.92v3.00M539.50,311.89v3.00M541.50,311.87v3.00M543.50,311.84v3.00M545.50,311.82v3.00M547.50,311.79v3.00M549.50,311.77v3.00M551.50,311.75v3.00M553.50,311.73v3.00M555.50,311.71v3.00" fill="none" stroke="#a9a9a9" stroke-width="1"/><path d="M353.50,320.50 L354.51,322.35 L355.53,324.08 L356.55,325.64 L357.56,326.96 L358.57,328.14 L359.59,329.22 L360.61,330.23 L361.62,331.18 L362.63,332.12 L363.65,333.07 L364.67,334.03 L365.68,334.97 L366.69,335.89 L367.71,336.80 L368.73,337.69 L369.74,338.58 L370.75,339.44 L371.77,340.30 L372.79,341.14 L373.80,341.97 L374.81,342.79 L375.83,343.61 L376.85,344.42 L377.86,345.22 L378.88,346.00 L379.89,346.77 L380.90,347.52 L381.92,348.25 L382.94,348.96 L383.95,349.63 L384.97,350.29 L385.98,350.92 L387.00,351.54 L388.01,352.14 L389.02,352.73 L390.04,353.30 L391.06,353.86 L392.07,354.41 L393.08,354.94 L394.10,355.46 L395.12,355.97 L396.13,356.46 L397.14,356.94 L398.16,357.41 L399.18,357.86 L400.19,358.31 L401.20,358.76 L402.22,359.20 L403.24,359.63 L404.25,360.06 L405.26,360.49 L406.28,360.93 L407.30,361.36 L408.31,361.79 L409.32,362.23 L410.34,362.66 L411.36,363.09 L412.37,363.51 L413.38,363.93 L414.40,364.35 L415.42,364.76 L416.43,365.16 L417.44,365.56 L418.46,365.94 L419.48,366.32 L420.49,366.69 L421.50,367.04 L422.52,367.39 L423.53,367.72 L424.55,368.03 L425.56,368.34 L426.58,368.65 L427.60,368.95 L428.61,369.24 L429.62,369.54 L430.64,369.83 L431.65,370.11 L432.67,370.40 L433.69,370.67 L434.70,370.95 L435.72,371.22 L436.73,371.49 L437.75,371.75 L438.76,372.02 L439.77,372.27 L440.79,372.53 L441.81,372.78 L442.82,373.02 L443.84,373.26 L444.85,373.50 L445.87,373.74 L446.88,373.97 L447.89,374.20 L448.91,374.42 L449.93,374.64 L450.94,374.85 L451.96,375.07 L452.97,375.28 L453.99,375.48 L455.00,375.68 L456.01,375.88 L457.03,376.07 L458.05,376.26 L459.06,376.45 L460.07,376.63 L461.09,376.80 L462.11,376.98 L463.12,377.15 L464.13,377.32 L465.15,377.49 L466.17,377.65 L467.18,377.81 L468.19,377.97 L469.21,378.13 L470.23,378.29 L471.24,378.44 L472.25,378.59 L473.27,378.74 L474.29,378.89 L475.30,379.04 L476.31,379.18 L477.33,379.32 L478.35,379.46 L479.36,379.60 L480.38,379.74 L481.39,379.87 L482.41,380.01 L483.42,380.14 L484.44,380.27 L485.45,380.40 L486.47,380.53 L487.48,380.65 L488.50,380.78 L489.51,380.90 L490.52,381.03 L491.54,381.15 L492.56,381.27 L493.57,381.39 L494.59,381.51 L495.60,381.62 L496.62,381.74 L497.63,381.86 L498.64,381.97 L499.66,382.08 L500.68,382.20 L501.69,382.31 L502.71,382.42 L503.72,382.53 L504.74,382.64 L505.75,382.75 L506.76,382.86 L507.78,382.97 L508.80,383.08 L509.81,383.19 L510.82,383.30 L511.84,383.40 L512.86,383.51 L513.87,383.62 L514.88,383.72 L515.90,383.82 L516.91,383.93 L517.93,384.03 L518.94,384.13 L519.96,384.24 L520.98,384.34 L521.99,384.44 L523.00,384.54 L524.02,384.64 L525.04,384.74 L526.05,384.83 L527.07,384.93 L528.08,385.03 L529.10,385.12 L530.11,385.22 L531.12,385.31 L532.14,385.40 L533.15,385.49 L534.17,385.59 L535.18,385.68 L536.20,385.76 L537.22,385.85 L538.23,385.94 L539.25,386.03 L540.26,386.11 L541.27,386.20 L542.29,386.28 L543.31,386.37 L544.32,386.45 L545.34,386.53 L546.35,386.61 L547.37,386.69 L548.38,386.77 L549.39,386.84 L550.41,386.92 L551.42,386.99 L552.44,387.07 L553.46,387.14 L554.47,387.21 L555.49,387.28 L556.50,387.35" clip-path="url(#clipd)" fill="none" stroke="#b6b6b6" stroke-width="1.4"/><path d="M353.50,318.95v3.10M354.50,321.07v3.10M355.50,323.14v3.10M357.50,324.71v3.10M358.50,326.57v3.10M360.50,328.11v3.10M361.50,329.78v3.10M363.50,330.93v3.10M364.50,332.57v3.10M366.50,333.72v3.10M367.50,335.34v3.10M369.50,336.39v3.10M370.50,337.96v3.10M372.50,338.96v3.10M373.50,340.50v3.10M375.50,341.40v3.10M376.50,342.91v3.10M378.50,343.78v3.10M379.50,345.26v3.10M381.50,346.05v3.10M382.50,347.44v3.10M384.50,348.12v3.10M386.50,349.39v3.10M388.50,350.59v3.10M390.50,351.74v3.10M392.50,352.83v3.10M394.50,353.87v3.10M396.50,354.85v3.10M398.50,355.79v3.10M400.50,356.69v3.10M402.50,357.56v3.10M404.50,358.41v3.10M406.50,359.26v3.10M408.50,360.11v3.10M410.50,360.97v3.10M412.50,361.81v3.10M414.50,362.64v3.10M416.50,363.45v3.10M418.50,364.22v3.10M420.50,364.96v3.10M422.50,365.67v3.10M424.50,366.32v3.10M426.50,366.93v3.10M428.50,367.52v3.10M430.50,368.10v3.10M432.50,368.66v3.10M434.50,369.21v3.10M436.50,369.75v3.10M438.50,370.28v3.10M440.50,370.78v3.10M442.50,371.28v3.10M444.50,371.76v3.10M446.50,372.22v3.10M448.50,372.67v3.10M450.50,373.11v3.10M452.50,373.53v3.10M454.50,373.94v3.10M456.50,374.33v3.10M458.50,374.71v3.10M460.50,375.07v3.10M462.50,375.41v3.10M464.50,375.75v3.10M466.50,376.08v3.10M468.50,376.40v3.10M470.50,376.71v3.10M472.50,377.01v3.10M474.50,377.30v3.10M476.50,377.59v3.10M478.50,377.87v3.10M480.50,378.14v3.10M482.50,378.41v3.10M484.50,378.67v3.10M486.50,378.92v3.10M488.50,379.17v3.10M490.50,379.41v3.10M492.50,379.65v3.10M494.50,379.89v3.10M496.50,380.12v3.10M498.50,380.35v3.10M500.50,380.57v3.10M502.50,380.80v3.10M504.50,381.02v3.10M506.50,381.23v3.10M508.50,381.45v3.10M510.50,381.66v3.10M512.50,381.87v3.10M514.50,382.08v3.10M516.50,382.29v3.10M518.50,382.49v3.10M520.50,382.69v3.10M522.50,382.89v3.10M524.50,383.09v3.10M526.50,383.28v3.10M528.50,383.47v3.10M530.50,383.66v3.10M532.50,383.84v3.10M534.50,384.02v3.10M536.50,384.20v3.10M538.50,384.37v3.10M540.50,384.54v3.10M542.50,384.71v3.10M544.50,384.87v3.10M546.50,385.03v3.10M548.50,385.19v3.10M550.50,385.34v3.10M552.50,385.49v3.10M554.50,385.63v3.10M556.50,385.77v3.10" fill="none" stroke="#a2a2a2" stroke-width="1"/><path d="M353.50,320.50 L354.51,321.09 L355.53,321.67 L356.55,322.24 L357.56,322.79 L358.57,323.32 L359.59,323.84 L360.61,324.34 L361.62,324.83 L362.63,325.31 L363.65,325.77 L364.67,326.24 L365.68,326.69 L366.69,327.13 L367.71,327.55 L368.73,327.96 L369.74,328.36 L370.75,328.76 L371.77,329.15 L372.79,329.54 L373.80,329.91 L374.81,330.28 L375.83,330.65 L376.85,331.00 L377.86,331.35 L378.88,331.70 L379.89,332.03 L380.90,332.36 L381.92,332.69 L382.94,333.01 L383.95,333.33 L384.97,333.65 L385.98,333.96 L387.00,334.28 L388.01,334.58 L389.02,334.89 L390.04,335.19 L391.06,335.49 L392.07,335.78 L393.08,336.07 L394.10,336.36 L395.12,336.65 L396.13,336.93 L397.14,337.20 L398.16,337.48 L399.18,337.74 L400.19,338.01 L401.20,338.27 L402.22,338.53 L403.24,338.78 L404.25,339.03 L405.26,339.28 L406.28,339.52 L407.30,339.76 L408.31,340.00 L409.32,340.24 L410.34,340.47 L411.36,340.70 L412.37,340.93 L413.38,341.15 L414.40,341.37 L415.42,341.59 L416.43,341.81 L417.44,342.03 L418.46,342.24 L419.48,342.45 L420.49,342.66 L421.50,342.86 L422.52,343.07 L423.53,343.27 L424.55,343.46 L425.56,343.66 L426.58,343.85 L427.60,344.04 L428.61,344.23 L429.62,344.42 L430.64,344.60 L431.65,344.78 L432.67,344.96 L433.69,345.14 L434.70,345.32 L435.72,345.49 L436.73,345.66 L437.75,345.83 L438.76,346.00 L439.77,346.16 L440.79,346.33 L441.81,346.49 L442.82,346.64 L443.84,346.80 L444.85,346.96 L445.87,347.11 L446.88,347.26 L447.89,347.41 L448.91,347.56 L449.93,347.70 L450.94,347.85 L451.96,347.99 L452.97,348.13 L453.99,348.27 L455.00,348.41 L456.01,348.54 L457.03,348.68 L458.05,348.81 L459.06,348.95 L460.07,349.08 L461.09,349.21 L462.11,349.34 L463.12,349.47 L464.13,349.60 L465.15,349.73 L466.17,349.86 L467.18,349.99 L468.19,350.12 L469.21,350.24 L470.23,350.37 L471.24,350.50 L472.25,350.62 L473.27,350.74 L474.29,350.87 L475.30,350.99 L476.31,351.11 L477.33,351.23 L478.35,351.35 L479.36,351.47 L480.38,351.58 L481.39,351.70 L482.41,351.81 L483.42,351.93 L484.44,352.04 L485.45,352.16 L486.47,352.27 L487.48,352.38 L488.50,352.49 L489.51,352.60 L490.52,352.71 L491.54,352.81 L492.56,352.92 L493.57,353.02 L494.59,353.13 L495.60,353.23 L496.62,353.33 L497.63,353.43 L498.64,353.53 L499.66,353.63 L500.68,353.73 L501.69,353.83 L502.71,353.92 L503.72,354.02 L504.74,354.11 L505.75,354.20 L506.76,354.30 L507.78,354.39 L508.80,354.48 L509.81,354.57 L510.82,354.66 L511.84,354.75 L512.86,354.84 L513.87,354.93 L514.88,355.01 L515.90,355.10 L516.91,355.19 L517.93,355.28 L518.94,355.36 L519.96,355.45 L520.98,355.53 L521.99,355.61 L523.00,355.70 L524.02,355.78 L525.04,355.86 L526.05,355.94 L527.07,356.03 L528.08,356.11 L529.10,356.18 L530.11,356.26 L531.12,356.34 L532.14,356.42 L533.15,356.50 L534.17,356.57 L535.18,356.65 L536.20,356.72 L537.22,356.79 L538.23,356.87 L539.25,356.94 L540.26,357.01 L541.27,357.08 L542.29,357.15 L543.31,357.22 L544.32,357.29 L545.34,357.35 L546.35,357.42 L547.37,357.49 L548.38,357.55 L549.39,357.62 L550.41,357.68 L551.42,357.74 L552.44,357.80 L553.46,357.86 L554.47,357.92 L555.49,357.98 L556.50,358.04" clip-path="url(#clipd)" fill="none" stroke="#8e8e8e" stroke-width="2"/><path d="M353.50,320.50 L354.51,320.57 L355.53,320.64 L356.55,320.71 L357.56,320.78 L358.57,320.85 L359.59,320.92 L360.61,320.98 L361.62,321.05 L362.63,321.12 L363.65,321.19 L364.67,321.26 L365.68,321.32 L366.69,321.39 L367.71,321.46 L368.73,321.52 L369.74,321.59 L370.75,321.65 L371.77,321.72 L372.79,321.78 L373.80,321.85 L374.81,321.91 L375.83,321.98 L376.85,322.04 L377.86,322.11 L378.88,322.17 L379.89,322.23 L380.90,322.30 L381.92,322.36 L382.94,322.42 L383.95,322.49 L384.97,322.55 L385.98,322.61 L387.00,322.68 L388.01,322.74 L389.02,322.80 L390.04,322.86 L391.06,322.92 L392.07,322.98 L393.08,323.04 L394.10,323.10 L395.12,323.16 L396.13,323.22 L397.14,323.28 L398.16,323.34 L399.18,323.40 L400.19,323.46 L401.20,323.52 L402.22,323.58 L403.24,323.63 L404.25,323.69 L405.26,323.75 L406.28,323.80 L407.30,323.86 L408.31,323.91 L409.32,323.97 L410.34,324.02 L411.36,324.08 L412.37,324.13 L413.38,324.19 L414.40,324.24 L415.42,324.29 L416.43,324.35 L417.44,324.40 L418.46,324.45 L419.48,324.51 L420.49,324.56 L421.50,324.61 L422.52,324.66 L423.53,324.72 L424.55,324.77 L425.56,324.82 L426.58,324.87 L427.60,324.92 L428.61,324.97 L429.62,325.02 L430.64,325.07 L431.65,325.13 L432.67,325.18 L433.69,325.23 L434.70,325.28 L435.72,325.33 L436.73,325.38 L437.75,325.43 L438.76,325.48 L439.77,325.53 L440.79,325.58 L441.81,325.63 L442.82,325.68 L443.84,325.73 L444.85,325.77 L445.87,325.82 L446.88,325.87 L447.89,325.92 L448.91,325.97 L449.93,326.02 L450.94,326.07 L451.96,326.12 L452.97,326.17 L453.99,326.22 L455.00,326.27 L456.01,326.31 L457.03,326.36 L458.05,326.41 L459.06,326.46 L460.07,326.51 L461.09,326.56 L462.11,326.61 L463.12,326.65 L464.13,326.70 L465.15,326.75 L466.17,326.80 L467.18,326.85 L468.19,326.90 L469.21,326.94 L470.23,326.99 L471.24,327.04 L472.25,327.09 L473.27,327.14 L474.29,327.18 L475.30,327.23 L476.31,327.28 L477.33,327.32 L478.35,327.37 L479.36,327.42 L480.38,327.47 L481.39,327.51 L482.41,327.56 L483.42,327.61 L484.44,327.65 L485.45,327.70 L486.47,327.74 L487.48,327.79 L488.50,327.84 L489.51,327.88 L490.52,327.93 L491.54,327.97 L492.56,328.02 L493.57,328.06 L494.59,328.11 L495.60,328.15 L496.62,328.20 L497.63,328.24 L498.64,328.29 L499.66,328.33 L500.68,328.38 L501.69,328.42 L502.71,328.47 L503.72,328.51 L504.74,328.55 L505.75,328.60 L506.76,328.64 L507.78,328.68 L508.80,328.73 L509.81,328.77 L510.82,328.81 L511.84,328.85 L512.86,328.90 L513.87,328.94 L514.88,328.98 L515.90,329.02 L516.91,329.07 L517.93,329.11 L518.94,329.15 L519.96,329.19 L520.98,329.23 L521.99,329.28 L523.00,329.32 L524.02,329.36 L525.04,329.40 L526.05,329.44 L527.07,329.48 L528.08,329.52 L529.10,329.56 L530.11,329.60 L531.12,329.64 L532.14,329.69 L533.15,329.73 L534.17,329.77 L535.18,329.81 L536.20,329.85 L537.22,329.89 L538.23,329.93 L539.25,329.97 L540.26,330.00 L541.27,330.04 L542.29,330.08 L543.31,330.12 L544.32,330.16 L545.34,330.20 L546.35,330.24 L547.37,330.28 L548.38,330.32 L549.39,330.35 L550.41,330.39 L551.42,330.43 L552.44,330.47 L553.46,330.51 L554.47,330.54 L555.49,330.58 L556.50,330.62" clip-path="url(#clipd)" fill="none" stroke="#151515" stroke-width="1.7"/><path d="M353.50,320.50 L354.51,319.81 L355.53,319.12 L356.55,318.45 L357.56,317.78 L358.57,317.12 L359.59,316.46 L360.61,315.82 L361.62,315.18 L362.63,314.55 L363.65,313.92 L364.67,313.31 L365.68,312.70 L366.69,312.10 L367.71,311.50 L368.73,310.91 L369.74,310.33 L370.75,309.76 L371.77,309.19 L372.79,308.62 L373.80,308.07 L374.81,307.52 L375.83,306.98 L376.85,306.44 L377.86,305.91 L378.88,305.38 L379.89,304.86 L380.90,304.35 L381.92,303.84 L382.94,303.33 L383.95,302.84 L384.97,302.34 L385.98,301.86 L387.00,301.38 L388.01,300.90 L389.02,300.43 L390.04,299.96 L391.06,299.50 L392.07,299.04 L393.08,298.59 L394.10,298.14 L395.12,297.70 L396.13,297.26 L397.14,296.82 L398.16,296.39 L399.18,295.97 L400.19,295.55 L401.20,295.13 L402.22,294.71 L403.24,294.31 L404.25,293.90 L405.26,293.50 L406.28,293.10 L407.30,292.70 L408.31,292.31 L409.32,291.93 L410.34,291.54 L411.36,291.16 L412.37,290.79 L413.38,290.41 L414.40,290.04 L415.42,289.67 L416.43,289.31 L417.44,288.95 L418.46,288.59 L419.48,288.24 L420.49,287.88 L421.50,287.53 L422.52,287.19 L423.53,286.84 L424.55,286.50 L425.56,286.16 L426.58,285.83 L427.60,285.50 L428.61,285.16 L429.62,284.84 L430.64,284.51 L431.65,284.19 L432.67,283.87 L433.69,283.55 L434.70,283.23 L435.72,282.92 L436.73,282.60 L437.75,282.29 L438.76,281.99 L439.77,281.68 L440.79,281.38 L441.81,281.07 L442.82,280.77 L443.84,280.47 L444.85,280.18 L445.87,279.88 L446.88,279.59 L447.89,279.30 L448.91,279.01 L449.93,278.72 L450.94,278.44 L451.96,278.15 L452.97,277.87 L453.99,277.59 L455.00,277.31 L456.01,277.03 L457.03,276.75 L458.05,276.48 L459.06,276.20 L460.07,275.93 L461.09,275.66 L462.11,275.39 L463.12,275.12 L464.13,274.86 L465.15,274.59 L466.17,274.33 L467.18,274.07 L468.19,273.80 L469.21,273.54 L470.23,273.29 L471.24,273.03 L472.25,272.77 L473.27,272.52 L474.29,272.26 L475.30,272.01 L476.31,271.76 L477.33,271.51 L478.35,271.26 L479.36,271.01 L480.38,270.76 L481.39,270.52 L482.41,270.28 L483.42,270.03 L484.44,269.79 L485.45,269.55 L486.47,269.31 L487.48,269.07 L488.50,268.83 L489.51,268.60 L490.52,268.36 L491.54,268.13 L492.56,267.90 L493.57,267.67 L494.59,267.44 L495.60,267.21 L496.62,266.98 L497.63,266.75 L498.64,266.53 L499.66,266.31 L500.68,266.08 L501.69,265.86 L502.71,265.64 L503.72,265.42 L504.74,265.21 L505.75,264.99 L506.76,264.78 L507.78,264.56 L508.80,264.35 L509.81,264.14 L510.82,263.93 L511.84,263.73 L512.86,263.52 L513.87,263.32 L514.88,263.11 L515.90,262.91 L516.91,262.71 L517.93,262.52 L518.94,262.32 L519.96,262.13 L520.98,261.93 L521.99,261.74 L523.00,261.55 L524.02,261.37 L525.04,261.18 L526.05,261.00 L527.07,260.82 L528.08,260.64 L529.10,260.46 L530.11,260.28 L531.12,260.11 L532.14,259.94 L533.15,259.77 L534.17,259.60 L535.18,259.44 L536.20,259.27 L537.22,259.11 L538.23,258.95 L539.25,258.80 L540.26,258.65 L541.27,258.50 L542.29,258.35 L543.31,258.20 L544.32,258.06 L545.34,257.92 L546.35,257.78 L547.37,257.65 L548.38,257.51 L549.39,257.39 L550.41,257.26 L551.42,257.14 L552.44,257.02 L553.46,256.90 L554.47,256.79 L555.49,256.68 L556.50,256.57" clip-path="url(#clipd)" fill="none" stroke="#262626" stroke-width="2.8"/><path d="M353.50,320.50 L354.51,319.81 L355.53,319.12 L356.55,318.45 L357.56,317.78 L358.57,317.12 L359.59,316.46 L360.61,315.82 L361.62,315.18 L362.63,314.55 L363.65,313.92 L364.67,313.31 L365.68,312.70 L366.69,312.10 L367.71,311.50 L368.73,310.91 L369.74,310.33 L370.75,309.76 L371.77,309.19 L372.79,308.62 L373.80,308.07 L374.81,307.52 L375.83,306.98 L376.85,306.44 L377.86,305.91 L378.88,305.38 L379.89,304.86 L380.90,304.35 L381.92,303.84 L382.94,303.33 L383.95,302.84 L384.97,302.34 L385.98,301.86 L387.00,301.38 L388.01,300.90 L389.02,300.43 L390.04,299.96 L391.06,299.50 L392.07,299.04 L393.08,298.59 L394.10,298.14 L395.12,297.70 L396.13,297.26 L397.14,296.82 L398.16,296.39 L399.18,295.97 L400.19,295.55 L401.20,295.13 L402.22,294.71 L403.24,294.31 L404.25,293.90 L405.26,293.50 L406.28,293.10 L407.30,292.70 L408.31,292.31 L409.32,291.93 L410.34,291.54 L411.36,291.16 L412.37,290.79 L413.38,290.41 L414.40,290.04 L415.42,289.67 L416.43,289.31 L417.44,288.95 L418.46,288.59 L419.48,288.24 L420.49,287.88 L421.50,287.53 L422.52,287.19 L423.53,286.84 L424.55,286.50 L425.56,286.16 L426.58,285.83 L427.60,285.50 L428.61,285.16 L429.62,284.84 L430.64,284.51 L431.65,284.19 L432.67,283.87 L433.69,283.55 L434.70,283.23 L435.72,282.92 L436.73,282.60 L437.75,282.29 L438.76,281.99 L439.77,281.68 L440.79,281.38 L441.81,281.07 L442.82,280.77 L443.84,280.47 L444.85,280.18 L445.87,279.88 L446.88,279.59 L447.89,279.30 L448.91,279.01 L449.93,278.72 L450.94,278.44 L451.96,278.15 L452.97,277.87 L453.99,277.59 L455.00,277.31 L456.01,277.03 L457.03,276.75 L458.05,276.48 L459.06,276.20 L460.07,275.93 L461.09,275.66 L462.11,275.39 L463.12,275.12 L464.13,274.86 L465.15,274.59 L466.17,274.33 L467.18,274.07 L468.19,273.80 L469.21,273.54 L470.23,273.29 L471.24,273.03 L472.25,272.77 L473.27,272.52 L474.29,272.26 L475.30,272.01 L476.31,271.76 L477.33,271.51 L478.35,271.26 L479.36,271.01 L480.38,270.76 L481.39,270.52 L482.41,270.28 L483.42,270.03 L484.44,269.79 L485.45,269.55 L486.47,269.31 L487.48,269.07 L488.50,268.83 L489.51,268.60 L490.52,268.36 L491.54,268.13 L492.56,267.90 L493.57,267.67 L494.59,267.44 L495.60,267.21 L496.62,266.98 L497.63,266.75 L498.64,266.53 L499.66,266.31 L500.68,266.08 L501.69,265.86 L502.71,265.64 L503.72,265.42 L504.74,265.21 L505.75,264.99 L506.76,264.78 L507.78,264.56 L508.80,264.35 L509.81,264.14 L510.82,263.93 L511.84,263.73 L512.86,263.52 L513.87,263.32 L514.88,263.11 L515.90,262.91 L516.91,262.71 L517.93,262.52 L518.94,262.32 L519.96,262.13 L520.98,261.93 L521.99,261.74 L523.00,261.55 L524.02,261.37 L525.04,261.18 L526.05,261.00 L527.07,260.82 L528.08,260.64 L529.10,260.46 L530.11,260.28 L531.12,260.11 L532.14,259.94 L533.15,259.77 L534.17,259.60 L535.18,259.44 L536.20,259.27 L537.22,259.11 L538.23,258.95 L539.25,258.80 L540.26,258.65 L541.27,258.50 L542.29,258.35 L543.31,258.20 L544.32,258.06 L545.34,257.92 L546.35,257.78 L547.37,257.65 L548.38,257.51 L549.39,257.39 L550.41,257.26 L551.42,257.14 L552.44,257.02 L553.46,256.90 L554.47,256.79 L555.49,256.68 L556.50,256.57" clip-path="url(#clipd)" fill="none" stroke="#e8e8e8" stroke-width="1.0" stroke-dasharray="1.0 1.5"/><rect x="363.90" y="237.50" width="52.50" height="9" fill="#fff"/><text transform="translate(364.90,244.50) scale(0.855,1)" text-anchor="start" font-size="8.7" fill="#1c1c1c" stroke="#1c1c1c" stroke-width="0.16" >Model 1,250 °C</text><text transform="translate(474.10,262.60) scale(0.855,1)" text-anchor="middle" font-size="8.7" fill="#1c1c1c" stroke="#1c1c1c" stroke-width="0.16" >Sr</text><text transform="translate(509.10,307.50) scale(0.855,1)" text-anchor="middle" font-size="8.7" fill="#1c1c1c" stroke="#1c1c1c" stroke-width="0.16" >Ba</text><text transform="translate(542.80,322.30) scale(0.855,1)" text-anchor="middle" font-size="8.7" fill="#1c1c1c" stroke="#1c1c1c" stroke-width="0.16" >Rb</text><text transform="translate(510.00,339.80) scale(0.855,1)" text-anchor="middle" font-size="8.7" fill="#1c1c1c" stroke="#1c1c1c" stroke-width="0.16" >Cs</text><text transform="translate(510.00,366.00) scale(0.855,1)" text-anchor="middle" font-size="8.7" fill="#1c1c1c" stroke="#1c1c1c" stroke-width="0.16" >Li</text><text transform="translate(481.10,395.60) scale(0.855,1)" font-size="8.7" fill="#1c1c1c" stroke="#1c1c1c" stroke-width="0.16"><tspan font-size="6.3" dy="-3">87</tspan><tspan dy="3">Sr</tspan><tspan dx="0.8">/</tspan><tspan dx="0.8" font-size="6.3" dy="-3">86</tspan><tspan dy="3">Sr (×100)</tspan></text><path d="M558.50,264.40 L562.70,262.30 L562.70,266.50 Z" fill="#1c1c1c"/><text transform="translate(564.10,267.60) scale(0.8,1)" text-anchor="start" font-size="9" fill="#1c1c1c" stroke="#1c1c1c" stroke-width="0.16" >Sr</text><path d="M558.50,301.60 L562.70,299.50 L562.70,303.70 Z" fill="#1c1c1c"/><text transform="translate(564.10,304.80) scale(0.8,1)" text-anchor="start" font-size="9" fill="#1c1c1c" stroke="#1c1c1c" stroke-width="0.16" >Ba</text><path d="M558.50,339.00 L562.70,336.90 L562.70,341.10 Z" fill="#1c1c1c"/><text transform="translate(564.10,342.20) scale(0.8,1)" text-anchor="start" font-size="9" fill="#1c1c1c" stroke="#1c1c1c" stroke-width="0.16" >Rb</text><path d="M558.50,350.30 L562.70,348.20 L562.70,352.40 Z" fill="#1c1c1c"/><text transform="translate(564.10,353.50) scale(0.8,1)" text-anchor="start" font-size="9" fill="#1c1c1c" stroke="#1c1c1c" stroke-width="0.16" >Cs</text><path d="M558.50,357.60 L562.70,355.50 L562.70,359.70 Z" fill="#1c1c1c"/><text transform="translate(564.10,360.80) scale(0.8,1)" text-anchor="start" font-size="9" fill="#1c1c1c" stroke="#1c1c1c" stroke-width="0.16" >Li</text><path d="M558.50,378.40 L562.70,376.30 L562.70,380.50 Z" fill="#1c1c1c"/><path d="M562.50,378.40 H567.70 V388.90" fill="none" stroke="#3a3a3a" stroke-width="1.1"/><text transform="translate(558.40,400.50) scale(0.82,1)" font-size="9" fill="#1c1c1c" stroke="#1c1c1c" stroke-width="0.16"><tspan font-size="6.4" dy="-3.3">87/86</tspan><tspan dy="3.3">Sr</tspan></text><rect x="301" y="225.9" width="11" height="10.5" fill="#0f3c26"/><text transform="translate(306.5,234.8) scale(0.82,1)" text-anchor="middle" font-size="10.5" font-weight="bold" fill="#fff">d</text>
</svg></body></html>
